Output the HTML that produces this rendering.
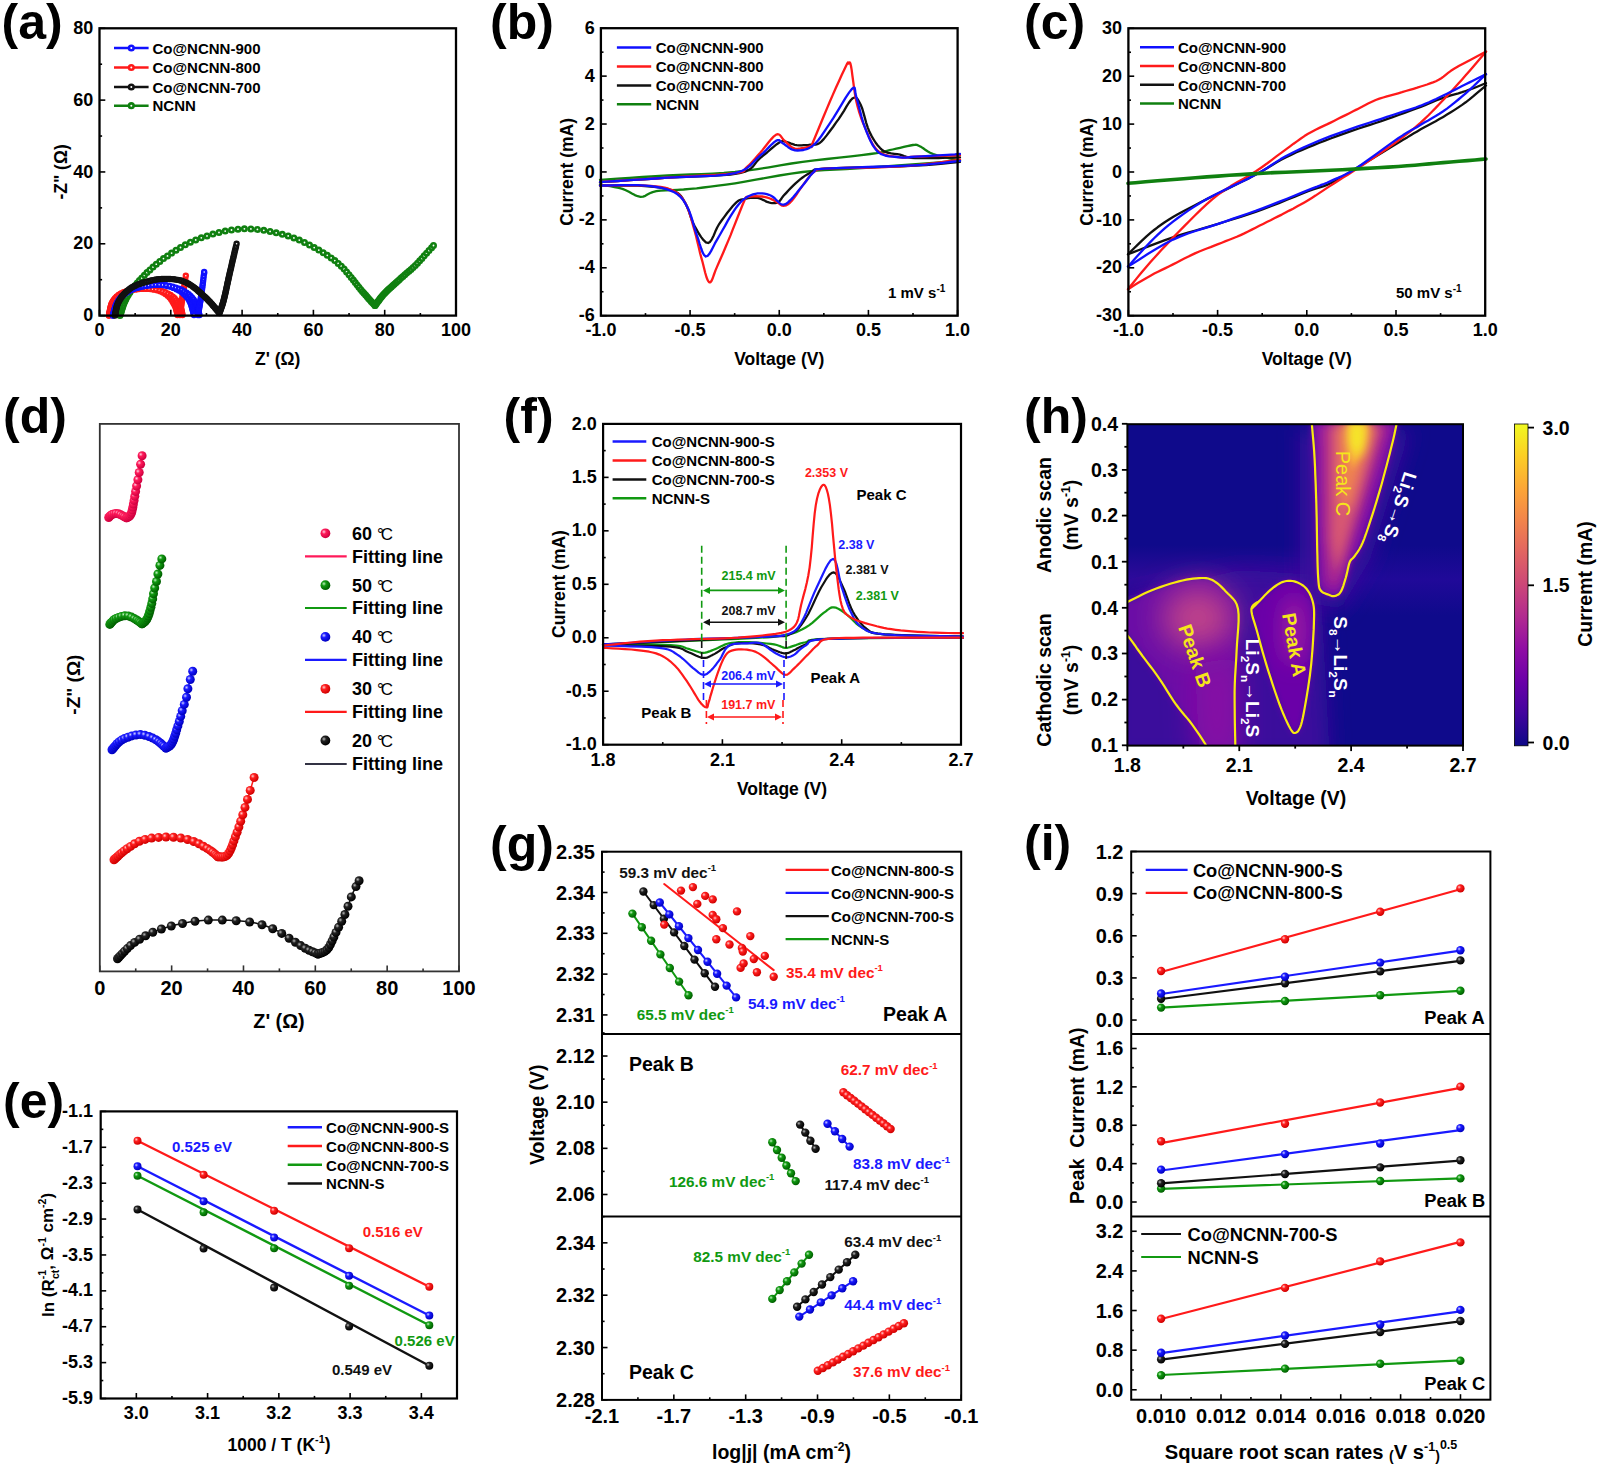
<!DOCTYPE html>
<html><head><meta charset="utf-8"><style>html,body{margin:0;padding:0;background:#fff;} svg{display:block;}</style></head>
<body><svg width="1599" height="1468" viewBox="0 0 1599 1468" font-family='"Liberation Sans", sans-serif'><text x="1.50" y="39.00" font-size="50" text-anchor="start" fill="#000" font-weight="bold">(a)</text>
<circle cx="120.0" cy="315.6" r="2.2" fill="#fff" stroke="#108010" stroke-width="2.6"/>
<circle cx="120.5" cy="314.1" r="2.2" fill="#fff" stroke="#108010" stroke-width="2.6"/>
<circle cx="121.0" cy="312.5" r="2.2" fill="#fff" stroke="#108010" stroke-width="2.6"/>
<circle cx="121.5" cy="310.8" r="2.2" fill="#fff" stroke="#108010" stroke-width="2.6"/>
<circle cx="122.0" cy="309.0" r="2.2" fill="#fff" stroke="#108010" stroke-width="2.6"/>
<circle cx="122.6" cy="307.2" r="2.2" fill="#fff" stroke="#108010" stroke-width="2.6"/>
<circle cx="123.3" cy="305.3" r="2.2" fill="#fff" stroke="#108010" stroke-width="2.6"/>
<circle cx="124.0" cy="303.3" r="2.2" fill="#fff" stroke="#108010" stroke-width="2.6"/>
<circle cx="124.9" cy="301.2" r="2.2" fill="#fff" stroke="#108010" stroke-width="2.6"/>
<circle cx="125.9" cy="299.2" r="2.2" fill="#fff" stroke="#108010" stroke-width="2.6"/>
<circle cx="127.1" cy="297.0" r="2.2" fill="#fff" stroke="#108010" stroke-width="2.6"/>
<circle cx="128.4" cy="294.8" r="2.2" fill="#fff" stroke="#108010" stroke-width="2.6"/>
<circle cx="129.9" cy="292.6" r="2.2" fill="#fff" stroke="#108010" stroke-width="2.6"/>
<circle cx="131.4" cy="290.2" r="2.2" fill="#fff" stroke="#108010" stroke-width="2.6"/>
<circle cx="133.2" cy="287.9" r="2.2" fill="#fff" stroke="#108010" stroke-width="2.6"/>
<circle cx="135.1" cy="285.5" r="2.2" fill="#fff" stroke="#108010" stroke-width="2.6"/>
<circle cx="137.2" cy="283.0" r="2.2" fill="#fff" stroke="#108010" stroke-width="2.6"/>
<circle cx="139.4" cy="280.5" r="2.2" fill="#fff" stroke="#108010" stroke-width="2.6"/>
<circle cx="141.8" cy="278.0" r="2.2" fill="#fff" stroke="#108010" stroke-width="2.6"/>
<circle cx="144.4" cy="275.3" r="2.2" fill="#fff" stroke="#108010" stroke-width="2.6"/>
<circle cx="147.0" cy="272.6" r="2.2" fill="#fff" stroke="#108010" stroke-width="2.6"/>
<circle cx="149.9" cy="269.9" r="2.2" fill="#fff" stroke="#108010" stroke-width="2.6"/>
<circle cx="153.0" cy="267.1" r="2.2" fill="#fff" stroke="#108010" stroke-width="2.6"/>
<circle cx="156.3" cy="264.2" r="2.2" fill="#fff" stroke="#108010" stroke-width="2.6"/>
<circle cx="159.8" cy="261.4" r="2.2" fill="#fff" stroke="#108010" stroke-width="2.6"/>
<circle cx="163.5" cy="258.6" r="2.2" fill="#fff" stroke="#108010" stroke-width="2.6"/>
<circle cx="167.5" cy="255.9" r="2.2" fill="#fff" stroke="#108010" stroke-width="2.6"/>
<circle cx="171.6" cy="253.1" r="2.2" fill="#fff" stroke="#108010" stroke-width="2.6"/>
<circle cx="176.0" cy="250.2" r="2.2" fill="#fff" stroke="#108010" stroke-width="2.6"/>
<circle cx="180.5" cy="247.5" r="2.2" fill="#fff" stroke="#108010" stroke-width="2.6"/>
<circle cx="185.3" cy="244.8" r="2.2" fill="#fff" stroke="#108010" stroke-width="2.6"/>
<circle cx="190.4" cy="242.2" r="2.2" fill="#fff" stroke="#108010" stroke-width="2.6"/>
<circle cx="195.7" cy="239.9" r="2.2" fill="#fff" stroke="#108010" stroke-width="2.6"/>
<circle cx="201.3" cy="237.8" r="2.2" fill="#fff" stroke="#108010" stroke-width="2.6"/>
<circle cx="207.0" cy="235.9" r="2.2" fill="#fff" stroke="#108010" stroke-width="2.6"/>
<circle cx="212.9" cy="234.1" r="2.2" fill="#fff" stroke="#108010" stroke-width="2.6"/>
<circle cx="219.0" cy="232.5" r="2.2" fill="#fff" stroke="#108010" stroke-width="2.6"/>
<circle cx="225.2" cy="231.1" r="2.2" fill="#fff" stroke="#108010" stroke-width="2.6"/>
<circle cx="231.5" cy="230.0" r="2.2" fill="#fff" stroke="#108010" stroke-width="2.6"/>
<circle cx="238.0" cy="229.2" r="2.2" fill="#fff" stroke="#108010" stroke-width="2.6"/>
<circle cx="244.4" cy="228.8" r="2.2" fill="#fff" stroke="#108010" stroke-width="2.6"/>
<circle cx="250.9" cy="228.9" r="2.2" fill="#fff" stroke="#108010" stroke-width="2.6"/>
<circle cx="257.4" cy="229.4" r="2.2" fill="#fff" stroke="#108010" stroke-width="2.6"/>
<circle cx="263.8" cy="230.3" r="2.2" fill="#fff" stroke="#108010" stroke-width="2.6"/>
<circle cx="270.1" cy="231.4" r="2.2" fill="#fff" stroke="#108010" stroke-width="2.6"/>
<circle cx="276.2" cy="232.8" r="2.2" fill="#fff" stroke="#108010" stroke-width="2.6"/>
<circle cx="282.3" cy="234.3" r="2.2" fill="#fff" stroke="#108010" stroke-width="2.6"/>
<circle cx="288.2" cy="235.9" r="2.2" fill="#fff" stroke="#108010" stroke-width="2.6"/>
<circle cx="293.9" cy="237.9" r="2.2" fill="#fff" stroke="#108010" stroke-width="2.6"/>
<circle cx="299.3" cy="240.1" r="2.2" fill="#fff" stroke="#108010" stroke-width="2.6"/>
<circle cx="304.5" cy="242.5" r="2.2" fill="#fff" stroke="#108010" stroke-width="2.6"/>
<circle cx="309.5" cy="245.0" r="2.2" fill="#fff" stroke="#108010" stroke-width="2.6"/>
<circle cx="314.2" cy="247.6" r="2.2" fill="#fff" stroke="#108010" stroke-width="2.6"/>
<circle cx="318.8" cy="250.1" r="2.2" fill="#fff" stroke="#108010" stroke-width="2.6"/>
<circle cx="323.2" cy="252.7" r="2.2" fill="#fff" stroke="#108010" stroke-width="2.6"/>
<circle cx="327.3" cy="255.3" r="2.2" fill="#fff" stroke="#108010" stroke-width="2.6"/>
<circle cx="331.2" cy="257.9" r="2.2" fill="#fff" stroke="#108010" stroke-width="2.6"/>
<circle cx="334.8" cy="260.6" r="2.2" fill="#fff" stroke="#108010" stroke-width="2.6"/>
<circle cx="338.2" cy="263.4" r="2.2" fill="#fff" stroke="#108010" stroke-width="2.6"/>
<circle cx="341.3" cy="266.2" r="2.2" fill="#fff" stroke="#108010" stroke-width="2.6"/>
<circle cx="344.1" cy="269.1" r="2.2" fill="#fff" stroke="#108010" stroke-width="2.6"/>
<circle cx="346.6" cy="271.9" r="2.2" fill="#fff" stroke="#108010" stroke-width="2.6"/>
<circle cx="349.0" cy="274.7" r="2.2" fill="#fff" stroke="#108010" stroke-width="2.6"/>
<circle cx="351.2" cy="277.4" r="2.2" fill="#fff" stroke="#108010" stroke-width="2.6"/>
<circle cx="353.3" cy="280.1" r="2.2" fill="#fff" stroke="#108010" stroke-width="2.6"/>
<circle cx="355.2" cy="282.6" r="2.2" fill="#fff" stroke="#108010" stroke-width="2.6"/>
<circle cx="357.1" cy="285.0" r="2.2" fill="#fff" stroke="#108010" stroke-width="2.6"/>
<circle cx="358.9" cy="287.2" r="2.2" fill="#fff" stroke="#108010" stroke-width="2.6"/>
<circle cx="360.7" cy="289.4" r="2.2" fill="#fff" stroke="#108010" stroke-width="2.6"/>
<circle cx="362.4" cy="291.4" r="2.2" fill="#fff" stroke="#108010" stroke-width="2.6"/>
<circle cx="364.0" cy="293.3" r="2.2" fill="#fff" stroke="#108010" stroke-width="2.6"/>
<circle cx="365.6" cy="295.1" r="2.2" fill="#fff" stroke="#108010" stroke-width="2.6"/>
<circle cx="367.1" cy="296.8" r="2.2" fill="#fff" stroke="#108010" stroke-width="2.6"/>
<circle cx="368.5" cy="298.4" r="2.2" fill="#fff" stroke="#108010" stroke-width="2.6"/>
<circle cx="369.9" cy="300.0" r="2.2" fill="#fff" stroke="#108010" stroke-width="2.6"/>
<circle cx="371.2" cy="301.4" r="2.2" fill="#fff" stroke="#108010" stroke-width="2.6"/>
<circle cx="372.5" cy="302.8" r="2.2" fill="#fff" stroke="#108010" stroke-width="2.6"/>
<circle cx="373.7" cy="304.1" r="2.2" fill="#fff" stroke="#108010" stroke-width="2.6"/>
<circle cx="375.0" cy="305.6" r="2.2" fill="#fff" stroke="#108010" stroke-width="2.6"/>
<circle cx="375.0" cy="305.6" r="2.2" fill="#fff" stroke="#108010" stroke-width="2.6"/>
<circle cx="375.7" cy="304.6" r="2.2" fill="#fff" stroke="#108010" stroke-width="2.6"/>
<circle cx="376.4" cy="303.6" r="2.2" fill="#fff" stroke="#108010" stroke-width="2.6"/>
<circle cx="377.2" cy="302.6" r="2.2" fill="#fff" stroke="#108010" stroke-width="2.6"/>
<circle cx="377.9" cy="301.5" r="2.2" fill="#fff" stroke="#108010" stroke-width="2.6"/>
<circle cx="378.8" cy="300.4" r="2.2" fill="#fff" stroke="#108010" stroke-width="2.6"/>
<circle cx="379.6" cy="299.3" r="2.2" fill="#fff" stroke="#108010" stroke-width="2.6"/>
<circle cx="380.5" cy="298.1" r="2.2" fill="#fff" stroke="#108010" stroke-width="2.6"/>
<circle cx="381.4" cy="296.9" r="2.2" fill="#fff" stroke="#108010" stroke-width="2.6"/>
<circle cx="382.4" cy="295.7" r="2.2" fill="#fff" stroke="#108010" stroke-width="2.6"/>
<circle cx="383.5" cy="294.5" r="2.2" fill="#fff" stroke="#108010" stroke-width="2.6"/>
<circle cx="384.7" cy="293.3" r="2.2" fill="#fff" stroke="#108010" stroke-width="2.6"/>
<circle cx="385.9" cy="292.1" r="2.2" fill="#fff" stroke="#108010" stroke-width="2.6"/>
<circle cx="387.1" cy="290.8" r="2.2" fill="#fff" stroke="#108010" stroke-width="2.6"/>
<circle cx="388.4" cy="289.6" r="2.2" fill="#fff" stroke="#108010" stroke-width="2.6"/>
<circle cx="389.8" cy="288.3" r="2.2" fill="#fff" stroke="#108010" stroke-width="2.6"/>
<circle cx="391.3" cy="286.9" r="2.2" fill="#fff" stroke="#108010" stroke-width="2.6"/>
<circle cx="392.8" cy="285.6" r="2.2" fill="#fff" stroke="#108010" stroke-width="2.6"/>
<circle cx="394.3" cy="284.2" r="2.2" fill="#fff" stroke="#108010" stroke-width="2.6"/>
<circle cx="395.9" cy="282.7" r="2.2" fill="#fff" stroke="#108010" stroke-width="2.6"/>
<circle cx="397.6" cy="281.2" r="2.2" fill="#fff" stroke="#108010" stroke-width="2.6"/>
<circle cx="399.3" cy="279.7" r="2.2" fill="#fff" stroke="#108010" stroke-width="2.6"/>
<circle cx="401.1" cy="278.0" r="2.2" fill="#fff" stroke="#108010" stroke-width="2.6"/>
<circle cx="402.9" cy="276.4" r="2.2" fill="#fff" stroke="#108010" stroke-width="2.6"/>
<circle cx="404.8" cy="274.7" r="2.2" fill="#fff" stroke="#108010" stroke-width="2.6"/>
<circle cx="406.8" cy="273.0" r="2.2" fill="#fff" stroke="#108010" stroke-width="2.6"/>
<circle cx="408.9" cy="271.2" r="2.2" fill="#fff" stroke="#108010" stroke-width="2.6"/>
<circle cx="411.0" cy="269.4" r="2.2" fill="#fff" stroke="#108010" stroke-width="2.6"/>
<circle cx="413.1" cy="267.4" r="2.2" fill="#fff" stroke="#108010" stroke-width="2.6"/>
<circle cx="415.3" cy="265.4" r="2.2" fill="#fff" stroke="#108010" stroke-width="2.6"/>
<circle cx="417.5" cy="263.2" r="2.2" fill="#fff" stroke="#108010" stroke-width="2.6"/>
<circle cx="419.7" cy="260.8" r="2.2" fill="#fff" stroke="#108010" stroke-width="2.6"/>
<circle cx="421.9" cy="258.4" r="2.2" fill="#fff" stroke="#108010" stroke-width="2.6"/>
<circle cx="424.2" cy="255.8" r="2.2" fill="#fff" stroke="#108010" stroke-width="2.6"/>
<circle cx="426.6" cy="253.2" r="2.2" fill="#fff" stroke="#108010" stroke-width="2.6"/>
<circle cx="429.0" cy="250.5" r="2.2" fill="#fff" stroke="#108010" stroke-width="2.6"/>
<circle cx="431.6" cy="247.7" r="2.2" fill="#fff" stroke="#108010" stroke-width="2.6"/>
<circle cx="433.5" cy="245.5" r="2.2" fill="#fff" stroke="#108010" stroke-width="2.6"/>
<circle cx="109.0" cy="315.6" r="2.0" fill="#fff" stroke="#ff1a1a" stroke-width="2.4"/>
<circle cx="109.2" cy="314.6" r="2.0" fill="#fff" stroke="#ff1a1a" stroke-width="2.4"/>
<circle cx="109.4" cy="313.6" r="2.0" fill="#fff" stroke="#ff1a1a" stroke-width="2.4"/>
<circle cx="109.6" cy="312.4" r="2.0" fill="#fff" stroke="#ff1a1a" stroke-width="2.4"/>
<circle cx="109.8" cy="311.2" r="2.0" fill="#fff" stroke="#ff1a1a" stroke-width="2.4"/>
<circle cx="110.1" cy="309.8" r="2.0" fill="#fff" stroke="#ff1a1a" stroke-width="2.4"/>
<circle cx="110.4" cy="308.4" r="2.0" fill="#fff" stroke="#ff1a1a" stroke-width="2.4"/>
<circle cx="110.7" cy="306.8" r="2.0" fill="#fff" stroke="#ff1a1a" stroke-width="2.4"/>
<circle cx="111.2" cy="305.2" r="2.0" fill="#fff" stroke="#ff1a1a" stroke-width="2.4"/>
<circle cx="111.8" cy="303.5" r="2.0" fill="#fff" stroke="#ff1a1a" stroke-width="2.4"/>
<circle cx="112.7" cy="301.7" r="2.0" fill="#fff" stroke="#ff1a1a" stroke-width="2.4"/>
<circle cx="113.8" cy="299.9" r="2.0" fill="#fff" stroke="#ff1a1a" stroke-width="2.4"/>
<circle cx="115.3" cy="298.1" r="2.0" fill="#fff" stroke="#ff1a1a" stroke-width="2.4"/>
<circle cx="117.0" cy="296.4" r="2.0" fill="#fff" stroke="#ff1a1a" stroke-width="2.4"/>
<circle cx="119.0" cy="294.8" r="2.0" fill="#fff" stroke="#ff1a1a" stroke-width="2.4"/>
<circle cx="121.3" cy="293.4" r="2.0" fill="#fff" stroke="#ff1a1a" stroke-width="2.4"/>
<circle cx="124.0" cy="292.2" r="2.0" fill="#fff" stroke="#ff1a1a" stroke-width="2.4"/>
<circle cx="126.9" cy="291.2" r="2.0" fill="#fff" stroke="#ff1a1a" stroke-width="2.4"/>
<circle cx="129.9" cy="290.4" r="2.0" fill="#fff" stroke="#ff1a1a" stroke-width="2.4"/>
<circle cx="133.1" cy="289.8" r="2.0" fill="#fff" stroke="#ff1a1a" stroke-width="2.4"/>
<circle cx="136.5" cy="289.3" r="2.0" fill="#fff" stroke="#ff1a1a" stroke-width="2.4"/>
<circle cx="139.9" cy="288.9" r="2.0" fill="#fff" stroke="#ff1a1a" stroke-width="2.4"/>
<circle cx="143.4" cy="288.8" r="2.0" fill="#fff" stroke="#ff1a1a" stroke-width="2.4"/>
<circle cx="146.9" cy="288.8" r="2.0" fill="#fff" stroke="#ff1a1a" stroke-width="2.4"/>
<circle cx="150.4" cy="289.1" r="2.0" fill="#fff" stroke="#ff1a1a" stroke-width="2.4"/>
<circle cx="153.8" cy="289.5" r="2.0" fill="#fff" stroke="#ff1a1a" stroke-width="2.4"/>
<circle cx="157.0" cy="290.3" r="2.0" fill="#fff" stroke="#ff1a1a" stroke-width="2.4"/>
<circle cx="160.1" cy="291.3" r="2.0" fill="#fff" stroke="#ff1a1a" stroke-width="2.4"/>
<circle cx="162.9" cy="292.6" r="2.0" fill="#fff" stroke="#ff1a1a" stroke-width="2.4"/>
<circle cx="165.4" cy="294.1" r="2.0" fill="#fff" stroke="#ff1a1a" stroke-width="2.4"/>
<circle cx="167.7" cy="295.8" r="2.0" fill="#fff" stroke="#ff1a1a" stroke-width="2.4"/>
<circle cx="169.6" cy="297.6" r="2.0" fill="#fff" stroke="#ff1a1a" stroke-width="2.4"/>
<circle cx="171.2" cy="299.5" r="2.0" fill="#fff" stroke="#ff1a1a" stroke-width="2.4"/>
<circle cx="172.5" cy="301.4" r="2.0" fill="#fff" stroke="#ff1a1a" stroke-width="2.4"/>
<circle cx="173.5" cy="303.2" r="2.0" fill="#fff" stroke="#ff1a1a" stroke-width="2.4"/>
<circle cx="174.5" cy="305.0" r="2.0" fill="#fff" stroke="#ff1a1a" stroke-width="2.4"/>
<circle cx="175.3" cy="306.6" r="2.0" fill="#fff" stroke="#ff1a1a" stroke-width="2.4"/>
<circle cx="175.9" cy="308.2" r="2.0" fill="#fff" stroke="#ff1a1a" stroke-width="2.4"/>
<circle cx="176.3" cy="309.7" r="2.0" fill="#fff" stroke="#ff1a1a" stroke-width="2.4"/>
<circle cx="176.7" cy="311.1" r="2.0" fill="#fff" stroke="#ff1a1a" stroke-width="2.4"/>
<circle cx="177.0" cy="312.4" r="2.0" fill="#fff" stroke="#ff1a1a" stroke-width="2.4"/>
<circle cx="177.2" cy="313.6" r="2.0" fill="#fff" stroke="#ff1a1a" stroke-width="2.4"/>
<circle cx="177.5" cy="315.0" r="2.0" fill="#fff" stroke="#ff1a1a" stroke-width="2.4"/>
<circle cx="109.0" cy="315.6" r="2.0" fill="#fff" stroke="#ff1a1a" stroke-width="2.4"/>
<circle cx="109.2" cy="314.6" r="2.0" fill="#fff" stroke="#ff1a1a" stroke-width="2.4"/>
<circle cx="109.4" cy="313.6" r="2.0" fill="#fff" stroke="#ff1a1a" stroke-width="2.4"/>
<circle cx="109.6" cy="312.4" r="2.0" fill="#fff" stroke="#ff1a1a" stroke-width="2.4"/>
<circle cx="109.8" cy="311.2" r="2.0" fill="#fff" stroke="#ff1a1a" stroke-width="2.4"/>
<circle cx="110.1" cy="309.9" r="2.0" fill="#fff" stroke="#ff1a1a" stroke-width="2.4"/>
<circle cx="110.4" cy="308.4" r="2.0" fill="#fff" stroke="#ff1a1a" stroke-width="2.4"/>
<circle cx="110.7" cy="306.9" r="2.0" fill="#fff" stroke="#ff1a1a" stroke-width="2.4"/>
<circle cx="111.2" cy="305.3" r="2.0" fill="#fff" stroke="#ff1a1a" stroke-width="2.4"/>
<circle cx="111.7" cy="303.6" r="2.0" fill="#fff" stroke="#ff1a1a" stroke-width="2.4"/>
<circle cx="112.6" cy="301.9" r="2.0" fill="#fff" stroke="#ff1a1a" stroke-width="2.4"/>
<circle cx="113.7" cy="300.1" r="2.0" fill="#fff" stroke="#ff1a1a" stroke-width="2.4"/>
<circle cx="115.0" cy="298.4" r="2.0" fill="#fff" stroke="#ff1a1a" stroke-width="2.4"/>
<circle cx="116.6" cy="296.7" r="2.0" fill="#fff" stroke="#ff1a1a" stroke-width="2.4"/>
<circle cx="118.6" cy="295.1" r="2.0" fill="#fff" stroke="#ff1a1a" stroke-width="2.4"/>
<circle cx="120.8" cy="293.6" r="2.0" fill="#fff" stroke="#ff1a1a" stroke-width="2.4"/>
<circle cx="123.3" cy="292.4" r="2.0" fill="#fff" stroke="#ff1a1a" stroke-width="2.4"/>
<circle cx="126.1" cy="291.4" r="2.0" fill="#fff" stroke="#ff1a1a" stroke-width="2.4"/>
<circle cx="129.0" cy="290.6" r="2.0" fill="#fff" stroke="#ff1a1a" stroke-width="2.4"/>
<circle cx="132.2" cy="289.9" r="2.0" fill="#fff" stroke="#ff1a1a" stroke-width="2.4"/>
<circle cx="135.4" cy="289.4" r="2.0" fill="#fff" stroke="#ff1a1a" stroke-width="2.4"/>
<circle cx="138.8" cy="289.0" r="2.0" fill="#fff" stroke="#ff1a1a" stroke-width="2.4"/>
<circle cx="142.3" cy="288.8" r="2.0" fill="#fff" stroke="#ff1a1a" stroke-width="2.4"/>
<circle cx="145.7" cy="288.8" r="2.0" fill="#fff" stroke="#ff1a1a" stroke-width="2.4"/>
<circle cx="149.2" cy="288.9" r="2.0" fill="#fff" stroke="#ff1a1a" stroke-width="2.4"/>
<circle cx="152.7" cy="289.2" r="2.0" fill="#fff" stroke="#ff1a1a" stroke-width="2.4"/>
<circle cx="156.1" cy="289.6" r="2.0" fill="#fff" stroke="#ff1a1a" stroke-width="2.4"/>
<circle cx="159.4" cy="290.3" r="2.0" fill="#fff" stroke="#ff1a1a" stroke-width="2.4"/>
<circle cx="162.5" cy="291.2" r="2.0" fill="#fff" stroke="#ff1a1a" stroke-width="2.4"/>
<circle cx="165.4" cy="292.3" r="2.0" fill="#fff" stroke="#ff1a1a" stroke-width="2.4"/>
<circle cx="168.1" cy="293.6" r="2.0" fill="#fff" stroke="#ff1a1a" stroke-width="2.4"/>
<circle cx="170.6" cy="295.0" r="2.0" fill="#fff" stroke="#ff1a1a" stroke-width="2.4"/>
<circle cx="172.8" cy="296.6" r="2.0" fill="#fff" stroke="#ff1a1a" stroke-width="2.4"/>
<circle cx="174.6" cy="298.3" r="2.0" fill="#fff" stroke="#ff1a1a" stroke-width="2.4"/>
<circle cx="176.2" cy="300.1" r="2.0" fill="#fff" stroke="#ff1a1a" stroke-width="2.4"/>
<circle cx="177.5" cy="301.9" r="2.0" fill="#fff" stroke="#ff1a1a" stroke-width="2.4"/>
<circle cx="178.6" cy="303.6" r="2.0" fill="#fff" stroke="#ff1a1a" stroke-width="2.4"/>
<circle cx="179.6" cy="305.3" r="2.0" fill="#fff" stroke="#ff1a1a" stroke-width="2.4"/>
<circle cx="180.4" cy="306.8" r="2.0" fill="#fff" stroke="#ff1a1a" stroke-width="2.4"/>
<circle cx="181.0" cy="308.4" r="2.0" fill="#fff" stroke="#ff1a1a" stroke-width="2.4"/>
<circle cx="181.4" cy="309.8" r="2.0" fill="#fff" stroke="#ff1a1a" stroke-width="2.4"/>
<circle cx="181.8" cy="311.2" r="2.0" fill="#fff" stroke="#ff1a1a" stroke-width="2.4"/>
<circle cx="182.0" cy="312.5" r="2.0" fill="#fff" stroke="#ff1a1a" stroke-width="2.4"/>
<circle cx="182.2" cy="313.7" r="2.0" fill="#fff" stroke="#ff1a1a" stroke-width="2.4"/>
<circle cx="182.5" cy="315.0" r="2.0" fill="#fff" stroke="#ff1a1a" stroke-width="2.4"/>
<circle cx="180.0" cy="315.0" r="2.0" fill="#fff" stroke="#ff1a1a" stroke-width="2.4"/>
<circle cx="180.1" cy="314.0" r="2.0" fill="#fff" stroke="#ff1a1a" stroke-width="2.4"/>
<circle cx="180.3" cy="313.0" r="2.0" fill="#fff" stroke="#ff1a1a" stroke-width="2.4"/>
<circle cx="180.4" cy="311.9" r="2.0" fill="#fff" stroke="#ff1a1a" stroke-width="2.4"/>
<circle cx="180.6" cy="310.7" r="2.0" fill="#fff" stroke="#ff1a1a" stroke-width="2.4"/>
<circle cx="180.7" cy="309.5" r="2.0" fill="#fff" stroke="#ff1a1a" stroke-width="2.4"/>
<circle cx="180.9" cy="308.2" r="2.0" fill="#fff" stroke="#ff1a1a" stroke-width="2.4"/>
<circle cx="181.1" cy="306.9" r="2.0" fill="#fff" stroke="#ff1a1a" stroke-width="2.4"/>
<circle cx="181.2" cy="305.5" r="2.0" fill="#fff" stroke="#ff1a1a" stroke-width="2.4"/>
<circle cx="181.4" cy="304.0" r="2.0" fill="#fff" stroke="#ff1a1a" stroke-width="2.4"/>
<circle cx="181.6" cy="302.5" r="2.0" fill="#fff" stroke="#ff1a1a" stroke-width="2.4"/>
<circle cx="181.9" cy="300.9" r="2.0" fill="#fff" stroke="#ff1a1a" stroke-width="2.4"/>
<circle cx="182.1" cy="299.2" r="2.0" fill="#fff" stroke="#ff1a1a" stroke-width="2.4"/>
<circle cx="182.4" cy="297.4" r="2.0" fill="#fff" stroke="#ff1a1a" stroke-width="2.4"/>
<circle cx="182.7" cy="295.5" r="2.0" fill="#fff" stroke="#ff1a1a" stroke-width="2.4"/>
<circle cx="183.1" cy="293.6" r="2.0" fill="#fff" stroke="#ff1a1a" stroke-width="2.4"/>
<circle cx="183.4" cy="291.5" r="2.0" fill="#fff" stroke="#ff1a1a" stroke-width="2.4"/>
<circle cx="183.8" cy="289.3" r="2.0" fill="#fff" stroke="#ff1a1a" stroke-width="2.4"/>
<circle cx="184.1" cy="287.1" r="2.0" fill="#fff" stroke="#ff1a1a" stroke-width="2.4"/>
<circle cx="184.5" cy="284.7" r="2.0" fill="#fff" stroke="#ff1a1a" stroke-width="2.4"/>
<circle cx="184.9" cy="282.1" r="2.0" fill="#fff" stroke="#ff1a1a" stroke-width="2.4"/>
<circle cx="185.3" cy="279.5" r="2.0" fill="#fff" stroke="#ff1a1a" stroke-width="2.4"/>
<circle cx="185.8" cy="275.8" r="2.0" fill="#fff" stroke="#ff1a1a" stroke-width="2.4"/>
<circle cx="113.0" cy="315.6" r="2.0" fill="#fff" stroke="#1010ff" stroke-width="2.4"/>
<circle cx="113.3" cy="314.6" r="2.0" fill="#fff" stroke="#1010ff" stroke-width="2.4"/>
<circle cx="113.5" cy="313.6" r="2.0" fill="#fff" stroke="#1010ff" stroke-width="2.4"/>
<circle cx="113.8" cy="312.5" r="2.0" fill="#fff" stroke="#1010ff" stroke-width="2.4"/>
<circle cx="114.1" cy="311.3" r="2.0" fill="#fff" stroke="#1010ff" stroke-width="2.4"/>
<circle cx="114.4" cy="310.0" r="2.0" fill="#fff" stroke="#1010ff" stroke-width="2.4"/>
<circle cx="114.8" cy="308.7" r="2.0" fill="#fff" stroke="#1010ff" stroke-width="2.4"/>
<circle cx="115.3" cy="307.3" r="2.0" fill="#fff" stroke="#1010ff" stroke-width="2.4"/>
<circle cx="115.8" cy="305.7" r="2.0" fill="#fff" stroke="#1010ff" stroke-width="2.4"/>
<circle cx="116.4" cy="304.2" r="2.0" fill="#fff" stroke="#1010ff" stroke-width="2.4"/>
<circle cx="117.2" cy="302.5" r="2.0" fill="#fff" stroke="#1010ff" stroke-width="2.4"/>
<circle cx="118.2" cy="300.9" r="2.0" fill="#fff" stroke="#1010ff" stroke-width="2.4"/>
<circle cx="119.4" cy="299.2" r="2.0" fill="#fff" stroke="#1010ff" stroke-width="2.4"/>
<circle cx="120.8" cy="297.5" r="2.0" fill="#fff" stroke="#1010ff" stroke-width="2.4"/>
<circle cx="122.4" cy="295.8" r="2.0" fill="#fff" stroke="#1010ff" stroke-width="2.4"/>
<circle cx="124.2" cy="294.1" r="2.0" fill="#fff" stroke="#1010ff" stroke-width="2.4"/>
<circle cx="126.3" cy="292.6" r="2.0" fill="#fff" stroke="#1010ff" stroke-width="2.4"/>
<circle cx="128.6" cy="291.2" r="2.0" fill="#fff" stroke="#1010ff" stroke-width="2.4"/>
<circle cx="131.2" cy="289.9" r="2.0" fill="#fff" stroke="#1010ff" stroke-width="2.4"/>
<circle cx="134.0" cy="288.8" r="2.0" fill="#fff" stroke="#1010ff" stroke-width="2.4"/>
<circle cx="137.0" cy="287.9" r="2.0" fill="#fff" stroke="#1010ff" stroke-width="2.4"/>
<circle cx="140.1" cy="287.1" r="2.0" fill="#fff" stroke="#1010ff" stroke-width="2.4"/>
<circle cx="143.3" cy="286.3" r="2.0" fill="#fff" stroke="#1010ff" stroke-width="2.4"/>
<circle cx="146.7" cy="285.7" r="2.0" fill="#fff" stroke="#1010ff" stroke-width="2.4"/>
<circle cx="150.1" cy="285.2" r="2.0" fill="#fff" stroke="#1010ff" stroke-width="2.4"/>
<circle cx="153.5" cy="284.8" r="2.0" fill="#fff" stroke="#1010ff" stroke-width="2.4"/>
<circle cx="157.0" cy="284.7" r="2.0" fill="#fff" stroke="#1010ff" stroke-width="2.4"/>
<circle cx="160.5" cy="284.9" r="2.0" fill="#fff" stroke="#1010ff" stroke-width="2.4"/>
<circle cx="164.0" cy="285.3" r="2.0" fill="#fff" stroke="#1010ff" stroke-width="2.4"/>
<circle cx="167.3" cy="286.0" r="2.0" fill="#fff" stroke="#1010ff" stroke-width="2.4"/>
<circle cx="170.5" cy="286.8" r="2.0" fill="#fff" stroke="#1010ff" stroke-width="2.4"/>
<circle cx="173.5" cy="287.9" r="2.0" fill="#fff" stroke="#1010ff" stroke-width="2.4"/>
<circle cx="176.4" cy="289.2" r="2.0" fill="#fff" stroke="#1010ff" stroke-width="2.4"/>
<circle cx="179.0" cy="290.6" r="2.0" fill="#fff" stroke="#1010ff" stroke-width="2.4"/>
<circle cx="181.4" cy="292.1" r="2.0" fill="#fff" stroke="#1010ff" stroke-width="2.4"/>
<circle cx="183.5" cy="293.8" r="2.0" fill="#fff" stroke="#1010ff" stroke-width="2.4"/>
<circle cx="185.4" cy="295.5" r="2.0" fill="#fff" stroke="#1010ff" stroke-width="2.4"/>
<circle cx="187.0" cy="297.3" r="2.0" fill="#fff" stroke="#1010ff" stroke-width="2.4"/>
<circle cx="188.4" cy="299.1" r="2.0" fill="#fff" stroke="#1010ff" stroke-width="2.4"/>
<circle cx="189.5" cy="301.0" r="2.0" fill="#fff" stroke="#1010ff" stroke-width="2.4"/>
<circle cx="190.4" cy="302.8" r="2.0" fill="#fff" stroke="#1010ff" stroke-width="2.4"/>
<circle cx="191.1" cy="304.5" r="2.0" fill="#fff" stroke="#1010ff" stroke-width="2.4"/>
<circle cx="191.6" cy="306.2" r="2.0" fill="#fff" stroke="#1010ff" stroke-width="2.4"/>
<circle cx="192.1" cy="307.7" r="2.0" fill="#fff" stroke="#1010ff" stroke-width="2.4"/>
<circle cx="192.5" cy="309.2" r="2.0" fill="#fff" stroke="#1010ff" stroke-width="2.4"/>
<circle cx="192.8" cy="310.6" r="2.0" fill="#fff" stroke="#1010ff" stroke-width="2.4"/>
<circle cx="193.2" cy="311.9" r="2.0" fill="#fff" stroke="#1010ff" stroke-width="2.4"/>
<circle cx="193.5" cy="313.1" r="2.0" fill="#fff" stroke="#1010ff" stroke-width="2.4"/>
<circle cx="194.0" cy="315.0" r="2.0" fill="#fff" stroke="#1010ff" stroke-width="2.4"/>
<circle cx="113.0" cy="315.6" r="2.0" fill="#fff" stroke="#1010ff" stroke-width="2.4"/>
<circle cx="113.3" cy="314.6" r="2.0" fill="#fff" stroke="#1010ff" stroke-width="2.4"/>
<circle cx="113.5" cy="313.6" r="2.0" fill="#fff" stroke="#1010ff" stroke-width="2.4"/>
<circle cx="113.8" cy="312.5" r="2.0" fill="#fff" stroke="#1010ff" stroke-width="2.4"/>
<circle cx="114.1" cy="311.3" r="2.0" fill="#fff" stroke="#1010ff" stroke-width="2.4"/>
<circle cx="114.4" cy="310.1" r="2.0" fill="#fff" stroke="#1010ff" stroke-width="2.4"/>
<circle cx="114.8" cy="308.7" r="2.0" fill="#fff" stroke="#1010ff" stroke-width="2.4"/>
<circle cx="115.2" cy="307.3" r="2.0" fill="#fff" stroke="#1010ff" stroke-width="2.4"/>
<circle cx="115.7" cy="305.8" r="2.0" fill="#fff" stroke="#1010ff" stroke-width="2.4"/>
<circle cx="116.3" cy="304.3" r="2.0" fill="#fff" stroke="#1010ff" stroke-width="2.4"/>
<circle cx="117.1" cy="302.7" r="2.0" fill="#fff" stroke="#1010ff" stroke-width="2.4"/>
<circle cx="118.1" cy="301.1" r="2.0" fill="#fff" stroke="#1010ff" stroke-width="2.4"/>
<circle cx="119.3" cy="299.4" r="2.0" fill="#fff" stroke="#1010ff" stroke-width="2.4"/>
<circle cx="120.6" cy="297.8" r="2.0" fill="#fff" stroke="#1010ff" stroke-width="2.4"/>
<circle cx="122.1" cy="296.1" r="2.0" fill="#fff" stroke="#1010ff" stroke-width="2.4"/>
<circle cx="123.9" cy="294.5" r="2.0" fill="#fff" stroke="#1010ff" stroke-width="2.4"/>
<circle cx="125.8" cy="292.9" r="2.0" fill="#fff" stroke="#1010ff" stroke-width="2.4"/>
<circle cx="128.1" cy="291.5" r="2.0" fill="#fff" stroke="#1010ff" stroke-width="2.4"/>
<circle cx="130.5" cy="290.2" r="2.0" fill="#fff" stroke="#1010ff" stroke-width="2.4"/>
<circle cx="133.2" cy="289.1" r="2.0" fill="#fff" stroke="#1010ff" stroke-width="2.4"/>
<circle cx="136.1" cy="288.1" r="2.0" fill="#fff" stroke="#1010ff" stroke-width="2.4"/>
<circle cx="139.1" cy="287.3" r="2.0" fill="#fff" stroke="#1010ff" stroke-width="2.4"/>
<circle cx="142.2" cy="286.5" r="2.0" fill="#fff" stroke="#1010ff" stroke-width="2.4"/>
<circle cx="145.5" cy="285.9" r="2.0" fill="#fff" stroke="#1010ff" stroke-width="2.4"/>
<circle cx="148.9" cy="285.4" r="2.0" fill="#fff" stroke="#1010ff" stroke-width="2.4"/>
<circle cx="152.3" cy="285.0" r="2.0" fill="#fff" stroke="#1010ff" stroke-width="2.4"/>
<circle cx="155.8" cy="284.8" r="2.0" fill="#fff" stroke="#1010ff" stroke-width="2.4"/>
<circle cx="159.3" cy="284.7" r="2.0" fill="#fff" stroke="#1010ff" stroke-width="2.4"/>
<circle cx="162.8" cy="284.9" r="2.0" fill="#fff" stroke="#1010ff" stroke-width="2.4"/>
<circle cx="166.2" cy="285.3" r="2.0" fill="#fff" stroke="#1010ff" stroke-width="2.4"/>
<circle cx="169.6" cy="285.9" r="2.0" fill="#fff" stroke="#1010ff" stroke-width="2.4"/>
<circle cx="172.8" cy="286.6" r="2.0" fill="#fff" stroke="#1010ff" stroke-width="2.4"/>
<circle cx="175.9" cy="287.6" r="2.0" fill="#fff" stroke="#1010ff" stroke-width="2.4"/>
<circle cx="178.9" cy="288.6" r="2.0" fill="#fff" stroke="#1010ff" stroke-width="2.4"/>
<circle cx="181.6" cy="289.8" r="2.0" fill="#fff" stroke="#1010ff" stroke-width="2.4"/>
<circle cx="184.2" cy="291.2" r="2.0" fill="#fff" stroke="#1010ff" stroke-width="2.4"/>
<circle cx="186.5" cy="292.7" r="2.0" fill="#fff" stroke="#1010ff" stroke-width="2.4"/>
<circle cx="188.7" cy="294.3" r="2.0" fill="#fff" stroke="#1010ff" stroke-width="2.4"/>
<circle cx="190.5" cy="295.9" r="2.0" fill="#fff" stroke="#1010ff" stroke-width="2.4"/>
<circle cx="192.1" cy="297.6" r="2.0" fill="#fff" stroke="#1010ff" stroke-width="2.4"/>
<circle cx="193.5" cy="299.4" r="2.0" fill="#fff" stroke="#1010ff" stroke-width="2.4"/>
<circle cx="194.7" cy="301.1" r="2.0" fill="#fff" stroke="#1010ff" stroke-width="2.4"/>
<circle cx="195.6" cy="302.9" r="2.0" fill="#fff" stroke="#1010ff" stroke-width="2.4"/>
<circle cx="196.3" cy="304.6" r="2.0" fill="#fff" stroke="#1010ff" stroke-width="2.4"/>
<circle cx="196.9" cy="306.2" r="2.0" fill="#fff" stroke="#1010ff" stroke-width="2.4"/>
<circle cx="197.4" cy="307.7" r="2.0" fill="#fff" stroke="#1010ff" stroke-width="2.4"/>
<circle cx="197.8" cy="309.2" r="2.0" fill="#fff" stroke="#1010ff" stroke-width="2.4"/>
<circle cx="198.2" cy="310.5" r="2.0" fill="#fff" stroke="#1010ff" stroke-width="2.4"/>
<circle cx="198.5" cy="311.8" r="2.0" fill="#fff" stroke="#1010ff" stroke-width="2.4"/>
<circle cx="198.9" cy="313.0" r="2.0" fill="#fff" stroke="#1010ff" stroke-width="2.4"/>
<circle cx="199.5" cy="315.0" r="2.0" fill="#fff" stroke="#1010ff" stroke-width="2.4"/>
<circle cx="198.0" cy="315.0" r="2.0" fill="#fff" stroke="#1010ff" stroke-width="2.4"/>
<circle cx="198.2" cy="314.0" r="2.0" fill="#fff" stroke="#1010ff" stroke-width="2.4"/>
<circle cx="198.3" cy="313.0" r="2.0" fill="#fff" stroke="#1010ff" stroke-width="2.4"/>
<circle cx="198.5" cy="311.9" r="2.0" fill="#fff" stroke="#1010ff" stroke-width="2.4"/>
<circle cx="198.7" cy="310.8" r="2.0" fill="#fff" stroke="#1010ff" stroke-width="2.4"/>
<circle cx="198.9" cy="309.6" r="2.0" fill="#fff" stroke="#1010ff" stroke-width="2.4"/>
<circle cx="199.1" cy="308.4" r="2.0" fill="#fff" stroke="#1010ff" stroke-width="2.4"/>
<circle cx="199.3" cy="307.1" r="2.0" fill="#fff" stroke="#1010ff" stroke-width="2.4"/>
<circle cx="199.6" cy="305.7" r="2.0" fill="#fff" stroke="#1010ff" stroke-width="2.4"/>
<circle cx="199.8" cy="304.3" r="2.0" fill="#fff" stroke="#1010ff" stroke-width="2.4"/>
<circle cx="200.0" cy="302.8" r="2.0" fill="#fff" stroke="#1010ff" stroke-width="2.4"/>
<circle cx="200.3" cy="301.3" r="2.0" fill="#fff" stroke="#1010ff" stroke-width="2.4"/>
<circle cx="200.6" cy="299.7" r="2.0" fill="#fff" stroke="#1010ff" stroke-width="2.4"/>
<circle cx="200.8" cy="298.0" r="2.0" fill="#fff" stroke="#1010ff" stroke-width="2.4"/>
<circle cx="201.1" cy="296.2" r="2.0" fill="#fff" stroke="#1010ff" stroke-width="2.4"/>
<circle cx="201.4" cy="294.3" r="2.0" fill="#fff" stroke="#1010ff" stroke-width="2.4"/>
<circle cx="201.6" cy="292.4" r="2.0" fill="#fff" stroke="#1010ff" stroke-width="2.4"/>
<circle cx="201.9" cy="290.3" r="2.0" fill="#fff" stroke="#1010ff" stroke-width="2.4"/>
<circle cx="202.2" cy="288.2" r="2.0" fill="#fff" stroke="#1010ff" stroke-width="2.4"/>
<circle cx="202.5" cy="286.0" r="2.0" fill="#fff" stroke="#1010ff" stroke-width="2.4"/>
<circle cx="202.8" cy="283.7" r="2.0" fill="#fff" stroke="#1010ff" stroke-width="2.4"/>
<circle cx="203.1" cy="281.2" r="2.0" fill="#fff" stroke="#1010ff" stroke-width="2.4"/>
<circle cx="203.4" cy="278.7" r="2.0" fill="#fff" stroke="#1010ff" stroke-width="2.4"/>
<circle cx="203.7" cy="276.0" r="2.0" fill="#fff" stroke="#1010ff" stroke-width="2.4"/>
<circle cx="204.1" cy="273.2" r="2.0" fill="#fff" stroke="#1010ff" stroke-width="2.4"/>
<circle cx="204.2" cy="272.0" r="2.0" fill="#fff" stroke="#1010ff" stroke-width="2.4"/>
<circle cx="115.0" cy="315.6" r="2.0" fill="#fff" stroke="#111" stroke-width="2.4"/>
<circle cx="115.2" cy="314.7" r="2.0" fill="#fff" stroke="#111" stroke-width="2.4"/>
<circle cx="115.3" cy="313.8" r="2.0" fill="#fff" stroke="#111" stroke-width="2.4"/>
<circle cx="115.5" cy="312.9" r="2.0" fill="#fff" stroke="#111" stroke-width="2.4"/>
<circle cx="115.7" cy="311.9" r="2.0" fill="#fff" stroke="#111" stroke-width="2.4"/>
<circle cx="115.8" cy="310.9" r="2.0" fill="#fff" stroke="#111" stroke-width="2.4"/>
<circle cx="116.0" cy="309.9" r="2.0" fill="#fff" stroke="#111" stroke-width="2.4"/>
<circle cx="116.2" cy="308.9" r="2.0" fill="#fff" stroke="#111" stroke-width="2.4"/>
<circle cx="116.5" cy="307.9" r="2.0" fill="#fff" stroke="#111" stroke-width="2.4"/>
<circle cx="116.7" cy="306.8" r="2.0" fill="#fff" stroke="#111" stroke-width="2.4"/>
<circle cx="117.0" cy="305.7" r="2.0" fill="#fff" stroke="#111" stroke-width="2.4"/>
<circle cx="117.4" cy="304.6" r="2.0" fill="#fff" stroke="#111" stroke-width="2.4"/>
<circle cx="117.8" cy="303.5" r="2.0" fill="#fff" stroke="#111" stroke-width="2.4"/>
<circle cx="118.3" cy="302.4" r="2.0" fill="#fff" stroke="#111" stroke-width="2.4"/>
<circle cx="118.9" cy="301.3" r="2.0" fill="#fff" stroke="#111" stroke-width="2.4"/>
<circle cx="119.5" cy="300.2" r="2.0" fill="#fff" stroke="#111" stroke-width="2.4"/>
<circle cx="120.2" cy="299.1" r="2.0" fill="#fff" stroke="#111" stroke-width="2.4"/>
<circle cx="120.9" cy="297.9" r="2.0" fill="#fff" stroke="#111" stroke-width="2.4"/>
<circle cx="121.7" cy="296.8" r="2.0" fill="#fff" stroke="#111" stroke-width="2.4"/>
<circle cx="122.5" cy="295.7" r="2.0" fill="#fff" stroke="#111" stroke-width="2.4"/>
<circle cx="123.5" cy="294.6" r="2.0" fill="#fff" stroke="#111" stroke-width="2.4"/>
<circle cx="124.4" cy="293.6" r="2.0" fill="#fff" stroke="#111" stroke-width="2.4"/>
<circle cx="125.5" cy="292.5" r="2.0" fill="#fff" stroke="#111" stroke-width="2.4"/>
<circle cx="126.6" cy="291.4" r="2.0" fill="#fff" stroke="#111" stroke-width="2.4"/>
<circle cx="127.8" cy="290.4" r="2.0" fill="#fff" stroke="#111" stroke-width="2.4"/>
<circle cx="129.0" cy="289.4" r="2.0" fill="#fff" stroke="#111" stroke-width="2.4"/>
<circle cx="130.3" cy="288.4" r="2.0" fill="#fff" stroke="#111" stroke-width="2.4"/>
<circle cx="131.7" cy="287.5" r="2.0" fill="#fff" stroke="#111" stroke-width="2.4"/>
<circle cx="133.1" cy="286.7" r="2.0" fill="#fff" stroke="#111" stroke-width="2.4"/>
<circle cx="134.6" cy="285.9" r="2.0" fill="#fff" stroke="#111" stroke-width="2.4"/>
<circle cx="136.2" cy="285.2" r="2.0" fill="#fff" stroke="#111" stroke-width="2.4"/>
<circle cx="137.9" cy="284.5" r="2.0" fill="#fff" stroke="#111" stroke-width="2.4"/>
<circle cx="139.6" cy="283.9" r="2.0" fill="#fff" stroke="#111" stroke-width="2.4"/>
<circle cx="141.3" cy="283.3" r="2.0" fill="#fff" stroke="#111" stroke-width="2.4"/>
<circle cx="143.0" cy="282.8" r="2.0" fill="#fff" stroke="#111" stroke-width="2.4"/>
<circle cx="144.8" cy="282.2" r="2.0" fill="#fff" stroke="#111" stroke-width="2.4"/>
<circle cx="146.6" cy="281.7" r="2.0" fill="#fff" stroke="#111" stroke-width="2.4"/>
<circle cx="148.5" cy="281.2" r="2.0" fill="#fff" stroke="#111" stroke-width="2.4"/>
<circle cx="150.3" cy="280.7" r="2.0" fill="#fff" stroke="#111" stroke-width="2.4"/>
<circle cx="152.2" cy="280.3" r="2.0" fill="#fff" stroke="#111" stroke-width="2.4"/>
<circle cx="154.2" cy="279.9" r="2.0" fill="#fff" stroke="#111" stroke-width="2.4"/>
<circle cx="156.1" cy="279.5" r="2.0" fill="#fff" stroke="#111" stroke-width="2.4"/>
<circle cx="158.1" cy="279.3" r="2.0" fill="#fff" stroke="#111" stroke-width="2.4"/>
<circle cx="160.0" cy="279.1" r="2.0" fill="#fff" stroke="#111" stroke-width="2.4"/>
<circle cx="162.0" cy="279.0" r="2.0" fill="#fff" stroke="#111" stroke-width="2.4"/>
<circle cx="164.0" cy="278.9" r="2.0" fill="#fff" stroke="#111" stroke-width="2.4"/>
<circle cx="166.0" cy="278.9" r="2.0" fill="#fff" stroke="#111" stroke-width="2.4"/>
<circle cx="168.0" cy="278.9" r="2.0" fill="#fff" stroke="#111" stroke-width="2.4"/>
<circle cx="170.0" cy="279.0" r="2.0" fill="#fff" stroke="#111" stroke-width="2.4"/>
<circle cx="172.0" cy="279.1" r="2.0" fill="#fff" stroke="#111" stroke-width="2.4"/>
<circle cx="174.0" cy="279.3" r="2.0" fill="#fff" stroke="#111" stroke-width="2.4"/>
<circle cx="175.9" cy="279.6" r="2.0" fill="#fff" stroke="#111" stroke-width="2.4"/>
<circle cx="177.9" cy="279.9" r="2.0" fill="#fff" stroke="#111" stroke-width="2.4"/>
<circle cx="179.8" cy="280.3" r="2.0" fill="#fff" stroke="#111" stroke-width="2.4"/>
<circle cx="181.6" cy="280.8" r="2.0" fill="#fff" stroke="#111" stroke-width="2.4"/>
<circle cx="183.4" cy="281.4" r="2.0" fill="#fff" stroke="#111" stroke-width="2.4"/>
<circle cx="185.2" cy="282.1" r="2.0" fill="#fff" stroke="#111" stroke-width="2.4"/>
<circle cx="186.9" cy="282.9" r="2.0" fill="#fff" stroke="#111" stroke-width="2.4"/>
<circle cx="188.5" cy="283.7" r="2.0" fill="#fff" stroke="#111" stroke-width="2.4"/>
<circle cx="190.0" cy="284.7" r="2.0" fill="#fff" stroke="#111" stroke-width="2.4"/>
<circle cx="191.5" cy="285.6" r="2.0" fill="#fff" stroke="#111" stroke-width="2.4"/>
<circle cx="193.0" cy="286.7" r="2.0" fill="#fff" stroke="#111" stroke-width="2.4"/>
<circle cx="194.4" cy="287.7" r="2.0" fill="#fff" stroke="#111" stroke-width="2.4"/>
<circle cx="195.7" cy="288.8" r="2.0" fill="#fff" stroke="#111" stroke-width="2.4"/>
<circle cx="197.0" cy="289.8" r="2.0" fill="#fff" stroke="#111" stroke-width="2.4"/>
<circle cx="198.2" cy="290.9" r="2.0" fill="#fff" stroke="#111" stroke-width="2.4"/>
<circle cx="199.4" cy="292.0" r="2.0" fill="#fff" stroke="#111" stroke-width="2.4"/>
<circle cx="200.6" cy="293.0" r="2.0" fill="#fff" stroke="#111" stroke-width="2.4"/>
<circle cx="201.7" cy="294.0" r="2.0" fill="#fff" stroke="#111" stroke-width="2.4"/>
<circle cx="202.9" cy="295.1" r="2.0" fill="#fff" stroke="#111" stroke-width="2.4"/>
<circle cx="204.0" cy="296.1" r="2.0" fill="#fff" stroke="#111" stroke-width="2.4"/>
<circle cx="205.0" cy="297.0" r="2.0" fill="#fff" stroke="#111" stroke-width="2.4"/>
<circle cx="206.1" cy="298.0" r="2.0" fill="#fff" stroke="#111" stroke-width="2.4"/>
<circle cx="207.1" cy="299.0" r="2.0" fill="#fff" stroke="#111" stroke-width="2.4"/>
<circle cx="208.0" cy="299.9" r="2.0" fill="#fff" stroke="#111" stroke-width="2.4"/>
<circle cx="208.9" cy="300.9" r="2.0" fill="#fff" stroke="#111" stroke-width="2.4"/>
<circle cx="209.8" cy="301.8" r="2.0" fill="#fff" stroke="#111" stroke-width="2.4"/>
<circle cx="210.6" cy="302.7" r="2.0" fill="#fff" stroke="#111" stroke-width="2.4"/>
<circle cx="211.5" cy="303.6" r="2.0" fill="#fff" stroke="#111" stroke-width="2.4"/>
<circle cx="212.2" cy="304.5" r="2.0" fill="#fff" stroke="#111" stroke-width="2.4"/>
<circle cx="213.0" cy="305.4" r="2.0" fill="#fff" stroke="#111" stroke-width="2.4"/>
<circle cx="213.7" cy="306.3" r="2.0" fill="#fff" stroke="#111" stroke-width="2.4"/>
<circle cx="214.5" cy="307.1" r="2.0" fill="#fff" stroke="#111" stroke-width="2.4"/>
<circle cx="215.2" cy="307.9" r="2.0" fill="#fff" stroke="#111" stroke-width="2.4"/>
<circle cx="215.8" cy="308.8" r="2.0" fill="#fff" stroke="#111" stroke-width="2.4"/>
<circle cx="216.5" cy="309.5" r="2.0" fill="#fff" stroke="#111" stroke-width="2.4"/>
<circle cx="217.1" cy="310.3" r="2.0" fill="#fff" stroke="#111" stroke-width="2.4"/>
<circle cx="217.8" cy="311.1" r="2.0" fill="#fff" stroke="#111" stroke-width="2.4"/>
<circle cx="218.4" cy="311.8" r="2.0" fill="#fff" stroke="#111" stroke-width="2.4"/>
<circle cx="219.0" cy="312.5" r="2.0" fill="#fff" stroke="#111" stroke-width="2.4"/>
<circle cx="219.5" cy="313.0" r="2.0" fill="#fff" stroke="#111" stroke-width="2.4"/>
<circle cx="219.8" cy="312.1" r="2.0" fill="#fff" stroke="#111" stroke-width="2.4"/>
<circle cx="220.2" cy="311.1" r="2.0" fill="#fff" stroke="#111" stroke-width="2.4"/>
<circle cx="220.5" cy="310.1" r="2.0" fill="#fff" stroke="#111" stroke-width="2.4"/>
<circle cx="220.9" cy="309.1" r="2.0" fill="#fff" stroke="#111" stroke-width="2.4"/>
<circle cx="221.2" cy="308.1" r="2.0" fill="#fff" stroke="#111" stroke-width="2.4"/>
<circle cx="221.6" cy="307.1" r="2.0" fill="#fff" stroke="#111" stroke-width="2.4"/>
<circle cx="221.9" cy="306.0" r="2.0" fill="#fff" stroke="#111" stroke-width="2.4"/>
<circle cx="222.3" cy="305.0" r="2.0" fill="#fff" stroke="#111" stroke-width="2.4"/>
<circle cx="222.6" cy="303.9" r="2.0" fill="#fff" stroke="#111" stroke-width="2.4"/>
<circle cx="223.0" cy="302.8" r="2.0" fill="#fff" stroke="#111" stroke-width="2.4"/>
<circle cx="223.3" cy="301.6" r="2.0" fill="#fff" stroke="#111" stroke-width="2.4"/>
<circle cx="223.6" cy="300.5" r="2.0" fill="#fff" stroke="#111" stroke-width="2.4"/>
<circle cx="223.9" cy="299.3" r="2.0" fill="#fff" stroke="#111" stroke-width="2.4"/>
<circle cx="224.2" cy="298.1" r="2.0" fill="#fff" stroke="#111" stroke-width="2.4"/>
<circle cx="224.5" cy="296.9" r="2.0" fill="#fff" stroke="#111" stroke-width="2.4"/>
<circle cx="224.8" cy="295.6" r="2.0" fill="#fff" stroke="#111" stroke-width="2.4"/>
<circle cx="225.1" cy="294.4" r="2.0" fill="#fff" stroke="#111" stroke-width="2.4"/>
<circle cx="225.4" cy="293.1" r="2.0" fill="#fff" stroke="#111" stroke-width="2.4"/>
<circle cx="225.7" cy="291.7" r="2.0" fill="#fff" stroke="#111" stroke-width="2.4"/>
<circle cx="226.0" cy="290.4" r="2.0" fill="#fff" stroke="#111" stroke-width="2.4"/>
<circle cx="226.3" cy="289.0" r="2.0" fill="#fff" stroke="#111" stroke-width="2.4"/>
<circle cx="226.6" cy="287.6" r="2.0" fill="#fff" stroke="#111" stroke-width="2.4"/>
<circle cx="226.9" cy="286.2" r="2.0" fill="#fff" stroke="#111" stroke-width="2.4"/>
<circle cx="227.2" cy="284.8" r="2.0" fill="#fff" stroke="#111" stroke-width="2.4"/>
<circle cx="227.5" cy="283.3" r="2.0" fill="#fff" stroke="#111" stroke-width="2.4"/>
<circle cx="227.8" cy="281.9" r="2.0" fill="#fff" stroke="#111" stroke-width="2.4"/>
<circle cx="228.2" cy="280.3" r="2.0" fill="#fff" stroke="#111" stroke-width="2.4"/>
<circle cx="228.5" cy="278.8" r="2.0" fill="#fff" stroke="#111" stroke-width="2.4"/>
<circle cx="228.8" cy="277.3" r="2.0" fill="#fff" stroke="#111" stroke-width="2.4"/>
<circle cx="229.2" cy="275.7" r="2.0" fill="#fff" stroke="#111" stroke-width="2.4"/>
<circle cx="229.5" cy="274.1" r="2.0" fill="#fff" stroke="#111" stroke-width="2.4"/>
<circle cx="229.9" cy="272.4" r="2.0" fill="#fff" stroke="#111" stroke-width="2.4"/>
<circle cx="230.3" cy="270.8" r="2.0" fill="#fff" stroke="#111" stroke-width="2.4"/>
<circle cx="230.7" cy="269.1" r="2.0" fill="#fff" stroke="#111" stroke-width="2.4"/>
<circle cx="231.1" cy="267.4" r="2.0" fill="#fff" stroke="#111" stroke-width="2.4"/>
<circle cx="231.5" cy="265.6" r="2.0" fill="#fff" stroke="#111" stroke-width="2.4"/>
<circle cx="231.9" cy="263.8" r="2.0" fill="#fff" stroke="#111" stroke-width="2.4"/>
<circle cx="232.3" cy="262.0" r="2.0" fill="#fff" stroke="#111" stroke-width="2.4"/>
<circle cx="232.7" cy="260.2" r="2.0" fill="#fff" stroke="#111" stroke-width="2.4"/>
<circle cx="233.2" cy="258.3" r="2.0" fill="#fff" stroke="#111" stroke-width="2.4"/>
<circle cx="233.6" cy="256.4" r="2.0" fill="#fff" stroke="#111" stroke-width="2.4"/>
<circle cx="234.1" cy="254.5" r="2.0" fill="#fff" stroke="#111" stroke-width="2.4"/>
<circle cx="234.5" cy="252.5" r="2.0" fill="#fff" stroke="#111" stroke-width="2.4"/>
<circle cx="235.0" cy="250.5" r="2.0" fill="#fff" stroke="#111" stroke-width="2.4"/>
<circle cx="235.5" cy="248.5" r="2.0" fill="#fff" stroke="#111" stroke-width="2.4"/>
<circle cx="236.0" cy="246.5" r="2.0" fill="#fff" stroke="#111" stroke-width="2.4"/>
<circle cx="236.6" cy="243.8" r="2.0" fill="#fff" stroke="#111" stroke-width="2.4"/>
<rect x="99.50" y="28.30" width="356.50" height="287.30" stroke="#000" stroke-width="2.3" fill="none"/>
<line x1="99.50" y1="315.60" x2="99.50" y2="309.80" stroke="#000" stroke-width="1.6"/>
<line x1="170.80" y1="315.60" x2="170.80" y2="309.80" stroke="#000" stroke-width="1.6"/>
<line x1="242.10" y1="315.60" x2="242.10" y2="309.80" stroke="#000" stroke-width="1.6"/>
<line x1="313.40" y1="315.60" x2="313.40" y2="309.80" stroke="#000" stroke-width="1.6"/>
<line x1="384.70" y1="315.60" x2="384.70" y2="309.80" stroke="#000" stroke-width="1.6"/>
<line x1="456.00" y1="315.60" x2="456.00" y2="309.80" stroke="#000" stroke-width="1.6"/>
<line x1="135.15" y1="315.60" x2="135.15" y2="313.00" stroke="#000" stroke-width="1.6"/>
<line x1="206.45" y1="315.60" x2="206.45" y2="313.00" stroke="#000" stroke-width="1.6"/>
<line x1="277.75" y1="315.60" x2="277.75" y2="313.00" stroke="#000" stroke-width="1.6"/>
<line x1="349.05" y1="315.60" x2="349.05" y2="313.00" stroke="#000" stroke-width="1.6"/>
<line x1="420.35" y1="315.60" x2="420.35" y2="313.00" stroke="#000" stroke-width="1.6"/>
<line x1="99.50" y1="315.60" x2="105.30" y2="315.60" stroke="#000" stroke-width="1.6"/>
<line x1="99.50" y1="243.78" x2="105.30" y2="243.78" stroke="#000" stroke-width="1.6"/>
<line x1="99.50" y1="171.95" x2="105.30" y2="171.95" stroke="#000" stroke-width="1.6"/>
<line x1="99.50" y1="100.12" x2="105.30" y2="100.12" stroke="#000" stroke-width="1.6"/>
<line x1="99.50" y1="28.30" x2="105.30" y2="28.30" stroke="#000" stroke-width="1.6"/>
<line x1="99.50" y1="279.69" x2="102.10" y2="279.69" stroke="#000" stroke-width="1.6"/>
<line x1="99.50" y1="207.86" x2="102.10" y2="207.86" stroke="#000" stroke-width="1.6"/>
<line x1="99.50" y1="136.04" x2="102.10" y2="136.04" stroke="#000" stroke-width="1.6"/>
<line x1="99.50" y1="64.21" x2="102.10" y2="64.21" stroke="#000" stroke-width="1.6"/>
<text x="99.50" y="336.30" font-size="18" text-anchor="middle" fill="#000" font-weight="bold">0</text>
<text x="170.80" y="336.30" font-size="18" text-anchor="middle" fill="#000" font-weight="bold">20</text>
<text x="242.10" y="336.30" font-size="18" text-anchor="middle" fill="#000" font-weight="bold">40</text>
<text x="313.40" y="336.30" font-size="18" text-anchor="middle" fill="#000" font-weight="bold">60</text>
<text x="384.70" y="336.30" font-size="18" text-anchor="middle" fill="#000" font-weight="bold">80</text>
<text x="456.00" y="336.30" font-size="18" text-anchor="middle" fill="#000" font-weight="bold">100</text>
<text x="93.20" y="321.20" font-size="18" text-anchor="end" fill="#000" font-weight="bold">0</text>
<text x="93.20" y="249.38" font-size="18" text-anchor="end" fill="#000" font-weight="bold">20</text>
<text x="93.20" y="177.55" font-size="18" text-anchor="end" fill="#000" font-weight="bold">40</text>
<text x="93.20" y="105.72" font-size="18" text-anchor="end" fill="#000" font-weight="bold">60</text>
<text x="93.20" y="33.90" font-size="18" text-anchor="end" fill="#000" font-weight="bold">80</text>
<text x="277.70" y="365.00" font-size="17.5" text-anchor="middle" fill="#000" font-weight="bold">Z' (Ω)</text>
<text x="66.90" y="171.90" font-size="17.5" text-anchor="middle" fill="#000" font-weight="bold" transform="rotate(-90 66.90 171.90)">-Z" (Ω)</text>
<line x1="114.00" y1="48.00" x2="148.60" y2="48.00" stroke="#1010ff" stroke-width="2.5"/>
<circle cx="131.3" cy="48.0" r="2.3" fill="#fff" stroke="#1010ff" stroke-width="2.6"/>
<text x="152.50" y="53.70" font-size="15" text-anchor="start" fill="#000" font-weight="bold">Co@NCNN-900</text>
<line x1="114.00" y1="67.50" x2="148.60" y2="67.50" stroke="#ff1a1a" stroke-width="2.5"/>
<circle cx="131.3" cy="67.5" r="2.3" fill="#fff" stroke="#ff1a1a" stroke-width="2.6"/>
<text x="152.50" y="73.20" font-size="15" text-anchor="start" fill="#000" font-weight="bold">Co@NCNN-800</text>
<line x1="114.00" y1="87.00" x2="148.60" y2="87.00" stroke="#111" stroke-width="2.5"/>
<circle cx="131.3" cy="87.0" r="2.3" fill="#fff" stroke="#111" stroke-width="2.6"/>
<text x="152.50" y="92.70" font-size="15" text-anchor="start" fill="#000" font-weight="bold">Co@NCNN-700</text>
<line x1="114.00" y1="105.70" x2="148.60" y2="105.70" stroke="#108010" stroke-width="2.5"/>
<circle cx="131.3" cy="105.7" r="2.3" fill="#fff" stroke="#108010" stroke-width="2.6"/>
<text x="152.50" y="111.40" font-size="15" text-anchor="start" fill="#000" font-weight="bold">NCNN</text>
<text x="490.00" y="39.00" font-size="50" text-anchor="start" fill="#000" font-weight="bold">(b)</text>
<polyline points="600.0,179.9 607.3,179.4 617.5,178.7 629.5,177.9 642.5,177.0 655.5,176.2 667.5,175.4 678.8,174.9 690.1,174.5 701.3,174.1 712.6,173.6 723.8,173.0 735.1,172.0 746.3,170.7 757.6,169.1 768.9,167.3 780.1,165.4 791.4,163.5 802.6,161.9 814.4,160.4 826.8,159.0 839.2,157.6 851.0,156.3 861.5,155.1 870.2,154.0 876.6,153.1 881.1,152.3 884.4,151.6 887.0,150.9 889.6,150.2 892.7,149.5 896.3,148.7 900.1,147.8 903.8,146.9 907.3,146.1 910.4,145.5 912.9,145.0 914.8,144.8 915.9,144.7 916.7,144.8 917.4,145.1 918.3,145.5 919.7,146.2 921.4,147.1 923.2,148.3 925.2,149.7 927.5,151.2 930.1,152.7 933.2,154.0 937.2,155.3 942.1,156.6 947.4,157.9 952.6,159.1 956.9,160.1 960.0,160.8" fill="none" stroke="#108010" stroke-width="2.3" stroke-linejoin="round" stroke-linecap="round"/>
<polyline points="960.0,160.8 950.0,161.5 935.9,162.6 919.3,163.9 901.8,165.2 884.9,166.5 870.2,167.5 857.6,168.3 846.0,169.0 835.0,169.5 824.3,170.1 813.6,170.9 802.6,172.0 791.1,173.6 779.3,175.5 767.4,177.6 755.9,179.7 745.0,181.7 735.1,183.3 726.1,184.6 718.0,185.7 710.5,186.7 703.4,187.5 696.6,188.3 690.1,188.9 683.6,189.5 677.3,189.8 671.3,190.1 665.8,190.3 660.7,190.6 656.3,191.2 652.6,192.1 649.8,193.3 647.4,194.6 645.3,195.8 643.1,196.6 640.5,196.8 637.7,196.2 634.9,195.1 631.9,193.5 628.9,191.8 625.8,190.2 622.5,188.9 618.8,187.9 614.5,187.0 610.1,186.2 606.0,185.5 602.5,184.9 600.0,184.4" fill="none" stroke="#108010" stroke-width="2.3" stroke-linejoin="round" stroke-linecap="round"/>
<polyline points="600.0,182.2 607.3,181.7 617.3,181.0 629.3,180.2 642.2,179.3 655.2,178.5 667.5,177.7 679.9,177.0 693.1,176.6 706.5,176.1 719.2,175.4 730.5,174.5 739.6,173.2 746.0,171.3 750.3,169.0 753.1,166.4 755.2,163.6 757.3,160.9 760.0,158.2 763.4,155.4 767.0,152.5 770.5,149.4 773.8,146.6 776.8,144.2 779.3,142.5 781.1,141.5 782.4,141.1 783.3,141.1 784.2,141.3 785.1,141.7 786.3,142.0 787.8,142.3 789.4,142.9 791.1,143.6 792.9,144.2 794.8,144.8 796.8,145.1 799.0,145.3 801.3,145.3 803.8,145.2 806.3,145.1 808.6,144.9 810.8,144.6 812.7,144.5 814.3,144.5 815.8,144.5 817.4,144.2 819.2,143.3 821.3,141.6 823.9,138.9 826.7,135.4 829.8,131.3 833.0,127.0 836.0,122.7 838.8,118.8 841.4,114.9 844.0,110.8 846.4,106.7 848.7,103.0 850.9,100.0 852.8,98.2 854.5,97.5 855.9,97.6 857.1,98.5 858.2,100.1 859.4,102.2 860.7,104.8 862.1,108.2 863.4,112.6 864.8,117.6 866.2,122.8 867.8,127.6 869.5,131.9 871.4,135.6 873.4,139.2 875.5,142.5 877.8,145.5 880.1,148.1 882.6,150.3 885.3,151.9 888.2,152.8 891.2,153.4 894.2,153.8 897.2,154.2 900.0,154.7 902.3,155.4 904.1,156.1 905.9,156.7 908.0,157.3 911.0,157.8 915.2,158.1 921.5,158.2 929.6,158.1 938.5,158.0 947.3,157.7 954.8,157.5 960.0,157.4" fill="none" stroke="#111" stroke-width="2.3" stroke-linejoin="round" stroke-linecap="round"/>
<polyline points="960.0,161.9 955.6,162.3 950.1,162.9 943.2,163.6 935.1,164.4 925.8,165.1 915.2,165.7 901.9,166.3 885.7,166.8 868.2,167.2 851.2,167.7 836.2,168.2 825.1,168.7 818.5,169.1 815.0,169.6 813.6,170.0 813.3,170.5 813.0,171.2 811.6,172.0 809.4,173.2 807.1,174.5 804.9,175.9 802.6,177.5 800.4,179.2 798.1,181.1 795.8,183.1 793.4,185.4 790.9,187.9 788.6,190.3 786.5,192.6 784.6,194.6 783.1,196.3 781.9,197.9 781.0,199.3 780.0,200.6 779.0,201.6 777.9,202.4 776.5,202.9 775.1,203.2 773.6,203.2 772.1,203.1 770.5,202.8 768.9,202.4 767.1,201.9 765.4,201.1 763.5,200.1 761.6,199.2 759.6,198.4 757.6,197.9 755.4,197.8 753.1,197.8 750.7,197.9 748.3,198.2 746.1,198.6 744.1,199.1 742.4,199.4 741.0,199.7 739.7,200.1 738.4,200.8 736.9,201.9 735.1,203.6 732.8,206.0 730.2,209.2 727.3,212.8 724.5,216.6 721.8,220.3 719.3,223.8 717.2,227.5 715.3,231.6 713.6,235.7 711.8,239.3 710.0,241.9 708.1,243.0 705.9,242.3 703.6,240.2 701.2,237.1 698.8,233.5 696.6,229.6 694.6,226.1 692.8,222.5 691.3,218.6 689.9,214.5 688.6,210.5 687.1,206.8 685.6,203.6 684.0,200.8 682.6,198.4 681.2,196.3 679.5,194.4 677.2,192.7 674.3,191.2 670.6,189.8 666.5,188.7 661.8,187.8 656.6,187.1 651.0,186.5 645.0,186.0 637.9,185.6 629.5,185.5 620.7,185.5 612.3,185.5 605.1,185.5 600.0,185.6" fill="none" stroke="#111" stroke-width="2.3" stroke-linejoin="round" stroke-linecap="round"/>
<polyline points="600.0,182.2 607.3,181.7 617.5,181.0 629.5,180.2 642.5,179.3 655.5,178.5 667.5,177.7 679.5,176.9 692.1,176.2 704.8,175.5 716.7,174.8 727.1,174.0 735.1,173.2 740.2,172.4 742.9,171.7 744.1,171.0 744.5,170.1 745.0,169.0 746.3,167.5 748.4,165.7 750.6,163.5 752.9,161.1 755.2,158.5 757.5,155.8 760.0,153.0 762.6,149.9 765.5,146.2 768.4,142.5 771.3,139.1 773.9,136.3 776.2,134.6 778.0,134.2 779.5,134.8 780.7,136.0 781.9,137.6 783.1,139.3 784.5,140.7 786.1,142.0 787.6,143.6 789.3,145.2 791.0,146.7 792.9,147.9 795.0,148.6 797.5,148.8 800.4,148.5 803.5,148.0 806.4,147.3 808.9,146.6 810.8,146.0 811.7,146.0 811.8,146.6 811.5,147.1 811.3,147.1 811.5,146.0 812.5,143.3 814.5,138.5 817.2,132.0 820.4,124.3 823.7,116.3 827.0,108.4 830.0,101.3 832.9,94.6 835.9,87.8 838.9,81.2 841.7,75.1 844.1,69.9 846.0,66.0 847.2,63.6 847.8,62.6 848.0,62.4 848.1,62.8 848.1,63.3 848.4,63.6 848.8,63.3 849.2,62.8 849.5,62.4 849.9,62.6 850.4,63.6 851.0,66.0 851.7,70.1 852.4,75.7 853.3,82.2 854.2,89.0 855.2,95.6 856.3,101.3 857.5,106.2 858.8,110.8 860.2,115.2 861.6,119.4 863.3,123.5 865.0,127.6 866.8,131.9 868.7,136.3 870.8,140.7 873.0,144.7 875.5,148.3 878.2,151.2 881.4,153.3 885.1,154.8 889.0,155.8 892.9,156.4 896.6,156.9 900.0,157.3 902.6,157.6 904.5,157.6 906.2,157.5 908.2,157.2 911.0,157.0 915.2,156.7 921.5,156.5 929.6,156.2 938.5,155.9 947.3,155.6 954.8,155.3 960.0,155.2" fill="none" stroke="#ff1a1a" stroke-width="2.3" stroke-linejoin="round" stroke-linecap="round"/>
<polyline points="960.0,159.7 955.1,160.3 948.4,161.2 940.4,162.3 931.8,163.5 923.2,164.5 915.2,165.3 907.7,165.9 900.2,166.3 892.7,166.7 885.2,167.0 877.7,167.3 870.2,167.5 862.3,167.8 853.9,167.9 845.5,168.0 837.6,168.2 830.7,168.4 825.1,168.7 821.3,169.0 818.9,169.3 817.4,169.6 816.4,170.1 815.4,170.9 813.9,172.0 812.0,173.7 810.1,175.7 808.3,178.0 806.4,180.5 804.5,183.1 802.6,185.6 800.7,188.2 798.7,191.1 796.8,194.0 794.9,196.8 793.0,199.3 791.4,201.3 789.9,202.8 788.5,204.0 787.2,204.8 786.0,205.4 784.8,205.7 783.5,205.8 782.2,205.6 781.0,205.0 779.8,204.1 778.5,203.1 777.1,202.2 775.6,201.3 774.0,200.5 772.3,199.6 770.5,198.8 768.6,198.0 766.5,197.3 764.4,196.8 761.9,196.5 759.0,196.3 756.0,196.2 753.2,196.3 750.6,196.5 748.6,196.8 747.3,197.0 746.6,196.9 746.2,197.0 745.8,197.5 745.2,198.8 744.1,201.3 742.4,205.3 740.3,210.5 737.9,216.5 735.4,222.9 732.9,229.2 730.6,235.1 728.3,240.6 725.9,246.3 723.5,252.0 721.2,257.3 719.0,262.3 717.1,266.6 715.4,270.6 714.0,274.5 712.8,278.0 711.6,280.7 710.4,282.3 709.2,282.4 707.9,280.6 706.5,277.2 705.2,272.7 703.9,267.5 702.6,262.3 701.3,257.6 700.1,253.2 699.1,248.8 698.0,244.2 696.9,239.7 695.8,235.1 694.6,230.6 693.2,225.9 691.9,221.1 690.5,216.2 689.0,211.6 687.3,207.3 685.6,203.6 683.7,200.4 681.9,197.7 679.9,195.4 677.7,193.4 675.1,191.6 672.0,190.1 668.5,188.7 664.7,187.7 660.5,187.0 655.9,186.4 650.7,185.9 645.0,185.6 638.0,185.3 629.7,185.2 620.8,185.3 612.3,185.4 605.1,185.5 600.0,185.6" fill="none" stroke="#ff1a1a" stroke-width="2.3" stroke-linejoin="round" stroke-linecap="round"/>
<polyline points="600.0,182.2 607.3,181.7 617.5,181.0 629.5,180.2 642.5,179.3 655.5,178.5 667.5,177.7 679.3,177.1 691.6,176.7 704.0,176.2 715.7,175.6 726.3,174.7 735.1,173.2 741.8,171.0 746.9,168.2 750.8,165.0 753.9,161.7 756.8,158.5 760.0,155.6 763.3,152.8 766.4,149.8 769.2,146.9 771.8,144.3 774.2,142.1 776.2,140.7 777.8,140.1 778.9,140.1 779.8,140.6 780.5,141.5 781.5,142.4 782.8,143.3 784.4,144.3 786.3,145.7 788.2,147.2 790.3,148.6 792.6,149.7 795.0,150.3 797.6,150.5 800.4,150.4 803.4,150.0 806.5,149.2 809.5,147.9 812.5,146.0 815.4,143.4 818.2,140.2 821.0,136.5 823.8,132.3 826.8,127.9 830.0,123.2 833.6,117.7 837.6,111.1 841.8,104.2 845.7,97.7 849.2,92.4 851.9,89.0 853.6,87.6 854.5,87.7 854.9,88.9 855.2,91.0 855.5,93.8 856.3,96.9 857.4,100.8 858.7,105.7 860.1,111.2 861.6,117.0 863.2,122.6 865.0,127.6 866.8,132.3 868.7,136.9 870.8,141.4 873.0,145.6 875.5,149.2 878.2,152.1 881.4,154.2 885.1,155.5 889.0,156.3 892.9,156.7 896.6,157.0 900.0,157.3 902.6,157.6 904.5,157.6 906.2,157.5 908.2,157.3 911.0,157.0 915.2,156.7 921.5,156.4 929.6,155.9 938.5,155.3 947.3,154.8 954.8,154.4 960.0,154.0" fill="none" stroke="#1010ff" stroke-width="2.3" stroke-linejoin="round" stroke-linecap="round"/>
<polyline points="960.0,160.8 955.6,161.3 950.1,162.0 943.2,162.8 935.1,163.7 925.8,164.6 915.2,165.3 901.9,165.9 885.6,166.5 868.1,167.0 851.0,167.6 836.1,168.1 825.1,168.7 818.7,169.1 815.5,169.4 814.6,169.7 814.7,170.2 814.8,170.9 813.9,172.0 812.0,173.7 810.1,175.8 808.3,178.2 806.4,180.7 804.5,183.2 802.6,185.6 800.7,187.9 798.8,190.3 796.9,192.8 795.0,195.1 793.1,197.3 791.4,199.1 789.8,200.6 788.3,202.1 786.9,203.3 785.4,204.2 784.0,204.7 782.4,204.7 780.6,204.0 778.9,202.5 777.0,200.7 775.1,198.7 773.1,197.0 771.1,195.7 769.0,194.8 766.8,194.1 764.5,193.6 762.2,193.3 759.9,193.3 757.6,193.4 755.3,193.8 753.0,194.4 750.7,195.3 748.4,196.3 746.2,197.6 744.1,199.1 742.1,200.7 740.3,202.5 738.6,204.5 736.8,206.8 734.9,209.4 732.8,212.6 730.4,216.4 727.7,220.9 725.0,225.9 722.2,230.8 719.5,235.5 717.1,239.6 714.9,243.4 712.9,247.4 711.0,251.1 709.2,254.1 707.5,256.0 705.8,256.5 704.2,255.2 702.6,252.4 701.2,248.5 699.7,244.0 698.3,239.4 696.8,235.1 695.4,230.8 694.0,226.1 692.6,221.2 691.1,216.4 689.6,212.0 687.8,208.1 686.0,204.7 684.2,201.6 682.3,198.9 680.1,196.5 677.5,194.3 674.3,192.3 670.5,190.6 666.3,189.1 661.6,187.9 656.5,187.0 651.0,186.2 645.0,185.6 637.9,185.2 629.5,185.1 620.7,185.1 612.3,185.3 605.1,185.5 600.0,185.6" fill="none" stroke="#1010ff" stroke-width="2.3" stroke-linejoin="round" stroke-linecap="round"/>
<rect x="600.90" y="28.20" width="356.70" height="287.50" stroke="#000" stroke-width="2.3" fill="none"/>
<line x1="600.90" y1="315.70" x2="600.90" y2="309.90" stroke="#000" stroke-width="1.6"/>
<line x1="690.08" y1="315.70" x2="690.08" y2="309.90" stroke="#000" stroke-width="1.6"/>
<line x1="779.25" y1="315.70" x2="779.25" y2="309.90" stroke="#000" stroke-width="1.6"/>
<line x1="868.42" y1="315.70" x2="868.42" y2="309.90" stroke="#000" stroke-width="1.6"/>
<line x1="957.60" y1="315.70" x2="957.60" y2="309.90" stroke="#000" stroke-width="1.6"/>
<line x1="645.49" y1="315.70" x2="645.49" y2="313.10" stroke="#000" stroke-width="1.6"/>
<line x1="734.66" y1="315.70" x2="734.66" y2="313.10" stroke="#000" stroke-width="1.6"/>
<line x1="823.84" y1="315.70" x2="823.84" y2="313.10" stroke="#000" stroke-width="1.6"/>
<line x1="913.01" y1="315.70" x2="913.01" y2="313.10" stroke="#000" stroke-width="1.6"/>
<line x1="600.90" y1="315.70" x2="606.70" y2="315.70" stroke="#000" stroke-width="1.6"/>
<line x1="600.90" y1="267.78" x2="606.70" y2="267.78" stroke="#000" stroke-width="1.6"/>
<line x1="600.90" y1="219.87" x2="606.70" y2="219.87" stroke="#000" stroke-width="1.6"/>
<line x1="600.90" y1="171.95" x2="606.70" y2="171.95" stroke="#000" stroke-width="1.6"/>
<line x1="600.90" y1="124.03" x2="606.70" y2="124.03" stroke="#000" stroke-width="1.6"/>
<line x1="600.90" y1="76.12" x2="606.70" y2="76.12" stroke="#000" stroke-width="1.6"/>
<line x1="600.90" y1="28.20" x2="606.70" y2="28.20" stroke="#000" stroke-width="1.6"/>
<line x1="600.90" y1="291.74" x2="603.50" y2="291.74" stroke="#000" stroke-width="1.6"/>
<line x1="600.90" y1="243.82" x2="603.50" y2="243.82" stroke="#000" stroke-width="1.6"/>
<line x1="600.90" y1="195.91" x2="603.50" y2="195.91" stroke="#000" stroke-width="1.6"/>
<line x1="600.90" y1="147.99" x2="603.50" y2="147.99" stroke="#000" stroke-width="1.6"/>
<line x1="600.90" y1="100.07" x2="603.50" y2="100.07" stroke="#000" stroke-width="1.6"/>
<line x1="600.90" y1="52.16" x2="603.50" y2="52.16" stroke="#000" stroke-width="1.6"/>
<text x="600.90" y="336.30" font-size="18" text-anchor="middle" fill="#000" font-weight="bold">-1.0</text>
<text x="690.08" y="336.30" font-size="18" text-anchor="middle" fill="#000" font-weight="bold">-0.5</text>
<text x="779.25" y="336.30" font-size="18" text-anchor="middle" fill="#000" font-weight="bold">0.0</text>
<text x="868.42" y="336.30" font-size="18" text-anchor="middle" fill="#000" font-weight="bold">0.5</text>
<text x="957.60" y="336.30" font-size="18" text-anchor="middle" fill="#000" font-weight="bold">1.0</text>
<text x="594.80" y="321.30" font-size="18" text-anchor="end" fill="#000" font-weight="bold">-6</text>
<text x="594.80" y="273.38" font-size="18" text-anchor="end" fill="#000" font-weight="bold">-4</text>
<text x="594.80" y="225.47" font-size="18" text-anchor="end" fill="#000" font-weight="bold">-2</text>
<text x="594.80" y="177.55" font-size="18" text-anchor="end" fill="#000" font-weight="bold">0</text>
<text x="594.80" y="129.63" font-size="18" text-anchor="end" fill="#000" font-weight="bold">2</text>
<text x="594.80" y="81.72" font-size="18" text-anchor="end" fill="#000" font-weight="bold">4</text>
<text x="594.80" y="33.80" font-size="18" text-anchor="end" fill="#000" font-weight="bold">6</text>
<text x="779.20" y="365.00" font-size="17.5" text-anchor="middle" fill="#000" font-weight="bold">Voltage (V)</text>
<text x="573.00" y="171.90" font-size="17.5" text-anchor="middle" fill="#000" font-weight="bold" transform="rotate(-90 573.00 171.90)">Current (mA)</text>
<line x1="616.90" y1="47.40" x2="651.20" y2="47.40" stroke="#1010ff" stroke-width="2.5"/>
<text x="655.70" y="53.10" font-size="15" text-anchor="start" fill="#000" font-weight="bold">Co@NCNN-900</text>
<line x1="616.90" y1="66.60" x2="651.20" y2="66.60" stroke="#ff1a1a" stroke-width="2.5"/>
<text x="655.70" y="72.30" font-size="15" text-anchor="start" fill="#000" font-weight="bold">Co@NCNN-800</text>
<line x1="616.90" y1="85.40" x2="651.20" y2="85.40" stroke="#111" stroke-width="2.5"/>
<text x="655.70" y="91.10" font-size="15" text-anchor="start" fill="#000" font-weight="bold">Co@NCNN-700</text>
<line x1="616.90" y1="104.30" x2="651.20" y2="104.30" stroke="#108010" stroke-width="2.5"/>
<text x="655.70" y="110.00" font-size="15" text-anchor="start" fill="#000" font-weight="bold">NCNN</text>
<text x="888.00" y="298.00" font-size="15" text-anchor="start" fill="#000" font-weight="bold">1 mV s<tspan font-size="10" dy="-6">-1</tspan></text>
<text x="1024.00" y="39.00" font-size="50" text-anchor="start" fill="#000" font-weight="bold">(c)</text>
<polyline points="1128.0,254.3 1130.4,251.9 1133.8,248.5 1137.8,244.6 1142.2,240.4 1146.5,236.4 1150.5,232.9 1154.1,230.0 1157.6,227.3 1161.1,224.8 1164.7,222.3 1168.6,219.8 1173.0,217.1 1177.8,214.3 1182.9,211.5 1188.2,208.7 1194.0,205.7 1200.1,202.5 1206.8,199.1 1214.4,195.3 1222.9,191.1 1231.8,186.7 1240.7,182.3 1249.1,178.1 1256.3,174.3 1262.3,171.0 1267.4,168.0 1271.9,165.3 1276.3,162.6 1280.7,160.0 1285.6,157.5 1291.0,154.9 1296.5,152.3 1302.2,149.9 1307.9,147.4 1313.7,145.1 1319.4,142.8 1325.0,140.6 1330.6,138.5 1336.3,136.4 1341.9,134.4 1347.5,132.4 1353.1,130.4 1358.8,128.5 1364.4,126.6 1370.0,124.8 1375.7,123.0 1381.3,121.1 1386.9,119.2 1392.7,117.1 1398.6,115.0 1404.5,112.8 1410.3,110.7 1415.7,108.7 1420.7,106.8 1425.1,105.1 1429.0,103.5 1432.6,101.9 1436.1,100.5 1439.6,99.1 1443.2,97.8 1447.0,96.6 1450.8,95.4 1454.6,94.3 1458.4,93.3 1462.1,92.2 1465.7,91.0 1469.5,89.7 1473.4,88.2 1477.2,86.7 1480.8,85.2 1483.8,84.0 1486.0,83.2" fill="none" stroke="#111" stroke-width="2.3" stroke-linejoin="round" stroke-linecap="round"/>
<polyline points="1486.0,85.4 1483.8,87.3 1480.8,89.9 1477.2,92.9 1473.4,96.2 1469.5,99.4 1465.7,102.3 1462.1,104.9 1458.4,107.4 1454.6,109.9 1450.8,112.3 1447.0,114.6 1443.2,116.9 1439.4,119.1 1435.7,121.2 1431.9,123.2 1428.2,125.2 1424.4,127.2 1420.7,129.3 1417.2,131.4 1413.9,133.3 1410.7,135.2 1407.2,137.4 1403.1,139.8 1398.2,142.8 1392.0,146.5 1384.7,151.0 1376.9,155.7 1369.1,160.5 1361.7,164.9 1355.4,168.7 1350.2,171.9 1345.7,174.7 1341.7,177.2 1338.0,179.4 1334.4,181.4 1330.6,183.3 1327.0,184.9 1323.8,186.1 1320.6,187.1 1317.2,188.1 1313.1,189.4 1308.1,191.2 1301.9,193.7 1294.8,196.6 1287.0,199.8 1278.9,203.1 1270.8,206.3 1263.1,209.2 1255.6,211.9 1248.1,214.4 1240.6,216.8 1233.1,219.2 1225.6,221.5 1218.1,223.9 1210.6,226.1 1203.0,228.3 1195.5,230.5 1188.0,232.7 1180.5,234.9 1173.0,237.4 1165.0,240.2 1156.4,243.4 1147.7,246.7 1139.7,249.8 1132.9,252.4 1128.0,254.3" fill="none" stroke="#111" stroke-width="2.3" stroke-linejoin="round" stroke-linecap="round"/>
<polyline points="1128.0,289.2 1130.3,286.3 1133.4,282.5 1137.1,277.9 1141.3,272.8 1145.8,267.5 1150.5,262.1 1155.5,256.6 1160.9,250.6 1166.7,244.4 1172.6,238.1 1178.5,232.0 1184.3,226.1 1189.9,220.5 1195.4,215.0 1200.9,209.6 1206.5,204.4 1212.2,199.3 1218.1,194.6 1224.3,190.2 1230.8,186.1 1237.5,182.1 1244.1,178.4 1250.4,174.7 1256.3,171.0 1261.8,167.2 1267.0,163.5 1271.9,159.8 1276.7,156.2 1281.2,152.8 1285.6,149.6 1289.7,146.6 1293.6,143.7 1297.3,141.1 1300.9,138.5 1304.4,136.1 1308.1,133.8 1311.9,131.7 1315.6,129.7 1319.4,127.9 1323.1,126.1 1326.9,124.4 1330.6,122.6 1334.4,120.7 1338.1,118.8 1341.9,116.9 1345.6,115.1 1349.4,113.2 1353.1,111.3 1356.9,109.4 1360.6,107.4 1364.4,105.4 1368.1,103.5 1371.9,101.7 1375.7,100.0 1379.4,98.7 1383.2,97.5 1386.9,96.4 1390.7,95.4 1394.4,94.4 1398.2,93.3 1402.0,92.2 1405.8,91.0 1409.7,89.9 1413.5,88.8 1417.2,87.7 1420.7,86.5 1424.0,85.5 1427.1,84.5 1430.1,83.4 1433.0,82.4 1435.9,81.2 1438.7,79.8 1441.3,78.2 1443.5,76.6 1445.7,74.8 1448.1,72.9 1450.9,70.8 1454.5,68.5 1459.2,65.8 1465.0,62.7 1471.2,59.4 1477.2,56.2 1482.4,53.5 1486.0,51.6" fill="none" stroke="#ff1a1a" stroke-width="2.3" stroke-linejoin="round" stroke-linecap="round"/>
<polyline points="1486.0,51.6 1483.8,54.2 1480.8,57.7 1477.2,61.9 1473.4,66.4 1469.5,71.0 1465.7,75.3 1462.1,79.4 1458.4,83.5 1454.6,87.7 1450.8,91.9 1447.0,96.0 1443.2,100.0 1439.4,104.0 1435.7,107.9 1431.9,111.7 1428.2,115.5 1424.4,119.1 1420.7,122.6 1416.9,125.8 1413.2,129.0 1409.4,132.0 1405.7,134.9 1401.9,137.8 1398.2,140.6 1394.4,143.4 1390.6,146.1 1386.8,148.7 1383.0,151.3 1379.3,153.9 1375.7,156.3 1372.2,158.7 1368.9,160.9 1365.7,163.1 1362.4,165.3 1359.0,167.5 1355.4,169.8 1351.5,172.3 1347.4,175.0 1343.1,177.6 1338.9,180.3 1334.7,183.0 1330.6,185.6 1326.7,188.1 1323.0,190.6 1319.2,193.1 1315.5,195.6 1311.8,197.9 1308.1,200.2 1304.4,202.4 1300.6,204.6 1296.9,206.6 1293.1,208.7 1289.3,210.6 1285.6,212.6 1281.8,214.6 1278.1,216.4 1274.3,218.3 1270.6,220.2 1266.8,222.0 1263.1,223.9 1259.3,225.8 1255.6,227.7 1251.8,229.6 1248.1,231.5 1244.3,233.4 1240.6,235.1 1236.8,236.8 1233.1,238.3 1229.3,239.8 1225.6,241.2 1221.8,242.7 1218.1,244.1 1214.3,245.6 1210.6,247.1 1206.8,248.5 1203.0,250.0 1199.3,251.5 1195.5,253.1 1191.8,254.9 1188.0,256.7 1184.3,258.6 1180.5,260.6 1176.8,262.5 1173.0,264.4 1169.3,266.2 1165.5,268.1 1161.8,269.9 1158.0,271.7 1154.3,273.6 1150.5,275.7 1146.5,277.9 1142.2,280.5 1137.8,283.1 1133.8,285.6 1130.4,287.7 1128.0,289.2" fill="none" stroke="#ff1a1a" stroke-width="2.3" stroke-linejoin="round" stroke-linecap="round"/>
<polyline points="1128.0,266.6 1130.4,263.9 1133.8,260.1 1137.8,255.5 1142.2,250.7 1146.5,246.0 1150.5,241.9 1154.1,238.3 1157.6,234.9 1161.1,231.6 1164.7,228.4 1168.6,225.1 1173.0,221.6 1177.8,218.0 1182.9,214.4 1188.2,210.6 1194.0,206.9 1200.1,203.0 1206.8,199.1 1214.4,195.0 1222.9,190.8 1231.8,186.4 1240.7,182.2 1249.1,178.1 1256.3,174.3 1262.3,170.9 1267.4,167.8 1271.9,164.8 1276.3,161.9 1280.7,159.1 1285.6,156.3 1291.0,153.5 1296.5,150.8 1302.2,148.1 1307.9,145.5 1313.7,143.0 1319.4,140.6 1325.0,138.3 1330.6,136.2 1336.3,134.1 1341.9,132.1 1347.5,130.1 1353.1,128.2 1358.8,126.2 1364.4,124.4 1370.0,122.5 1375.7,120.6 1381.3,118.8 1386.9,116.9 1392.7,115.0 1398.6,113.1 1404.5,111.2 1410.3,109.3 1415.7,107.5 1420.7,105.7 1425.1,103.9 1429.0,102.3 1432.6,100.6 1436.1,99.0 1439.6,97.3 1443.2,95.5 1447.0,93.7 1450.8,91.8 1454.6,89.9 1458.4,88.0 1462.1,86.1 1465.7,84.3 1469.5,82.4 1473.4,80.4 1477.2,78.5 1480.8,76.7 1483.8,75.2 1486.0,74.2" fill="none" stroke="#1010ff" stroke-width="2.3" stroke-linejoin="round" stroke-linecap="round"/>
<polyline points="1486.0,74.2 1483.8,76.2 1480.8,79.2 1477.2,82.6 1473.4,86.3 1469.5,89.9 1465.7,93.3 1462.1,96.4 1458.4,99.5 1454.6,102.6 1450.8,105.7 1447.0,108.6 1443.2,111.3 1439.4,113.8 1435.7,116.1 1431.9,118.3 1428.2,120.5 1424.4,122.6 1420.7,124.8 1417.2,126.9 1413.9,128.7 1410.7,130.5 1407.2,132.6 1403.1,135.1 1398.2,138.3 1392.0,142.6 1384.7,147.9 1376.9,153.6 1369.1,159.3 1361.7,164.5 1355.4,168.7 1350.2,171.9 1345.7,174.3 1341.7,176.2 1338.0,177.9 1334.4,179.4 1330.6,181.1 1327.0,182.7 1323.8,184.0 1320.6,185.2 1317.2,186.6 1313.1,188.1 1308.1,190.1 1301.9,192.6 1294.8,195.5 1287.0,198.7 1278.9,201.9 1270.8,205.1 1263.1,208.1 1255.6,210.9 1248.1,213.5 1240.6,216.1 1233.1,218.7 1225.6,221.3 1218.1,223.9 1210.6,226.4 1203.0,228.7 1195.5,231.0 1188.0,233.5 1180.5,236.4 1173.0,239.6 1165.0,243.8 1156.4,248.8 1147.7,254.1 1139.7,259.2 1132.9,263.6 1128.0,266.6" fill="none" stroke="#1010ff" stroke-width="2.3" stroke-linejoin="round" stroke-linecap="round"/>
<polyline points="1128.0,183.3 1135.3,182.7 1145.5,181.8 1157.5,180.8 1170.5,179.7 1183.5,178.7 1195.5,177.7 1206.8,176.9 1218.1,176.1 1229.3,175.3 1240.6,174.6 1251.8,173.9 1263.1,173.2 1274.3,172.6 1285.6,172.2 1296.9,171.7 1308.1,171.3 1319.4,170.8 1330.6,170.3 1342.1,169.7 1354.0,169.1 1365.8,168.4 1377.3,167.8 1388.2,167.1 1398.2,166.5 1407.0,165.8 1414.9,165.2 1422.2,164.5 1429.2,163.9 1436.1,163.3 1443.2,162.6 1450.9,162.0 1459.2,161.3 1467.4,160.6 1475.0,160.0 1481.3,159.4 1486.0,159.0" fill="none" stroke="#108010" stroke-width="3.6" stroke-linejoin="round" stroke-linecap="round"/>
<rect x="1128.40" y="28.30" width="356.80" height="287.40" stroke="#000" stroke-width="2.3" fill="none"/>
<line x1="1128.40" y1="315.70" x2="1128.40" y2="309.90" stroke="#000" stroke-width="1.6"/>
<line x1="1217.60" y1="315.70" x2="1217.60" y2="309.90" stroke="#000" stroke-width="1.6"/>
<line x1="1306.80" y1="315.70" x2="1306.80" y2="309.90" stroke="#000" stroke-width="1.6"/>
<line x1="1396.00" y1="315.70" x2="1396.00" y2="309.90" stroke="#000" stroke-width="1.6"/>
<line x1="1485.20" y1="315.70" x2="1485.20" y2="309.90" stroke="#000" stroke-width="1.6"/>
<line x1="1173.00" y1="315.70" x2="1173.00" y2="313.10" stroke="#000" stroke-width="1.6"/>
<line x1="1262.20" y1="315.70" x2="1262.20" y2="313.10" stroke="#000" stroke-width="1.6"/>
<line x1="1351.40" y1="315.70" x2="1351.40" y2="313.10" stroke="#000" stroke-width="1.6"/>
<line x1="1440.60" y1="315.70" x2="1440.60" y2="313.10" stroke="#000" stroke-width="1.6"/>
<line x1="1128.40" y1="315.70" x2="1134.20" y2="315.70" stroke="#000" stroke-width="1.6"/>
<line x1="1128.40" y1="267.80" x2="1134.20" y2="267.80" stroke="#000" stroke-width="1.6"/>
<line x1="1128.40" y1="219.90" x2="1134.20" y2="219.90" stroke="#000" stroke-width="1.6"/>
<line x1="1128.40" y1="172.00" x2="1134.20" y2="172.00" stroke="#000" stroke-width="1.6"/>
<line x1="1128.40" y1="124.10" x2="1134.20" y2="124.10" stroke="#000" stroke-width="1.6"/>
<line x1="1128.40" y1="76.20" x2="1134.20" y2="76.20" stroke="#000" stroke-width="1.6"/>
<line x1="1128.40" y1="28.30" x2="1134.20" y2="28.30" stroke="#000" stroke-width="1.6"/>
<line x1="1128.40" y1="291.75" x2="1131.00" y2="291.75" stroke="#000" stroke-width="1.6"/>
<line x1="1128.40" y1="243.85" x2="1131.00" y2="243.85" stroke="#000" stroke-width="1.6"/>
<line x1="1128.40" y1="195.95" x2="1131.00" y2="195.95" stroke="#000" stroke-width="1.6"/>
<line x1="1128.40" y1="148.05" x2="1131.00" y2="148.05" stroke="#000" stroke-width="1.6"/>
<line x1="1128.40" y1="100.15" x2="1131.00" y2="100.15" stroke="#000" stroke-width="1.6"/>
<line x1="1128.40" y1="52.25" x2="1131.00" y2="52.25" stroke="#000" stroke-width="1.6"/>
<text x="1128.40" y="336.30" font-size="18" text-anchor="middle" fill="#000" font-weight="bold">-1.0</text>
<text x="1217.60" y="336.30" font-size="18" text-anchor="middle" fill="#000" font-weight="bold">-0.5</text>
<text x="1306.80" y="336.30" font-size="18" text-anchor="middle" fill="#000" font-weight="bold">0.0</text>
<text x="1396.00" y="336.30" font-size="18" text-anchor="middle" fill="#000" font-weight="bold">0.5</text>
<text x="1485.20" y="336.30" font-size="18" text-anchor="middle" fill="#000" font-weight="bold">1.0</text>
<text x="1122.00" y="321.30" font-size="18" text-anchor="end" fill="#000" font-weight="bold">-30</text>
<text x="1122.00" y="273.40" font-size="18" text-anchor="end" fill="#000" font-weight="bold">-20</text>
<text x="1122.00" y="225.50" font-size="18" text-anchor="end" fill="#000" font-weight="bold">-10</text>
<text x="1122.00" y="177.60" font-size="18" text-anchor="end" fill="#000" font-weight="bold">0</text>
<text x="1122.00" y="129.70" font-size="18" text-anchor="end" fill="#000" font-weight="bold">10</text>
<text x="1122.00" y="81.80" font-size="18" text-anchor="end" fill="#000" font-weight="bold">20</text>
<text x="1122.00" y="33.90" font-size="18" text-anchor="end" fill="#000" font-weight="bold">30</text>
<text x="1306.80" y="365.00" font-size="17.5" text-anchor="middle" fill="#000" font-weight="bold">Voltage (V)</text>
<text x="1093.00" y="171.90" font-size="17.5" text-anchor="middle" fill="#000" font-weight="bold" transform="rotate(-90 1093.00 171.90)">Current (mA)</text>
<line x1="1140.00" y1="47.20" x2="1174.00" y2="47.20" stroke="#1010ff" stroke-width="2.5"/>
<text x="1178.00" y="52.90" font-size="15" text-anchor="start" fill="#000" font-weight="bold">Co@NCNN-900</text>
<line x1="1140.00" y1="66.00" x2="1174.00" y2="66.00" stroke="#ff1a1a" stroke-width="2.5"/>
<text x="1178.00" y="71.70" font-size="15" text-anchor="start" fill="#000" font-weight="bold">Co@NCNN-800</text>
<line x1="1140.00" y1="84.80" x2="1174.00" y2="84.80" stroke="#111" stroke-width="2.5"/>
<text x="1178.00" y="90.50" font-size="15" text-anchor="start" fill="#000" font-weight="bold">Co@NCNN-700</text>
<line x1="1140.00" y1="103.60" x2="1174.00" y2="103.60" stroke="#108010" stroke-width="2.5"/>
<text x="1178.00" y="109.30" font-size="15" text-anchor="start" fill="#000" font-weight="bold">NCNN</text>
<text x="1396.00" y="298.00" font-size="15" text-anchor="start" fill="#000" font-weight="bold">50 mV s<tspan font-size="10" dy="-6">-1</tspan></text>
<defs>
<radialGradient id="ballK" cx="35%" cy="35%" r="65%"><stop offset="0" stop-color="#bbb"/><stop offset="0.35" stop-color="#222"/><stop offset="1" stop-color="#000"/></radialGradient>
<radialGradient id="ballR" cx="35%" cy="35%" r="65%"><stop offset="0" stop-color="#ffd0d0"/><stop offset="0.35" stop-color="#ff2020"/><stop offset="1" stop-color="#d00000"/></radialGradient>
<radialGradient id="ballP" cx="35%" cy="35%" r="65%"><stop offset="0" stop-color="#ffd0e0"/><stop offset="0.35" stop-color="#ff1a5a"/><stop offset="1" stop-color="#d00040"/></radialGradient>
<radialGradient id="ballB" cx="35%" cy="35%" r="65%"><stop offset="0" stop-color="#d0d0ff"/><stop offset="0.35" stop-color="#1a1aff"/><stop offset="1" stop-color="#0000c0"/></radialGradient>
<radialGradient id="ballG" cx="35%" cy="35%" r="65%"><stop offset="0" stop-color="#c0f0c0"/><stop offset="0.35" stop-color="#119911"/><stop offset="1" stop-color="#006000"/></radialGradient>
</defs>
<text x="3.00" y="433.00" font-size="50" text-anchor="start" fill="#000" font-weight="bold">(d)</text>
<polyline points="108.7,517.5 108.9,517.3 109.1,517.1 109.4,516.8 109.7,516.4 110.0,516.1 110.4,515.7 110.7,515.3 111.1,515.0 111.6,514.7 112.0,514.5 112.5,514.3 113.0,514.1 113.5,514.0 114.1,513.8 114.7,513.7 115.3,513.6 115.9,513.5 116.4,513.5 117.0,513.5 117.5,513.5 118.0,513.6 118.5,513.7 118.9,513.9 119.4,514.1 119.8,514.3 120.2,514.5 120.7,514.8 121.1,515.0 121.6,515.3 122.0,515.5 122.5,515.7 123.0,516.0 123.5,516.2 124.0,516.5 124.5,516.8 125.0,517.0 125.5,517.3 125.9,517.5 126.2,517.7 126.5,517.8 126.5,517.8 126.8,517.6 127.1,517.5 127.6,517.3 128.0,517.1 128.6,516.8 129.1,516.5 129.6,516.1 130.1,515.6 130.6,515.0 131.0,514.2 131.4,513.3 131.7,512.2 132.0,510.9 132.3,509.6 132.6,508.2 132.9,506.7 133.2,505.2 133.5,503.8 133.7,502.4 134.0,501.0 134.3,499.7 134.5,498.3 134.7,497.0 134.9,495.6 135.2,494.3 135.4,493.0 135.6,491.7 135.8,490.4 136.0,489.2 136.2,488.0 136.4,486.9 136.6,485.8 136.8,484.8 137.1,483.8 137.3,482.8 137.5,481.9 137.7,480.9 137.9,480.0 138.1,479.0 138.3,478.0 138.5,477.0 138.7,476.0 138.8,475.0 139.0,474.1 139.2,473.1 139.3,472.1 139.5,471.1 139.6,470.1 139.8,469.0 140.0,467.9 140.2,466.7 140.4,465.4 140.7,464.0 140.9,462.6 141.2,461.2 141.4,459.8 141.6,458.5 141.8,457.4 142.0,456.4 142.1,455.7" fill="none" stroke="#ff1a5a" stroke-width="1.5" stroke-linejoin="round" stroke-linecap="round"/>
<circle cx="108.7" cy="517.5" r="4.5" fill="url(#ballP)" stroke="none" stroke-width="1"/>
<circle cx="109.5" cy="516.6" r="4.5" fill="url(#ballP)" stroke="none" stroke-width="1"/>
<circle cx="110.5" cy="515.6" r="4.5" fill="url(#ballP)" stroke="none" stroke-width="1"/>
<circle cx="111.9" cy="514.6" r="4.5" fill="url(#ballP)" stroke="none" stroke-width="1"/>
<circle cx="113.8" cy="513.9" r="4.5" fill="url(#ballP)" stroke="none" stroke-width="1"/>
<circle cx="116.0" cy="513.5" r="4.5" fill="url(#ballP)" stroke="none" stroke-width="1"/>
<circle cx="118.5" cy="513.7" r="4.5" fill="url(#ballP)" stroke="none" stroke-width="1"/>
<circle cx="120.7" cy="514.8" r="4.5" fill="url(#ballP)" stroke="none" stroke-width="1"/>
<circle cx="122.8" cy="515.9" r="4.5" fill="url(#ballP)" stroke="none" stroke-width="1"/>
<circle cx="124.5" cy="516.8" r="4.5" fill="url(#ballP)" stroke="none" stroke-width="1"/>
<circle cx="126.5" cy="517.8" r="4.5" fill="url(#ballP)" stroke="none" stroke-width="1"/>
<circle cx="126.5" cy="517.8" r="4.5" fill="url(#ballP)" stroke="none" stroke-width="1"/>
<circle cx="127.6" cy="517.3" r="4.5" fill="url(#ballP)" stroke="none" stroke-width="1"/>
<circle cx="128.8" cy="516.7" r="4.5" fill="url(#ballP)" stroke="none" stroke-width="1"/>
<circle cx="130.0" cy="515.7" r="4.5" fill="url(#ballP)" stroke="none" stroke-width="1"/>
<circle cx="131.0" cy="514.1" r="4.5" fill="url(#ballP)" stroke="none" stroke-width="1"/>
<circle cx="131.7" cy="512.2" r="4.5" fill="url(#ballP)" stroke="none" stroke-width="1"/>
<circle cx="132.3" cy="509.8" r="4.5" fill="url(#ballP)" stroke="none" stroke-width="1"/>
<circle cx="132.9" cy="507.1" r="4.5" fill="url(#ballP)" stroke="none" stroke-width="1"/>
<circle cx="133.4" cy="504.0" r="4.5" fill="url(#ballP)" stroke="none" stroke-width="1"/>
<circle cx="134.1" cy="500.4" r="4.5" fill="url(#ballP)" stroke="none" stroke-width="1"/>
<circle cx="134.8" cy="496.3" r="4.5" fill="url(#ballP)" stroke="none" stroke-width="1"/>
<circle cx="135.6" cy="491.5" r="4.5" fill="url(#ballP)" stroke="none" stroke-width="1"/>
<circle cx="136.6" cy="486.0" r="4.5" fill="url(#ballP)" stroke="none" stroke-width="1"/>
<circle cx="137.9" cy="479.8" r="4.5" fill="url(#ballP)" stroke="none" stroke-width="1"/>
<circle cx="139.2" cy="472.5" r="4.5" fill="url(#ballP)" stroke="none" stroke-width="1"/>
<circle cx="140.6" cy="464.2" r="4.5" fill="url(#ballP)" stroke="none" stroke-width="1"/>
<circle cx="142.1" cy="455.7" r="4.5" fill="url(#ballP)" stroke="none" stroke-width="1"/>
<polyline points="109.8,624.4 110.1,624.1 110.5,623.6 110.9,623.1 111.3,622.5 111.9,621.9 112.4,621.2 113.1,620.6 113.8,619.9 114.5,619.4 115.3,618.9 116.2,618.5 117.2,618.0 118.2,617.5 119.4,617.1 120.5,616.7 121.7,616.3 122.9,616.0 124.1,615.8 125.2,615.7 126.2,615.6 127.2,615.7 128.1,615.8 129.0,616.1 129.9,616.4 130.8,616.7 131.6,617.1 132.5,617.6 133.3,618.0 134.1,618.5 134.9,618.9 135.7,619.3 136.5,619.9 137.4,620.4 138.2,621.0 139.0,621.6 139.7,622.1 140.4,622.6 141.1,623.1 141.6,623.5 142.0,623.8 142.0,623.8 142.3,623.6 142.7,623.3 143.2,623.0 143.7,622.6 144.2,622.2 144.8,621.8 145.4,621.2 146.0,620.6 146.5,619.8 147.0,619.0 147.5,618.0 147.9,616.9 148.4,615.7 148.8,614.4 149.3,613.0 149.7,611.6 150.1,610.2 150.5,608.7 150.9,607.2 151.3,605.8 151.6,604.3 152.0,602.8 152.3,601.2 152.5,599.6 152.8,598.0 153.1,596.4 153.3,594.8 153.6,593.3 153.8,591.9 154.1,590.6 154.4,589.4 154.6,588.3 154.9,587.2 155.2,586.3 155.5,585.3 155.7,584.4 156.0,583.5 156.2,582.6 156.5,581.7 156.7,580.7 156.9,579.7 157.1,578.8 157.3,577.8 157.4,576.9 157.6,575.9 157.7,575.0 157.9,574.0 158.1,573.0 158.3,572.0 158.5,570.9 158.8,569.7 159.1,568.4 159.5,567.1 159.9,565.7 160.3,564.3 160.6,562.9 161.0,561.7 161.3,560.6 161.6,559.6 161.8,558.9" fill="none" stroke="#119911" stroke-width="1.5" stroke-linejoin="round" stroke-linecap="round"/>
<circle cx="109.8" cy="624.4" r="4.5" fill="url(#ballG)" stroke="none" stroke-width="1"/>
<circle cx="110.6" cy="623.5" r="4.5" fill="url(#ballG)" stroke="none" stroke-width="1"/>
<circle cx="111.5" cy="622.4" r="4.5" fill="url(#ballG)" stroke="none" stroke-width="1"/>
<circle cx="112.6" cy="621.1" r="4.5" fill="url(#ballG)" stroke="none" stroke-width="1"/>
<circle cx="114.1" cy="619.7" r="4.5" fill="url(#ballG)" stroke="none" stroke-width="1"/>
<circle cx="116.1" cy="618.5" r="4.5" fill="url(#ballG)" stroke="none" stroke-width="1"/>
<circle cx="118.6" cy="617.4" r="4.5" fill="url(#ballG)" stroke="none" stroke-width="1"/>
<circle cx="121.5" cy="616.4" r="4.5" fill="url(#ballG)" stroke="none" stroke-width="1"/>
<circle cx="124.8" cy="615.7" r="4.5" fill="url(#ballG)" stroke="none" stroke-width="1"/>
<circle cx="128.3" cy="615.9" r="4.5" fill="url(#ballG)" stroke="none" stroke-width="1"/>
<circle cx="131.5" cy="617.1" r="4.5" fill="url(#ballG)" stroke="none" stroke-width="1"/>
<circle cx="134.3" cy="618.6" r="4.5" fill="url(#ballG)" stroke="none" stroke-width="1"/>
<circle cx="136.8" cy="620.0" r="4.5" fill="url(#ballG)" stroke="none" stroke-width="1"/>
<circle cx="138.7" cy="621.4" r="4.5" fill="url(#ballG)" stroke="none" stroke-width="1"/>
<circle cx="140.3" cy="622.5" r="4.5" fill="url(#ballG)" stroke="none" stroke-width="1"/>
<circle cx="142.0" cy="623.8" r="4.5" fill="url(#ballG)" stroke="none" stroke-width="1"/>
<circle cx="142.0" cy="623.8" r="4.5" fill="url(#ballG)" stroke="none" stroke-width="1"/>
<circle cx="143.0" cy="623.1" r="4.5" fill="url(#ballG)" stroke="none" stroke-width="1"/>
<circle cx="144.1" cy="622.3" r="4.5" fill="url(#ballG)" stroke="none" stroke-width="1"/>
<circle cx="145.3" cy="621.3" r="4.5" fill="url(#ballG)" stroke="none" stroke-width="1"/>
<circle cx="146.4" cy="619.9" r="4.5" fill="url(#ballG)" stroke="none" stroke-width="1"/>
<circle cx="147.4" cy="618.1" r="4.5" fill="url(#ballG)" stroke="none" stroke-width="1"/>
<circle cx="148.3" cy="616.0" r="4.5" fill="url(#ballG)" stroke="none" stroke-width="1"/>
<circle cx="149.2" cy="613.5" r="4.5" fill="url(#ballG)" stroke="none" stroke-width="1"/>
<circle cx="150.0" cy="610.6" r="4.5" fill="url(#ballG)" stroke="none" stroke-width="1"/>
<circle cx="150.9" cy="607.2" r="4.5" fill="url(#ballG)" stroke="none" stroke-width="1"/>
<circle cx="151.8" cy="603.4" r="4.5" fill="url(#ballG)" stroke="none" stroke-width="1"/>
<circle cx="152.7" cy="598.9" r="4.5" fill="url(#ballG)" stroke="none" stroke-width="1"/>
<circle cx="153.5" cy="593.8" r="4.5" fill="url(#ballG)" stroke="none" stroke-width="1"/>
<circle cx="154.7" cy="588.0" r="4.5" fill="url(#ballG)" stroke="none" stroke-width="1"/>
<circle cx="156.5" cy="581.5" r="4.5" fill="url(#ballG)" stroke="none" stroke-width="1"/>
<circle cx="157.9" cy="574.0" r="4.5" fill="url(#ballG)" stroke="none" stroke-width="1"/>
<circle cx="159.9" cy="565.4" r="4.5" fill="url(#ballG)" stroke="none" stroke-width="1"/>
<circle cx="161.8" cy="558.9" r="4.5" fill="url(#ballG)" stroke="none" stroke-width="1"/>
<polyline points="112.0,749.8 112.5,749.2 113.2,748.4 114.0,747.4 114.8,746.4 115.8,745.2 116.9,744.1 118.0,742.9 119.2,741.8 120.5,740.8 121.8,740.0 123.2,739.2 124.8,738.5 126.6,737.7 128.4,737.1 130.2,736.4 132.1,735.8 134.0,735.4 135.8,735.0 137.6,734.7 139.3,734.6 140.9,734.6 142.5,734.8 144.1,735.1 145.7,735.4 147.3,735.9 148.8,736.4 150.3,737.0 151.7,737.7 153.1,738.3 154.5,739.0 155.9,739.8 157.2,740.6 158.6,741.6 159.9,742.7 161.2,743.8 162.4,744.8 163.5,745.8 164.5,746.7 165.3,747.4 166.0,748.0 166.0,748.0 166.4,747.8 166.8,747.6 167.3,747.4 167.9,747.1 168.6,746.8 169.3,746.4 170.0,745.9 170.7,745.2 171.3,744.3 172.0,743.2 172.6,741.8 173.3,740.2 174.0,738.3 174.7,736.3 175.4,734.1 176.1,731.9 176.8,729.7 177.4,727.6 178.0,725.5 178.6,723.7 179.1,722.0 179.6,720.3 180.1,718.6 180.5,717.0 181.0,715.4 181.4,713.9 181.8,712.5 182.1,711.0 182.5,709.7 182.9,708.4 183.3,707.2 183.6,706.1 184.0,705.1 184.3,704.2 184.7,703.3 185.0,702.4 185.3,701.5 185.6,700.6 185.9,699.6 186.2,698.6 186.5,697.5 186.7,696.4 186.9,695.3 187.1,694.1 187.2,692.9 187.4,691.7 187.6,690.5 187.8,689.2 188.1,687.9 188.4,686.6 188.8,685.1 189.2,683.5 189.7,681.8 190.2,680.0 190.7,678.2 191.2,676.5 191.7,674.9 192.1,673.4 192.4,672.2 192.7,671.3" fill="none" stroke="#1a1aff" stroke-width="1.5" stroke-linejoin="round" stroke-linecap="round"/>
<circle cx="112.0" cy="749.8" r="4.5" fill="url(#ballB)" stroke="none" stroke-width="1"/>
<circle cx="112.8" cy="748.9" r="4.5" fill="url(#ballB)" stroke="none" stroke-width="1"/>
<circle cx="113.7" cy="747.8" r="4.5" fill="url(#ballB)" stroke="none" stroke-width="1"/>
<circle cx="114.7" cy="746.6" r="4.5" fill="url(#ballB)" stroke="none" stroke-width="1"/>
<circle cx="115.9" cy="745.1" r="4.5" fill="url(#ballB)" stroke="none" stroke-width="1"/>
<circle cx="117.4" cy="743.5" r="4.5" fill="url(#ballB)" stroke="none" stroke-width="1"/>
<circle cx="119.3" cy="741.8" r="4.5" fill="url(#ballB)" stroke="none" stroke-width="1"/>
<circle cx="121.6" cy="740.1" r="4.5" fill="url(#ballB)" stroke="none" stroke-width="1"/>
<circle cx="124.5" cy="738.6" r="4.5" fill="url(#ballB)" stroke="none" stroke-width="1"/>
<circle cx="127.9" cy="737.2" r="4.5" fill="url(#ballB)" stroke="none" stroke-width="1"/>
<circle cx="131.8" cy="735.9" r="4.5" fill="url(#ballB)" stroke="none" stroke-width="1"/>
<circle cx="136.0" cy="735.0" r="4.5" fill="url(#ballB)" stroke="none" stroke-width="1"/>
<circle cx="140.4" cy="734.6" r="4.5" fill="url(#ballB)" stroke="none" stroke-width="1"/>
<circle cx="144.8" cy="735.2" r="4.5" fill="url(#ballB)" stroke="none" stroke-width="1"/>
<circle cx="149.0" cy="736.5" r="4.5" fill="url(#ballB)" stroke="none" stroke-width="1"/>
<circle cx="152.7" cy="738.1" r="4.5" fill="url(#ballB)" stroke="none" stroke-width="1"/>
<circle cx="155.9" cy="739.8" r="4.5" fill="url(#ballB)" stroke="none" stroke-width="1"/>
<circle cx="158.5" cy="741.6" r="4.5" fill="url(#ballB)" stroke="none" stroke-width="1"/>
<circle cx="160.7" cy="743.3" r="4.5" fill="url(#ballB)" stroke="none" stroke-width="1"/>
<circle cx="162.4" cy="744.9" r="4.5" fill="url(#ballB)" stroke="none" stroke-width="1"/>
<circle cx="163.9" cy="746.2" r="4.5" fill="url(#ballB)" stroke="none" stroke-width="1"/>
<circle cx="166.0" cy="748.0" r="4.5" fill="url(#ballB)" stroke="none" stroke-width="1"/>
<circle cx="166.0" cy="748.0" r="4.5" fill="url(#ballB)" stroke="none" stroke-width="1"/>
<circle cx="167.1" cy="747.5" r="4.5" fill="url(#ballB)" stroke="none" stroke-width="1"/>
<circle cx="168.3" cy="746.9" r="4.5" fill="url(#ballB)" stroke="none" stroke-width="1"/>
<circle cx="169.6" cy="746.1" r="4.5" fill="url(#ballB)" stroke="none" stroke-width="1"/>
<circle cx="170.9" cy="744.9" r="4.5" fill="url(#ballB)" stroke="none" stroke-width="1"/>
<circle cx="171.9" cy="743.3" r="4.5" fill="url(#ballB)" stroke="none" stroke-width="1"/>
<circle cx="172.9" cy="741.3" r="4.5" fill="url(#ballB)" stroke="none" stroke-width="1"/>
<circle cx="173.8" cy="739.0" r="4.5" fill="url(#ballB)" stroke="none" stroke-width="1"/>
<circle cx="174.7" cy="736.3" r="4.5" fill="url(#ballB)" stroke="none" stroke-width="1"/>
<circle cx="175.7" cy="733.2" r="4.5" fill="url(#ballB)" stroke="none" stroke-width="1"/>
<circle cx="176.7" cy="729.8" r="4.5" fill="url(#ballB)" stroke="none" stroke-width="1"/>
<circle cx="177.9" cy="725.9" r="4.5" fill="url(#ballB)" stroke="none" stroke-width="1"/>
<circle cx="179.3" cy="721.5" r="4.5" fill="url(#ballB)" stroke="none" stroke-width="1"/>
<circle cx="180.7" cy="716.4" r="4.5" fill="url(#ballB)" stroke="none" stroke-width="1"/>
<circle cx="182.2" cy="710.7" r="4.5" fill="url(#ballB)" stroke="none" stroke-width="1"/>
<circle cx="184.3" cy="704.4" r="4.5" fill="url(#ballB)" stroke="none" stroke-width="1"/>
<circle cx="186.5" cy="697.2" r="4.5" fill="url(#ballB)" stroke="none" stroke-width="1"/>
<circle cx="187.9" cy="688.8" r="4.5" fill="url(#ballB)" stroke="none" stroke-width="1"/>
<circle cx="190.3" cy="679.5" r="4.5" fill="url(#ballB)" stroke="none" stroke-width="1"/>
<circle cx="192.7" cy="671.3" r="4.5" fill="url(#ballB)" stroke="none" stroke-width="1"/>
<polyline points="114.0,859.8 114.7,859.2 115.6,858.4 116.6,857.4 117.8,856.3 119.1,855.1 120.4,853.9 121.8,852.7 123.3,851.5 124.8,850.4 126.3,849.3 127.8,848.3 129.3,847.2 130.9,846.1 132.5,845.1 134.2,844.0 135.9,843.0 137.7,842.0 139.7,841.2 141.7,840.4 143.8,839.7 146.1,839.1 148.6,838.6 151.2,838.2 153.9,837.8 156.7,837.5 159.5,837.3 162.2,837.1 165.0,837.0 167.6,837.0 170.0,837.0 172.3,837.1 174.6,837.2 176.8,837.4 178.9,837.7 181.0,838.0 183.1,838.4 185.1,838.9 187.1,839.4 189.1,839.9 191.0,840.5 192.9,841.2 194.9,841.9 196.8,842.8 198.7,843.7 200.5,844.6 202.3,845.6 204.0,846.6 205.7,847.5 207.2,848.4 208.6,849.3 209.9,850.1 211.2,851.0 212.3,851.9 213.4,852.8 214.4,853.6 215.3,854.4 216.1,855.1 216.9,855.8 217.5,856.4 218.0,856.8 218.0,856.8 218.6,856.8 219.3,856.8 220.3,856.9 221.3,857.0 222.3,857.0 223.5,856.9 224.6,856.7 225.7,856.3 226.8,855.6 227.8,854.6 228.7,853.2 229.7,851.5 230.6,849.5 231.6,847.3 232.5,844.9 233.4,842.5 234.3,840.0 235.1,837.7 235.9,835.5 236.6,833.5 237.3,831.7 237.8,830.1 238.4,828.6 238.9,827.2 239.3,825.8 239.8,824.3 240.2,822.9 240.7,821.3 241.2,819.6 241.8,817.8 242.4,815.8 243.1,813.6 243.8,811.3 244.6,808.9 245.3,806.5 246.0,804.1 246.8,801.7 247.5,799.3 248.2,797.1 248.8,795.0 249.4,793.0 250.1,790.9 250.7,788.8 251.3,786.8 251.9,784.8 252.4,783.0 253.0,781.3 253.4,779.8 253.8,778.5 254.1,777.5" fill="none" stroke="#ff1a1a" stroke-width="1.5" stroke-linejoin="round" stroke-linecap="round"/>
<circle cx="114.0" cy="859.8" r="4.5" fill="url(#ballR)" stroke="none" stroke-width="1"/>
<circle cx="115.1" cy="858.8" r="4.5" fill="url(#ballR)" stroke="none" stroke-width="1"/>
<circle cx="116.4" cy="857.6" r="4.5" fill="url(#ballR)" stroke="none" stroke-width="1"/>
<circle cx="117.9" cy="856.2" r="4.5" fill="url(#ballR)" stroke="none" stroke-width="1"/>
<circle cx="119.6" cy="854.6" r="4.5" fill="url(#ballR)" stroke="none" stroke-width="1"/>
<circle cx="121.7" cy="852.9" r="4.5" fill="url(#ballR)" stroke="none" stroke-width="1"/>
<circle cx="124.1" cy="850.9" r="4.5" fill="url(#ballR)" stroke="none" stroke-width="1"/>
<circle cx="127.1" cy="848.7" r="4.5" fill="url(#ballR)" stroke="none" stroke-width="1"/>
<circle cx="130.6" cy="846.4" r="4.5" fill="url(#ballR)" stroke="none" stroke-width="1"/>
<circle cx="134.6" cy="843.8" r="4.5" fill="url(#ballR)" stroke="none" stroke-width="1"/>
<circle cx="139.4" cy="841.3" r="4.5" fill="url(#ballR)" stroke="none" stroke-width="1"/>
<circle cx="145.1" cy="839.4" r="4.5" fill="url(#ballR)" stroke="none" stroke-width="1"/>
<circle cx="151.6" cy="838.1" r="4.5" fill="url(#ballR)" stroke="none" stroke-width="1"/>
<circle cx="158.6" cy="837.4" r="4.5" fill="url(#ballR)" stroke="none" stroke-width="1"/>
<circle cx="166.0" cy="837.0" r="4.5" fill="url(#ballR)" stroke="none" stroke-width="1"/>
<circle cx="173.5" cy="837.2" r="4.5" fill="url(#ballR)" stroke="none" stroke-width="1"/>
<circle cx="180.8" cy="838.0" r="4.5" fill="url(#ballR)" stroke="none" stroke-width="1"/>
<circle cx="187.6" cy="839.5" r="4.5" fill="url(#ballR)" stroke="none" stroke-width="1"/>
<circle cx="193.7" cy="841.5" r="4.5" fill="url(#ballR)" stroke="none" stroke-width="1"/>
<circle cx="198.9" cy="843.8" r="4.5" fill="url(#ballR)" stroke="none" stroke-width="1"/>
<circle cx="203.4" cy="846.2" r="4.5" fill="url(#ballR)" stroke="none" stroke-width="1"/>
<circle cx="207.1" cy="848.4" r="4.5" fill="url(#ballR)" stroke="none" stroke-width="1"/>
<circle cx="210.2" cy="850.4" r="4.5" fill="url(#ballR)" stroke="none" stroke-width="1"/>
<circle cx="212.7" cy="852.2" r="4.5" fill="url(#ballR)" stroke="none" stroke-width="1"/>
<circle cx="214.8" cy="853.9" r="4.5" fill="url(#ballR)" stroke="none" stroke-width="1"/>
<circle cx="216.4" cy="855.4" r="4.5" fill="url(#ballR)" stroke="none" stroke-width="1"/>
<circle cx="218.0" cy="856.8" r="4.5" fill="url(#ballR)" stroke="none" stroke-width="1"/>
<circle cx="218.0" cy="856.8" r="4.5" fill="url(#ballR)" stroke="none" stroke-width="1"/>
<circle cx="219.5" cy="856.8" r="4.5" fill="url(#ballR)" stroke="none" stroke-width="1"/>
<circle cx="221.2" cy="857.0" r="4.5" fill="url(#ballR)" stroke="none" stroke-width="1"/>
<circle cx="223.0" cy="857.0" r="4.5" fill="url(#ballR)" stroke="none" stroke-width="1"/>
<circle cx="225.0" cy="856.6" r="4.5" fill="url(#ballR)" stroke="none" stroke-width="1"/>
<circle cx="227.0" cy="855.4" r="4.5" fill="url(#ballR)" stroke="none" stroke-width="1"/>
<circle cx="228.6" cy="853.4" r="4.5" fill="url(#ballR)" stroke="none" stroke-width="1"/>
<circle cx="230.0" cy="850.9" r="4.5" fill="url(#ballR)" stroke="none" stroke-width="1"/>
<circle cx="231.3" cy="848.0" r="4.5" fill="url(#ballR)" stroke="none" stroke-width="1"/>
<circle cx="232.6" cy="844.7" r="4.5" fill="url(#ballR)" stroke="none" stroke-width="1"/>
<circle cx="233.9" cy="840.9" r="4.5" fill="url(#ballR)" stroke="none" stroke-width="1"/>
<circle cx="235.4" cy="836.8" r="4.5" fill="url(#ballR)" stroke="none" stroke-width="1"/>
<circle cx="237.1" cy="832.2" r="4.5" fill="url(#ballR)" stroke="none" stroke-width="1"/>
<circle cx="238.9" cy="827.0" r="4.5" fill="url(#ballR)" stroke="none" stroke-width="1"/>
<circle cx="240.7" cy="821.2" r="4.5" fill="url(#ballR)" stroke="none" stroke-width="1"/>
<circle cx="242.8" cy="814.7" r="4.5" fill="url(#ballR)" stroke="none" stroke-width="1"/>
<circle cx="245.0" cy="807.4" r="4.5" fill="url(#ballR)" stroke="none" stroke-width="1"/>
<circle cx="247.5" cy="799.4" r="4.5" fill="url(#ballR)" stroke="none" stroke-width="1"/>
<circle cx="250.2" cy="790.4" r="4.5" fill="url(#ballR)" stroke="none" stroke-width="1"/>
<circle cx="254.1" cy="777.5" r="4.5" fill="url(#ballR)" stroke="none" stroke-width="1"/>
<polyline points="117.5,958.7 118.5,957.7 119.7,956.4 121.2,954.8 122.8,953.1 124.6,951.2 126.5,949.3 128.6,947.3 130.7,945.5 132.8,943.7 135.0,942.1 137.2,940.6 139.6,939.2 142.0,937.7 144.5,936.4 147.1,935.0 149.7,933.7 152.5,932.4 155.3,931.2 158.3,930.1 161.3,929.0 164.5,928.0 167.8,927.0 171.3,926.0 174.9,925.1 178.6,924.3 182.3,923.5 185.9,922.8 189.5,922.1 193.0,921.6 196.3,921.1 199.5,920.7 202.6,920.4 205.7,920.2 208.7,920.1 211.6,920.0 214.6,920.0 217.5,920.0 220.3,920.0 223.2,920.1 226.1,920.2 229.0,920.3 231.9,920.4 234.9,920.6 237.8,920.8 240.6,921.0 243.5,921.3 246.3,921.6 249.0,921.9 251.6,922.3 254.1,922.8 256.5,923.3 258.8,923.9 261.0,924.5 263.2,925.1 265.3,925.8 267.3,926.5 269.3,927.3 271.2,928.1 273.2,928.9 275.1,929.8 277.0,930.7 278.9,931.7 280.7,932.8 282.5,933.9 284.3,935.0 286.0,936.1 287.7,937.2 289.4,938.3 291.0,939.4 292.6,940.4 294.2,941.4 295.7,942.3 297.1,943.3 298.6,944.2 300.0,945.1 301.4,946.0 302.7,946.8 304.0,947.6 305.3,948.4 306.6,949.1 307.9,949.8 309.2,950.4 310.6,951.0 311.9,951.6 313.2,952.1 314.4,952.6 315.5,953.0 316.5,953.4 317.3,953.7 318.0,954.0 318.0,954.0 318.6,953.8 319.3,953.5 320.2,953.3 321.2,953.0 322.2,952.6 323.4,952.2 324.5,951.7 325.6,951.0 326.6,950.1 327.6,949.1 328.5,947.9 329.4,946.4 330.3,944.8 331.2,943.0 332.1,941.1 332.9,939.2 333.8,937.2 334.7,935.3 335.5,933.4 336.4,931.6 337.3,929.9 338.2,928.1 339.1,926.4 340.0,924.7 340.9,923.0 341.7,921.2 342.6,919.5 343.5,917.7 344.3,915.9 345.1,914.1 345.9,912.2 346.6,910.3 347.3,908.3 348.0,906.3 348.7,904.2 349.4,902.2 350.1,900.3 350.7,898.3 351.4,896.5 352.1,894.8 352.8,893.1 353.6,891.4 354.4,889.8 355.2,888.1 356.0,886.6 356.8,885.1 357.5,883.8 358.1,882.6 358.7,881.6 359.1,880.8" fill="none" stroke="#111" stroke-width="1.5" stroke-linejoin="round" stroke-linecap="round"/>
<circle cx="117.5" cy="958.7" r="4.5" fill="url(#ballK)" stroke="none" stroke-width="1"/>
<circle cx="118.9" cy="957.3" r="4.5" fill="url(#ballK)" stroke="none" stroke-width="1"/>
<circle cx="120.5" cy="955.6" r="4.5" fill="url(#ballK)" stroke="none" stroke-width="1"/>
<circle cx="122.4" cy="953.6" r="4.5" fill="url(#ballK)" stroke="none" stroke-width="1"/>
<circle cx="124.6" cy="951.2" r="4.5" fill="url(#ballK)" stroke="none" stroke-width="1"/>
<circle cx="127.3" cy="948.6" r="4.5" fill="url(#ballK)" stroke="none" stroke-width="1"/>
<circle cx="130.5" cy="945.6" r="4.5" fill="url(#ballK)" stroke="none" stroke-width="1"/>
<circle cx="134.6" cy="942.4" r="4.5" fill="url(#ballK)" stroke="none" stroke-width="1"/>
<circle cx="139.6" cy="939.2" r="4.5" fill="url(#ballK)" stroke="none" stroke-width="1"/>
<circle cx="145.6" cy="935.8" r="4.5" fill="url(#ballK)" stroke="none" stroke-width="1"/>
<circle cx="152.8" cy="932.3" r="4.5" fill="url(#ballK)" stroke="none" stroke-width="1"/>
<circle cx="161.4" cy="929.0" r="4.5" fill="url(#ballK)" stroke="none" stroke-width="1"/>
<circle cx="171.3" cy="926.0" r="4.5" fill="url(#ballK)" stroke="none" stroke-width="1"/>
<circle cx="182.5" cy="923.5" r="4.5" fill="url(#ballK)" stroke="none" stroke-width="1"/>
<circle cx="195.0" cy="921.3" r="4.5" fill="url(#ballK)" stroke="none" stroke-width="1"/>
<circle cx="208.3" cy="920.1" r="4.5" fill="url(#ballK)" stroke="none" stroke-width="1"/>
<circle cx="222.3" cy="920.1" r="4.5" fill="url(#ballK)" stroke="none" stroke-width="1"/>
<circle cx="236.2" cy="920.7" r="4.5" fill="url(#ballK)" stroke="none" stroke-width="1"/>
<circle cx="249.6" cy="922.0" r="4.5" fill="url(#ballK)" stroke="none" stroke-width="1"/>
<circle cx="262.0" cy="924.8" r="4.5" fill="url(#ballK)" stroke="none" stroke-width="1"/>
<circle cx="272.7" cy="928.7" r="4.5" fill="url(#ballK)" stroke="none" stroke-width="1"/>
<circle cx="281.7" cy="933.4" r="4.5" fill="url(#ballK)" stroke="none" stroke-width="1"/>
<circle cx="289.1" cy="938.2" r="4.5" fill="url(#ballK)" stroke="none" stroke-width="1"/>
<circle cx="295.4" cy="942.2" r="4.5" fill="url(#ballK)" stroke="none" stroke-width="1"/>
<circle cx="300.7" cy="945.6" r="4.5" fill="url(#ballK)" stroke="none" stroke-width="1"/>
<circle cx="305.2" cy="948.3" r="4.5" fill="url(#ballK)" stroke="none" stroke-width="1"/>
<circle cx="309.1" cy="950.3" r="4.5" fill="url(#ballK)" stroke="none" stroke-width="1"/>
<circle cx="312.5" cy="951.8" r="4.5" fill="url(#ballK)" stroke="none" stroke-width="1"/>
<circle cx="315.3" cy="952.9" r="4.5" fill="url(#ballK)" stroke="none" stroke-width="1"/>
<circle cx="318.0" cy="954.0" r="4.5" fill="url(#ballK)" stroke="none" stroke-width="1"/>
<circle cx="318.0" cy="954.0" r="4.5" fill="url(#ballK)" stroke="none" stroke-width="1"/>
<circle cx="319.4" cy="953.5" r="4.5" fill="url(#ballK)" stroke="none" stroke-width="1"/>
<circle cx="321.1" cy="953.0" r="4.5" fill="url(#ballK)" stroke="none" stroke-width="1"/>
<circle cx="322.9" cy="952.4" r="4.5" fill="url(#ballK)" stroke="none" stroke-width="1"/>
<circle cx="324.9" cy="951.4" r="4.5" fill="url(#ballK)" stroke="none" stroke-width="1"/>
<circle cx="326.9" cy="949.8" r="4.5" fill="url(#ballK)" stroke="none" stroke-width="1"/>
<circle cx="328.8" cy="947.5" r="4.5" fill="url(#ballK)" stroke="none" stroke-width="1"/>
<circle cx="330.4" cy="944.5" r="4.5" fill="url(#ballK)" stroke="none" stroke-width="1"/>
<circle cx="332.1" cy="941.0" r="4.5" fill="url(#ballK)" stroke="none" stroke-width="1"/>
<circle cx="333.9" cy="937.0" r="4.5" fill="url(#ballK)" stroke="none" stroke-width="1"/>
<circle cx="336.0" cy="932.4" r="4.5" fill="url(#ballK)" stroke="none" stroke-width="1"/>
<circle cx="338.6" cy="927.2" r="4.5" fill="url(#ballK)" stroke="none" stroke-width="1"/>
<circle cx="341.7" cy="921.3" r="4.5" fill="url(#ballK)" stroke="none" stroke-width="1"/>
<circle cx="344.9" cy="914.5" r="4.5" fill="url(#ballK)" stroke="none" stroke-width="1"/>
<circle cx="348.0" cy="906.3" r="4.5" fill="url(#ballK)" stroke="none" stroke-width="1"/>
<circle cx="351.3" cy="896.9" r="4.5" fill="url(#ballK)" stroke="none" stroke-width="1"/>
<circle cx="356.0" cy="886.6" r="4.5" fill="url(#ballK)" stroke="none" stroke-width="1"/>
<circle cx="359.1" cy="880.8" r="4.5" fill="url(#ballK)" stroke="none" stroke-width="1"/>
<rect x="99.80" y="423.90" width="359.20" height="547.50" stroke="#333" stroke-width="1.8" fill="none"/>
<line x1="99.80" y1="971.40" x2="99.80" y2="965.40" stroke="#333" stroke-width="1.6"/>
<line x1="171.64" y1="971.40" x2="171.64" y2="965.40" stroke="#333" stroke-width="1.6"/>
<line x1="243.48" y1="971.40" x2="243.48" y2="965.40" stroke="#333" stroke-width="1.6"/>
<line x1="315.32" y1="971.40" x2="315.32" y2="965.40" stroke="#333" stroke-width="1.6"/>
<line x1="387.16" y1="971.40" x2="387.16" y2="965.40" stroke="#333" stroke-width="1.6"/>
<line x1="459.00" y1="971.40" x2="459.00" y2="965.40" stroke="#333" stroke-width="1.6"/>
<line x1="135.72" y1="971.40" x2="135.72" y2="968.40" stroke="#333" stroke-width="1.6"/>
<line x1="207.56" y1="971.40" x2="207.56" y2="968.40" stroke="#333" stroke-width="1.6"/>
<line x1="279.40" y1="971.40" x2="279.40" y2="968.40" stroke="#333" stroke-width="1.6"/>
<line x1="351.24" y1="971.40" x2="351.24" y2="968.40" stroke="#333" stroke-width="1.6"/>
<line x1="423.08" y1="971.40" x2="423.08" y2="968.40" stroke="#333" stroke-width="1.6"/>
<text x="99.80" y="994.50" font-size="20" text-anchor="middle" fill="#000" font-weight="bold">0</text>
<text x="171.64" y="994.50" font-size="20" text-anchor="middle" fill="#000" font-weight="bold">20</text>
<text x="243.48" y="994.50" font-size="20" text-anchor="middle" fill="#000" font-weight="bold">40</text>
<text x="315.32" y="994.50" font-size="20" text-anchor="middle" fill="#000" font-weight="bold">60</text>
<text x="387.16" y="994.50" font-size="20" text-anchor="middle" fill="#000" font-weight="bold">80</text>
<text x="459.00" y="994.50" font-size="20" text-anchor="middle" fill="#000" font-weight="bold">100</text>
<text x="279.00" y="1028.00" font-size="19.8" text-anchor="middle" fill="#000" font-weight="bold">Z' (Ω)</text>
<text x="80.00" y="684.60" font-size="19" text-anchor="middle" fill="#000" font-weight="bold" transform="rotate(-90 80.00 684.60)">-Z" (Ω)</text>
<circle cx="325.4" cy="533.3" r="4.9" fill="url(#ballP)" stroke="none" stroke-width="1"/>
<line x1="305.00" y1="556.30" x2="346.70" y2="556.30" stroke="#ff1a5a" stroke-width="2.2"/>
<text x="352.00" y="539.60" font-size="18" text-anchor="start" fill="#000" font-weight="bold">60</text>
<text x="377.00" y="539.60" font-size="17" text-anchor="start" fill="#000" font-weight="normal" letter-spacing="-3">°C</text>
<text x="352.00" y="562.60" font-size="18" text-anchor="start" fill="#000" font-weight="bold">Fitting line</text>
<circle cx="325.4" cy="585.2" r="4.9" fill="url(#ballG)" stroke="none" stroke-width="1"/>
<line x1="305.00" y1="608.00" x2="346.70" y2="608.00" stroke="#119911" stroke-width="2.2"/>
<text x="352.00" y="591.50" font-size="18" text-anchor="start" fill="#000" font-weight="bold">50</text>
<text x="377.00" y="591.50" font-size="17" text-anchor="start" fill="#000" font-weight="normal" letter-spacing="-3">°C</text>
<text x="352.00" y="614.30" font-size="18" text-anchor="start" fill="#000" font-weight="bold">Fitting line</text>
<circle cx="325.4" cy="636.9" r="4.9" fill="url(#ballB)" stroke="none" stroke-width="1"/>
<line x1="305.00" y1="659.90" x2="346.70" y2="659.90" stroke="#1a1aff" stroke-width="2.2"/>
<text x="352.00" y="643.20" font-size="18" text-anchor="start" fill="#000" font-weight="bold">40</text>
<text x="377.00" y="643.20" font-size="17" text-anchor="start" fill="#000" font-weight="normal" letter-spacing="-3">°C</text>
<text x="352.00" y="666.20" font-size="18" text-anchor="start" fill="#000" font-weight="bold">Fitting line</text>
<circle cx="325.4" cy="688.8" r="4.9" fill="url(#ballR)" stroke="none" stroke-width="1"/>
<line x1="305.00" y1="711.80" x2="346.70" y2="711.80" stroke="#ff1a1a" stroke-width="2.2"/>
<text x="352.00" y="695.10" font-size="18" text-anchor="start" fill="#000" font-weight="bold">30</text>
<text x="377.00" y="695.10" font-size="17" text-anchor="start" fill="#000" font-weight="normal" letter-spacing="-3">°C</text>
<text x="352.00" y="718.10" font-size="18" text-anchor="start" fill="#000" font-weight="bold">Fitting line</text>
<circle cx="325.4" cy="740.5" r="4.9" fill="url(#ballK)" stroke="none" stroke-width="1"/>
<line x1="305.00" y1="764.00" x2="346.70" y2="764.00" stroke="#334" stroke-width="2.2"/>
<text x="352.00" y="746.80" font-size="18" text-anchor="start" fill="#000" font-weight="bold">20</text>
<text x="377.00" y="746.80" font-size="17" text-anchor="start" fill="#000" font-weight="normal" letter-spacing="-3">°C</text>
<text x="352.00" y="770.30" font-size="18" text-anchor="start" fill="#000" font-weight="bold">Fitting line</text>
<text x="3.00" y="1118.00" font-size="50" text-anchor="start" fill="#000" font-weight="bold">(e)</text>
<polyline points="137.5,1166.3 429.3,1315.5" fill="none" stroke="#1a1aff" stroke-width="2.4" stroke-linejoin="round" stroke-linecap="round"/>
<circle cx="137.5" cy="1166.3" r="4.0" fill="url(#ballB)" stroke="none" stroke-width="1"/>
<circle cx="203.6" cy="1201.3" r="4.0" fill="url(#ballB)" stroke="none" stroke-width="1"/>
<circle cx="274.1" cy="1237.6" r="4.0" fill="url(#ballB)" stroke="none" stroke-width="1"/>
<circle cx="349.1" cy="1275.8" r="4.0" fill="url(#ballB)" stroke="none" stroke-width="1"/>
<circle cx="429.3" cy="1315.5" r="4.0" fill="url(#ballB)" stroke="none" stroke-width="1"/>
<polyline points="137.5,1175.7 429.3,1325.2" fill="none" stroke="#119911" stroke-width="2.4" stroke-linejoin="round" stroke-linecap="round"/>
<circle cx="137.5" cy="1175.7" r="4.0" fill="url(#ballG)" stroke="none" stroke-width="1"/>
<circle cx="203.6" cy="1212.3" r="4.0" fill="url(#ballG)" stroke="none" stroke-width="1"/>
<circle cx="274.1" cy="1248.2" r="4.0" fill="url(#ballG)" stroke="none" stroke-width="1"/>
<circle cx="349.1" cy="1285.8" r="4.0" fill="url(#ballG)" stroke="none" stroke-width="1"/>
<circle cx="429.3" cy="1325.2" r="4.0" fill="url(#ballG)" stroke="none" stroke-width="1"/>
<polyline points="137.5,1140.7 429.3,1286.7" fill="none" stroke="#ff1a1a" stroke-width="2.4" stroke-linejoin="round" stroke-linecap="round"/>
<circle cx="137.5" cy="1140.7" r="4.0" fill="url(#ballR)" stroke="none" stroke-width="1"/>
<circle cx="203.6" cy="1174.8" r="4.0" fill="url(#ballR)" stroke="none" stroke-width="1"/>
<circle cx="274.1" cy="1210.7" r="4.0" fill="url(#ballR)" stroke="none" stroke-width="1"/>
<circle cx="349.1" cy="1248.2" r="4.0" fill="url(#ballR)" stroke="none" stroke-width="1"/>
<circle cx="429.3" cy="1286.7" r="4.0" fill="url(#ballR)" stroke="none" stroke-width="1"/>
<polyline points="137.5,1209.5 429.3,1365.8" fill="none" stroke="#111" stroke-width="2.4" stroke-linejoin="round" stroke-linecap="round"/>
<circle cx="137.5" cy="1209.5" r="4.0" fill="url(#ballK)" stroke="none" stroke-width="1"/>
<circle cx="203.6" cy="1248.6" r="4.0" fill="url(#ballK)" stroke="none" stroke-width="1"/>
<circle cx="274.1" cy="1287.6" r="4.0" fill="url(#ballK)" stroke="none" stroke-width="1"/>
<circle cx="349.1" cy="1326.4" r="4.0" fill="url(#ballK)" stroke="none" stroke-width="1"/>
<circle cx="429.3" cy="1365.8" r="4.0" fill="url(#ballK)" stroke="none" stroke-width="1"/>
<rect x="100.70" y="1111.40" width="356.30" height="287.10" stroke="#000" stroke-width="2.2" fill="none"/>
<line x1="136.33" y1="1398.50" x2="136.33" y2="1393.00" stroke="#000" stroke-width="1.6"/>
<line x1="207.59" y1="1398.50" x2="207.59" y2="1393.00" stroke="#000" stroke-width="1.6"/>
<line x1="278.85" y1="1398.50" x2="278.85" y2="1393.00" stroke="#000" stroke-width="1.6"/>
<line x1="350.11" y1="1398.50" x2="350.11" y2="1393.00" stroke="#000" stroke-width="1.6"/>
<line x1="421.37" y1="1398.50" x2="421.37" y2="1393.00" stroke="#000" stroke-width="1.6"/>
<line x1="171.96" y1="1398.50" x2="171.96" y2="1395.90" stroke="#000" stroke-width="1.6"/>
<line x1="243.22" y1="1398.50" x2="243.22" y2="1395.90" stroke="#000" stroke-width="1.6"/>
<line x1="314.48" y1="1398.50" x2="314.48" y2="1395.90" stroke="#000" stroke-width="1.6"/>
<line x1="385.74" y1="1398.50" x2="385.74" y2="1395.90" stroke="#000" stroke-width="1.6"/>
<line x1="457.00" y1="1398.50" x2="457.00" y2="1395.90" stroke="#000" stroke-width="1.6"/>
<line x1="100.70" y1="1398.50" x2="106.20" y2="1398.50" stroke="#000" stroke-width="1.6"/>
<line x1="100.70" y1="1362.61" x2="106.20" y2="1362.61" stroke="#000" stroke-width="1.6"/>
<line x1="100.70" y1="1326.72" x2="106.20" y2="1326.72" stroke="#000" stroke-width="1.6"/>
<line x1="100.70" y1="1290.84" x2="106.20" y2="1290.84" stroke="#000" stroke-width="1.6"/>
<line x1="100.70" y1="1254.95" x2="106.20" y2="1254.95" stroke="#000" stroke-width="1.6"/>
<line x1="100.70" y1="1219.06" x2="106.20" y2="1219.06" stroke="#000" stroke-width="1.6"/>
<line x1="100.70" y1="1183.18" x2="106.20" y2="1183.18" stroke="#000" stroke-width="1.6"/>
<line x1="100.70" y1="1147.29" x2="106.20" y2="1147.29" stroke="#000" stroke-width="1.6"/>
<line x1="100.70" y1="1111.40" x2="106.20" y2="1111.40" stroke="#000" stroke-width="1.6"/>
<line x1="100.70" y1="1380.56" x2="103.30" y2="1380.56" stroke="#000" stroke-width="1.6"/>
<line x1="100.70" y1="1344.67" x2="103.30" y2="1344.67" stroke="#000" stroke-width="1.6"/>
<line x1="100.70" y1="1308.78" x2="103.30" y2="1308.78" stroke="#000" stroke-width="1.6"/>
<line x1="100.70" y1="1272.89" x2="103.30" y2="1272.89" stroke="#000" stroke-width="1.6"/>
<line x1="100.70" y1="1237.01" x2="103.30" y2="1237.01" stroke="#000" stroke-width="1.6"/>
<line x1="100.70" y1="1201.12" x2="103.30" y2="1201.12" stroke="#000" stroke-width="1.6"/>
<line x1="100.70" y1="1165.23" x2="103.30" y2="1165.23" stroke="#000" stroke-width="1.6"/>
<line x1="100.70" y1="1129.34" x2="103.30" y2="1129.34" stroke="#000" stroke-width="1.6"/>
<text x="136.33" y="1418.60" font-size="18" text-anchor="middle" fill="#000" font-weight="bold">3.0</text>
<text x="207.59" y="1418.60" font-size="18" text-anchor="middle" fill="#000" font-weight="bold">3.1</text>
<text x="278.85" y="1418.60" font-size="18" text-anchor="middle" fill="#000" font-weight="bold">3.2</text>
<text x="350.11" y="1418.60" font-size="18" text-anchor="middle" fill="#000" font-weight="bold">3.3</text>
<text x="421.37" y="1418.60" font-size="18" text-anchor="middle" fill="#000" font-weight="bold">3.4</text>
<text x="93.00" y="1404.10" font-size="18" text-anchor="end" fill="#000" font-weight="bold">-5.9</text>
<text x="93.00" y="1368.21" font-size="18" text-anchor="end" fill="#000" font-weight="bold">-5.3</text>
<text x="93.00" y="1332.32" font-size="18" text-anchor="end" fill="#000" font-weight="bold">-4.7</text>
<text x="93.00" y="1296.44" font-size="18" text-anchor="end" fill="#000" font-weight="bold">-4.1</text>
<text x="93.00" y="1260.55" font-size="18" text-anchor="end" fill="#000" font-weight="bold">-3.5</text>
<text x="93.00" y="1224.66" font-size="18" text-anchor="end" fill="#000" font-weight="bold">-2.9</text>
<text x="93.00" y="1188.78" font-size="18" text-anchor="end" fill="#000" font-weight="bold">-2.3</text>
<text x="93.00" y="1152.89" font-size="18" text-anchor="end" fill="#000" font-weight="bold">-1.7</text>
<text x="93.00" y="1117.00" font-size="18" text-anchor="end" fill="#000" font-weight="bold">-1.1</text>
<text x="279.00" y="1450.50" font-size="17.5" text-anchor="middle" fill="#000" font-weight="bold">1000 / T (K<tspan font-size="10.8" dy="-7.3">-1</tspan><tspan dy="7">)</tspan></text>
<text x="53.50" y="1255.00" font-size="17" text-anchor="middle" fill="#000" font-weight="bold" transform="rotate(-90 53.50 1255.00)">ln (R<tspan font-size="10.5" dy="-7.1">-1</tspan><tspan dx="-9" dy="13" font-size="10.5">ct</tspan><tspan dy="-6.5">, Ω</tspan><tspan font-size="10.5" dy="-7.1">-1</tspan><tspan dy="7"> cm</tspan><tspan font-size="10.5" dy="-7.1">-2</tspan><tspan dy="7">)</tspan></text>
<line x1="287.70" y1="1127.20" x2="322.00" y2="1127.20" stroke="#1a1aff" stroke-width="2.5"/>
<text x="326.10" y="1132.90" font-size="15" text-anchor="start" fill="#000" font-weight="bold">Co@NCNN-900-S</text>
<line x1="287.70" y1="1146.00" x2="322.00" y2="1146.00" stroke="#ff1a1a" stroke-width="2.5"/>
<text x="326.10" y="1151.70" font-size="15" text-anchor="start" fill="#000" font-weight="bold">Co@NCNN-800-S</text>
<line x1="287.70" y1="1164.80" x2="322.00" y2="1164.80" stroke="#119911" stroke-width="2.5"/>
<text x="326.10" y="1170.50" font-size="15" text-anchor="start" fill="#000" font-weight="bold">Co@NCNN-700-S</text>
<line x1="287.70" y1="1183.50" x2="322.00" y2="1183.50" stroke="#111" stroke-width="2.5"/>
<text x="326.10" y="1189.20" font-size="15" text-anchor="start" fill="#000" font-weight="bold">NCNN-S</text>
<text x="172.00" y="1151.50" font-size="15" text-anchor="start" fill="#1a1aff" font-weight="bold">0.525 eV</text>
<text x="362.70" y="1237.00" font-size="15" text-anchor="start" fill="#ff1a1a" font-weight="bold">0.516 eV</text>
<text x="394.60" y="1346.00" font-size="15" text-anchor="start" fill="#119911" font-weight="bold">0.526 eV</text>
<text x="332.00" y="1374.50" font-size="15" text-anchor="start" fill="#111" font-weight="bold">0.549 eV</text>
<text x="503.60" y="433.00" font-size="50" text-anchor="start" fill="#000" font-weight="bold">(f)</text>
<polyline points="603.0,644.4 618.7,643.8 641.4,642.9 667.7,641.8 694.7,640.7 719.2,639.7 738.1,638.8 751.1,638.2 760.6,637.7 767.6,637.3 773.1,636.8 778.0,636.2 783.1,635.4 788.2,634.4 792.5,633.4 796.1,632.2 799.3,630.8 802.4,629.3 805.6,627.5 809.0,625.4 812.3,622.8 815.4,620.1 818.4,617.4 821.1,614.9 823.6,612.9 825.8,611.3 827.5,609.9 829.1,608.8 830.5,607.9 832.0,607.4 833.8,607.3 835.7,607.6 837.6,608.4 839.6,609.5 841.7,610.8 843.9,612.4 846.2,614.0 848.5,616.0 850.9,618.3 853.4,620.8 856.0,623.3 858.9,625.6 861.9,627.5 864.6,629.1 866.8,630.5 869.2,631.6 872.5,632.6 877.3,633.5 884.4,634.3 895.2,635.0 909.4,635.5 925.1,635.8 940.6,636.1 953.8,636.4 963.0,636.5" fill="none" stroke="#119911" stroke-width="2.2" stroke-linejoin="round" stroke-linecap="round"/>
<polyline points="963.0,637.7 947.0,637.8 923.9,637.9 897.0,638.0 869.8,638.2 845.7,638.5 828.1,638.8 817.8,639.2 811.9,639.8 809.2,640.3 808.1,641.0 807.4,641.6 805.6,642.2 803.1,642.8 801.0,643.3 799.2,643.9 797.5,644.5 796.0,645.1 794.4,645.6 792.8,646.1 791.3,646.6 789.9,647.1 788.4,647.5 787.0,647.8 785.4,647.8 783.8,647.6 782.3,647.1 780.7,646.4 778.9,645.7 776.8,645.0 774.1,644.4 770.7,643.9 766.7,643.5 762.3,643.0 757.8,642.6 753.4,642.3 749.3,642.2 745.6,642.1 742.0,642.1 738.5,642.2 735.2,642.5 732.0,642.8 729.1,643.3 726.4,644.0 724.0,644.9 721.8,645.9 719.7,647.0 717.7,648.0 715.6,648.9 713.5,649.8 711.4,650.6 709.4,651.4 707.4,652.1 705.4,652.6 703.2,652.8 700.9,652.6 698.6,652.0 696.2,651.3 693.8,650.5 691.2,649.7 688.6,648.9 686.3,648.3 684.6,647.5 682.9,646.8 680.3,646.1 676.4,645.6 670.5,645.1 661.4,644.8 649.2,644.6 635.6,644.5 622.3,644.5 610.9,644.5 603.0,644.4" fill="none" stroke="#119911" stroke-width="2.2" stroke-linejoin="round" stroke-linecap="round"/>
<polyline points="603.0,644.4 621.6,643.6 648.6,642.3 680.0,640.9 711.7,639.4 739.9,638.0 760.6,637.0 773.1,636.4 780.4,636.2 784.1,636.2 785.9,636.0 787.3,635.4 789.9,634.3 793.3,632.6 796.1,630.6 798.6,628.2 800.9,625.4 803.2,622.2 805.6,618.5 808.3,614.0 811.0,608.6 813.7,602.7 816.4,596.9 819.0,591.5 821.4,587.0 823.7,583.2 825.8,579.7 827.9,576.7 829.9,574.3 831.9,572.8 833.8,572.4 835.6,573.3 837.4,575.5 839.0,578.5 840.7,582.1 842.3,585.8 843.9,589.3 845.4,592.8 846.8,596.6 848.2,600.5 849.6,604.5 851.2,608.3 852.9,611.8 854.8,615.1 856.9,618.2 859.1,621.3 861.4,624.1 863.8,626.6 866.4,628.7 868.5,630.3 869.8,631.5 871.4,632.4 873.8,633.1 877.9,633.7 884.4,634.3 894.9,634.9 909.0,635.4 924.8,635.8 940.4,636.1 953.7,636.3 963.0,636.5" fill="none" stroke="#111" stroke-width="2.2" stroke-linejoin="round" stroke-linecap="round"/>
<polyline points="963.0,637.7 947.0,637.7 923.9,637.8 897.0,637.9 869.8,638.0 845.7,638.3 828.1,638.8 817.8,639.5 811.9,640.3 809.2,641.3 808.1,642.4 807.4,643.4 805.6,644.4 803.1,645.4 801.0,646.4 799.2,647.4 797.5,648.3 796.0,649.2 794.4,650.1 792.8,650.8 791.3,651.6 789.9,652.3 788.4,652.9 787.0,653.3 785.4,653.4 783.6,653.3 781.9,652.9 780.0,652.3 778.1,651.6 776.1,650.8 774.1,650.1 772.1,649.2 770.1,648.2 768.1,647.1 765.9,646.1 763.4,645.1 760.6,644.4 757.3,643.9 753.4,643.5 749.3,643.2 745.3,643.1 741.4,643.1 738.1,643.3 735.3,643.7 732.8,644.3 730.6,645.1 728.6,645.9 726.6,646.9 724.6,647.8 722.6,648.8 720.6,650.0 718.7,651.3 716.9,652.5 715.1,653.6 713.3,654.6 711.6,655.4 710.0,656.3 708.5,657.0 706.9,657.6 705.1,657.9 703.2,657.9 701.0,657.5 698.8,656.7 696.4,655.7 693.8,654.5 691.2,653.3 688.6,652.3 686.3,651.3 684.6,650.3 682.9,649.2 680.3,648.3 676.4,647.4 670.5,646.7 661.4,646.2 649.2,645.8 635.6,645.5 622.3,645.4 610.9,645.2 603.0,645.1" fill="none" stroke="#111" stroke-width="2.2" stroke-linejoin="round" stroke-linecap="round"/>
<polyline points="603.0,644.4 613.1,643.8 627.2,643.0 643.8,642.0 661.4,640.9 678.3,640.0 693.1,639.2 706.1,638.7 718.7,638.3 730.8,638.0 741.9,637.7 751.9,637.4 760.6,637.0 767.6,636.7 773.1,636.4 777.5,636.2 781.1,635.8 784.4,635.2 787.6,634.3 790.6,633.2 793.0,632.1 795.1,630.7 797.0,628.9 798.9,626.4 801.1,623.0 803.6,618.4 806.2,612.6 808.8,606.1 811.5,599.4 814.2,592.9 816.9,587.0 819.6,581.2 822.5,575.0 825.4,568.9 828.2,563.8 830.8,560.2 833.1,558.9 835.0,560.3 836.5,564.2 837.8,569.6 839.0,575.8 840.3,581.9 841.6,587.0 843.1,591.4 844.5,595.9 846.0,600.2 847.5,604.3 849.0,608.2 850.7,611.8 852.3,615.0 853.8,618.0 855.4,620.8 857.2,623.3 859.4,625.5 861.9,627.5 864.4,629.2 866.5,630.6 869.0,631.8 872.3,632.7 877.3,633.5 884.4,634.3 895.2,635.0 909.4,635.5 925.1,635.8 940.6,636.1 953.8,636.4 963.0,636.5" fill="none" stroke="#1a1aff" stroke-width="2.2" stroke-linejoin="round" stroke-linecap="round"/>
<polyline points="963.0,637.7 947.0,637.7 923.9,637.8 897.0,637.8 869.8,638.0 845.7,638.3 828.1,638.8 817.8,639.6 811.9,640.5 809.2,641.7 808.1,642.9 807.4,644.2 805.6,645.6 803.1,647.0 801.0,648.6 799.2,650.3 797.5,651.9 796.0,653.4 794.4,654.6 792.8,655.5 791.3,656.2 789.9,656.8 788.4,657.2 787.0,657.3 785.4,657.3 783.6,656.9 781.9,656.3 780.0,655.5 778.1,654.5 776.1,653.5 774.1,652.3 772.0,650.9 769.8,649.3 767.5,647.5 765.2,645.8 762.9,644.3 760.6,643.3 758.4,642.8 756.3,642.6 754.1,642.6 751.9,642.8 749.6,643.1 747.1,643.3 744.2,643.4 741.1,643.5 737.8,643.6 734.6,643.9 731.6,644.5 729.1,645.6 727.1,647.2 725.4,649.3 724.0,651.7 722.7,654.3 721.5,656.8 720.1,659.1 718.6,661.1 717.0,663.2 715.5,665.3 714.0,667.1 712.5,668.9 711.1,670.3 709.7,671.6 708.4,672.7 707.2,673.7 705.9,674.4 704.6,674.8 703.2,674.8 701.7,674.4 700.2,673.7 698.6,672.6 696.9,671.2 695.1,669.7 693.1,668.1 690.8,666.1 688.3,663.8 685.7,661.3 682.9,658.8 680.1,656.5 677.3,654.6 674.9,653.0 672.9,651.6 670.8,650.5 668.2,649.5 664.5,648.6 659.3,647.8 651.5,647.1 641.3,646.6 630.0,646.3 619.0,646.0 609.6,645.7 603.0,645.6" fill="none" stroke="#1a1aff" stroke-width="2.2" stroke-linejoin="round" stroke-linecap="round"/>
<polyline points="603.0,645.6 607.9,645.0 614.7,644.3 622.7,643.4 631.4,642.5 640.0,641.7 648.0,641.1 655.5,640.6 663.0,640.2 670.5,640.0 678.0,639.7 685.6,639.5 693.1,639.2 700.7,639.0 708.5,638.8 716.3,638.6 723.9,638.3 731.2,638.0 738.1,637.7 744.6,637.2 750.8,636.7 756.8,636.1 762.3,635.5 767.4,634.9 771.9,634.3 775.6,633.8 778.7,633.3 781.3,632.9 783.5,632.4 785.6,631.7 787.6,630.9 789.6,630.0 791.3,629.0 792.8,627.9 794.2,626.6 795.5,625.0 796.6,623.0 797.6,620.8 798.3,618.5 798.9,615.9 799.5,612.8 800.2,609.3 801.1,605.0 802.3,600.2 803.7,594.9 805.3,589.1 806.8,582.7 808.3,575.5 809.6,567.6 810.7,558.1 811.8,547.1 812.7,535.3 813.7,523.7 814.7,513.4 815.8,505.1 817.0,498.8 818.3,493.7 819.7,489.8 821.1,487.0 822.4,485.3 823.6,484.8 824.7,485.3 825.8,487.0 826.8,489.8 827.9,493.7 828.9,498.8 829.9,505.1 830.9,513.4 832.0,523.7 833.0,535.3 834.1,547.1 835.1,558.1 836.1,567.6 837.0,575.6 837.9,582.9 838.7,589.4 839.6,595.3 840.5,600.5 841.6,605.0 842.8,608.6 843.9,611.2 845.1,613.1 846.5,614.5 848.3,615.9 850.7,617.4 853.6,619.0 857.2,620.5 861.1,621.8 865.2,623.1 869.3,624.2 873.2,625.3 876.8,626.3 880.3,627.1 883.7,627.9 887.3,628.6 891.3,629.2 895.7,629.8 900.7,630.4 906.1,630.9 911.9,631.4 917.8,631.8 923.7,632.2 929.5,632.5 935.4,632.7 941.9,632.9 948.3,633.0 954.3,633.1 959.4,633.1 963.0,633.2" fill="none" stroke="#ff1a1a" stroke-width="2.2" stroke-linejoin="round" stroke-linecap="round"/>
<polyline points="963.0,637.7 952.7,637.7 938.0,637.6 920.9,637.6 903.1,637.6 886.6,637.6 873.2,637.7 862.7,637.7 853.6,637.8 845.7,637.8 839.0,638.0 833.2,638.3 828.1,638.8 824.3,639.5 821.9,640.5 820.4,641.5 819.4,642.8 818.4,644.1 816.9,645.6 815.0,647.2 813.1,649.0 811.3,650.9 809.4,652.9 807.5,654.9 805.6,656.8 803.7,658.7 801.8,660.7 799.9,662.7 798.0,664.6 796.1,666.5 794.4,668.1 792.8,669.6 791.3,671.2 789.9,672.7 788.4,673.9 787.0,674.7 785.4,674.8 783.6,674.3 781.9,673.1 780.0,671.4 778.1,669.6 776.1,667.6 774.1,665.8 772.0,664.0 769.7,662.0 767.4,659.9 765.0,657.9 762.7,656.1 760.6,654.6 758.6,653.4 756.8,652.4 755.1,651.6 753.3,651.0 751.5,650.5 749.3,650.1 746.9,649.7 744.2,649.5 741.3,649.4 738.5,649.4 735.9,649.6 733.6,650.1 731.7,650.6 730.1,651.2 728.7,652.0 727.3,653.1 726.0,654.7 724.6,656.8 723.0,659.7 721.5,663.1 719.9,667.1 718.4,671.2 716.9,675.4 715.6,679.3 714.3,683.3 713.0,687.5 711.8,691.6 710.6,695.6 709.7,699.1 708.8,701.8 708.2,703.9 707.9,705.4 707.7,706.4 707.5,707.0 707.1,707.4 706.6,707.5 705.8,707.3 704.8,706.9 703.7,706.1 702.6,705.0 701.2,703.6 699.8,701.8 698.2,699.6 696.5,696.8 694.6,693.6 692.6,690.3 690.6,687.0 688.6,683.8 686.5,680.7 684.3,677.6 682.1,674.4 679.8,671.3 677.5,668.4 675.0,665.8 672.6,663.5 670.2,661.3 667.7,659.3 665.1,657.6 662.3,656.0 659.3,654.6 656.1,653.4 652.7,652.5 649.2,651.7 645.4,651.1 641.3,650.6 636.8,650.1 631.4,649.5 625.1,649.1 618.5,648.6 612.2,648.3 606.8,648.0 603.0,647.8" fill="none" stroke="#ff1a1a" stroke-width="2.2" stroke-linejoin="round" stroke-linecap="round"/>
<line x1="701.70" y1="545.70" x2="701.70" y2="641.00" stroke="#119911" stroke-width="1.6" stroke-dasharray="7 4"/>
<line x1="786.10" y1="545.70" x2="786.10" y2="641.00" stroke="#119911" stroke-width="1.6" stroke-dasharray="7 4"/>
<line x1="701.70" y1="641.00" x2="701.70" y2="660.00" stroke="#111" stroke-width="1.6" stroke-dasharray="7 4"/>
<line x1="786.10" y1="641.00" x2="786.10" y2="660.00" stroke="#111" stroke-width="1.6" stroke-dasharray="7 4"/>
<line x1="703.50" y1="660.00" x2="703.50" y2="700.00" stroke="#1a1aff" stroke-width="1.6" stroke-dasharray="7 4"/>
<line x1="784.00" y1="660.00" x2="784.00" y2="700.00" stroke="#1a1aff" stroke-width="1.6" stroke-dasharray="7 4"/>
<line x1="706.40" y1="700.00" x2="706.40" y2="724.00" stroke="#ff1a1a" stroke-width="1.6" stroke-dasharray="7 4"/>
<line x1="783.00" y1="700.00" x2="783.00" y2="724.00" stroke="#ff1a1a" stroke-width="1.6" stroke-dasharray="7 4"/>
<line x1="707.00" y1="590.40" x2="781.00" y2="590.40" stroke="#119911" stroke-width="1.6"/>
<path d="M703.0,590.4 l7,-3.5 v7 z M785.0,590.4 l-7,-3.5 v7 z" fill="#119911"/>
<line x1="707.00" y1="622.30" x2="781.00" y2="622.30" stroke="#111" stroke-width="1.6"/>
<path d="M703.0,622.3 l7,-3.5 v7 z M785.0,622.3 l-7,-3.5 v7 z" fill="#111"/>
<line x1="708.00" y1="684.00" x2="779.00" y2="684.00" stroke="#1a1aff" stroke-width="1.6"/>
<path d="M704.0,684.0 l7,-3.5 v7 z M783.0,684.0 l-7,-3.5 v7 z" fill="#1a1aff"/>
<line x1="711.00" y1="717.00" x2="778.00" y2="717.00" stroke="#ff1a1a" stroke-width="1.6"/>
<path d="M707.0,717.0 l7,-3.5 v7 z M782.0,717.0 l-7,-3.5 v7 z" fill="#ff1a1a"/>
<rect x="603.10" y="423.90" width="357.90" height="320.80" stroke="#000" stroke-width="2.2" fill="none"/>
<line x1="603.10" y1="744.70" x2="603.10" y2="739.20" stroke="#000" stroke-width="1.6"/>
<line x1="722.40" y1="744.70" x2="722.40" y2="739.20" stroke="#000" stroke-width="1.6"/>
<line x1="841.70" y1="744.70" x2="841.70" y2="739.20" stroke="#000" stroke-width="1.6"/>
<line x1="961.00" y1="744.70" x2="961.00" y2="739.20" stroke="#000" stroke-width="1.6"/>
<line x1="662.75" y1="744.70" x2="662.75" y2="742.10" stroke="#000" stroke-width="1.6"/>
<line x1="782.05" y1="744.70" x2="782.05" y2="742.10" stroke="#000" stroke-width="1.6"/>
<line x1="901.35" y1="744.70" x2="901.35" y2="742.10" stroke="#000" stroke-width="1.6"/>
<line x1="603.10" y1="744.70" x2="608.60" y2="744.70" stroke="#000" stroke-width="1.6"/>
<line x1="603.10" y1="691.23" x2="608.60" y2="691.23" stroke="#000" stroke-width="1.6"/>
<line x1="603.10" y1="637.77" x2="608.60" y2="637.77" stroke="#000" stroke-width="1.6"/>
<line x1="603.10" y1="584.30" x2="608.60" y2="584.30" stroke="#000" stroke-width="1.6"/>
<line x1="603.10" y1="530.83" x2="608.60" y2="530.83" stroke="#000" stroke-width="1.6"/>
<line x1="603.10" y1="477.37" x2="608.60" y2="477.37" stroke="#000" stroke-width="1.6"/>
<line x1="603.10" y1="423.90" x2="608.60" y2="423.90" stroke="#000" stroke-width="1.6"/>
<line x1="603.10" y1="717.97" x2="605.70" y2="717.97" stroke="#000" stroke-width="1.6"/>
<line x1="603.10" y1="664.50" x2="605.70" y2="664.50" stroke="#000" stroke-width="1.6"/>
<line x1="603.10" y1="611.03" x2="605.70" y2="611.03" stroke="#000" stroke-width="1.6"/>
<line x1="603.10" y1="557.57" x2="605.70" y2="557.57" stroke="#000" stroke-width="1.6"/>
<line x1="603.10" y1="504.10" x2="605.70" y2="504.10" stroke="#000" stroke-width="1.6"/>
<line x1="603.10" y1="450.63" x2="605.70" y2="450.63" stroke="#000" stroke-width="1.6"/>
<text x="603.10" y="765.50" font-size="18" text-anchor="middle" fill="#000" font-weight="bold">1.8</text>
<text x="722.40" y="765.50" font-size="18" text-anchor="middle" fill="#000" font-weight="bold">2.1</text>
<text x="841.70" y="765.50" font-size="18" text-anchor="middle" fill="#000" font-weight="bold">2.4</text>
<text x="961.00" y="765.50" font-size="18" text-anchor="middle" fill="#000" font-weight="bold">2.7</text>
<text x="596.80" y="750.30" font-size="18" text-anchor="end" fill="#000" font-weight="bold">-1.0</text>
<text x="596.80" y="696.83" font-size="18" text-anchor="end" fill="#000" font-weight="bold">-0.5</text>
<text x="596.80" y="643.37" font-size="18" text-anchor="end" fill="#000" font-weight="bold">0.0</text>
<text x="596.80" y="589.90" font-size="18" text-anchor="end" fill="#000" font-weight="bold">0.5</text>
<text x="596.80" y="536.43" font-size="18" text-anchor="end" fill="#000" font-weight="bold">1.0</text>
<text x="596.80" y="482.97" font-size="18" text-anchor="end" fill="#000" font-weight="bold">1.5</text>
<text x="596.80" y="429.50" font-size="18" text-anchor="end" fill="#000" font-weight="bold">2.0</text>
<text x="782.00" y="795.00" font-size="17.5" text-anchor="middle" fill="#000" font-weight="bold">Voltage (V)</text>
<text x="565.00" y="584.00" font-size="17.5" text-anchor="middle" fill="#000" font-weight="bold" transform="rotate(-90 565.00 584.00)">Current (mA)</text>
<line x1="612.60" y1="441.60" x2="646.30" y2="441.60" stroke="#1a1aff" stroke-width="2.5"/>
<text x="651.70" y="447.30" font-size="15" text-anchor="start" fill="#000" font-weight="bold">Co@NCNN-900-S</text>
<line x1="612.60" y1="460.40" x2="646.30" y2="460.40" stroke="#ff1a1a" stroke-width="2.5"/>
<text x="651.70" y="466.10" font-size="15" text-anchor="start" fill="#000" font-weight="bold">Co@NCNN-800-S</text>
<line x1="612.60" y1="479.40" x2="646.30" y2="479.40" stroke="#111" stroke-width="2.5"/>
<text x="651.70" y="485.10" font-size="15" text-anchor="start" fill="#000" font-weight="bold">Co@NCNN-700-S</text>
<line x1="612.60" y1="498.20" x2="646.30" y2="498.20" stroke="#119911" stroke-width="2.5"/>
<text x="651.70" y="503.90" font-size="15" text-anchor="start" fill="#000" font-weight="bold">NCNN-S</text>
<text x="804.90" y="476.50" font-size="12.5" text-anchor="start" fill="#ff1a1a" font-weight="bold">2.353 V</text>
<text x="856.50" y="500.30" font-size="15" text-anchor="start" fill="#000" font-weight="bold">Peak C</text>
<text x="838.30" y="549.30" font-size="12.5" text-anchor="start" fill="#1a1aff" font-weight="bold">2.38 V</text>
<text x="845.50" y="574.30" font-size="12.5" text-anchor="start" fill="#111" font-weight="bold">2.381 V</text>
<text x="855.80" y="600.30" font-size="12.5" text-anchor="start" fill="#119911" font-weight="bold">2.381 V</text>
<text x="748.60" y="580.00" font-size="12.5" text-anchor="middle" fill="#119911" font-weight="bold">215.4 mV</text>
<text x="748.60" y="615.30" font-size="12.5" text-anchor="middle" fill="#111" font-weight="bold">208.7 mV</text>
<text x="748.30" y="680.00" font-size="12.5" text-anchor="middle" fill="#1a1aff" font-weight="bold">206.4 mV</text>
<text x="748.30" y="708.80" font-size="12.5" text-anchor="middle" fill="#ff1a1a" font-weight="bold">191.7 mV</text>
<text x="810.50" y="683.00" font-size="15" text-anchor="start" fill="#000" font-weight="bold">Peak A</text>
<text x="641.30" y="718.30" font-size="15" text-anchor="start" fill="#000" font-weight="bold">Peak B</text>
<text x="1024.00" y="433.40" font-size="50" text-anchor="start" fill="#000" font-weight="bold">(h)</text>
<defs>
<clipPath id="hclip"><rect x="1127.4" y="424.2" width="335.5999999999999" height="321.40000000000003"/></clipPath>
<filter id="b3" filterUnits="userSpaceOnUse" x="1000" y="350" width="600" height="500"><feGaussianBlur stdDeviation="3"/></filter>
<filter id="b6" filterUnits="userSpaceOnUse" x="1000" y="350" width="600" height="500"><feGaussianBlur stdDeviation="6"/></filter>
<filter id="b10" filterUnits="userSpaceOnUse" x="1000" y="350" width="600" height="500"><feGaussianBlur stdDeviation="10"/></filter>
<filter id="b16" filterUnits="userSpaceOnUse" x="1000" y="350" width="600" height="500"><feGaussianBlur stdDeviation="16"/></filter>
<linearGradient id="cbar" x1="0" y1="1" x2="0" y2="0"><stop offset="0.0" stop-color="#0d0887"/><stop offset="0.1" stop-color="#41049d"/><stop offset="0.2" stop-color="#6a00a8"/><stop offset="0.3" stop-color="#8f0da4"/><stop offset="0.4" stop-color="#b12a90"/><stop offset="0.5" stop-color="#cc4778"/><stop offset="0.6" stop-color="#e16462"/><stop offset="0.7" stop-color="#f2844b"/><stop offset="0.8" stop-color="#fca636"/><stop offset="0.9" stop-color="#fcce25"/><stop offset="1.0" stop-color="#f0f921"/></linearGradient>
</defs>
<g clip-path="url(#hclip)">
<rect x="1127.4" y="424.2" width="335.5999999999999" height="321.40000000000003" fill="#0f0a8b"/>
<defs><linearGradient id="bandV" x1="0" y1="0" x2="0" y2="1"><stop offset="0" stop-color="#2e0a9a" stop-opacity="0"/><stop offset="0.55" stop-color="#2e0a9a" stop-opacity="1"/><stop offset="1" stop-color="#2e0a9a" stop-opacity="0.6"/></linearGradient><linearGradient id="bandR" x1="0" y1="0" x2="0" y2="1"><stop offset="0" stop-color="#22099a" stop-opacity="0"/><stop offset="0.5" stop-color="#22099a" stop-opacity="0.9"/><stop offset="1" stop-color="#22099a" stop-opacity="0"/></linearGradient></defs>
<rect x="1120" y="545" width="200" height="60" fill="url(#bandV)"/>
<rect x="1345" y="545" width="125" height="70" fill="url(#bandR)"/>
<path d="M1110,600 L1240,570 L1320,575 L1330,760 L1110,760 Z" fill="#3a0a9c" filter="url(#b10)"/>
<path d="M1300,430 L1410,430 L1370,560 L1340,610 L1300,600 Z" fill="#3a0a9c" filter="url(#b10)"/>
<path d="M1120.0,605.0 L1120.7,604.7 L1121.6,604.4 L1122.7,604.0 L1124.2,603.5 L1126.0,602.7 L1128.4,601.6 L1131.4,600.1 L1135.0,598.3 L1139.0,596.2 L1143.3,594.1 L1147.6,592.0 L1151.9,590.2 L1156.3,588.5 L1160.9,586.9 L1165.6,585.3 L1170.2,583.8 L1174.7,582.5 L1178.8,581.4 L1182.6,580.5 L1186.3,579.7 L1189.7,579.1 L1193.0,578.6 L1196.1,578.3 L1199.0,578.1 L1201.6,578.0 L1204.0,578.0 L1206.1,578.2 L1208.2,578.5 L1210.2,579.2 L1212.4,580.1 L1214.6,581.4 L1216.9,583.0 L1219.2,584.8 L1221.4,586.9 L1223.6,589.1 L1225.8,591.5 L1228.1,593.8 L1230.5,596.0 L1232.8,598.4 L1235.0,601.1 L1236.8,604.6 L1238.0,609.0 L1238.6,614.6 L1238.6,621.2 L1238.2,628.4 L1237.6,636.0 L1237.0,643.6 L1236.6,650.7 L1236.3,657.3 L1235.9,663.7 L1235.5,670.1 L1235.1,676.6 L1234.8,683.5 L1234.6,691.0 L1234.6,699.7 L1234.7,709.7 L1234.8,720.1 L1235.0,730.0 L1235.2,738.5 L1235.3,744.8 L1235.7,748.5 L1236.5,750.3 L1237.2,750.8 L1237.6,750.5 L1237.1,750.0 L1235.5,750.0 L1232.1,750.4 L1227.1,750.6 L1221.3,750.6 L1215.5,750.6 L1210.5,750.4 L1207.0,750.0 L1205.4,749.6 L1205.0,749.2 L1205.4,748.7 L1206.0,747.8 L1206.3,746.6 L1205.7,744.8 L1204.2,742.3 L1202.2,739.2 L1199.9,735.6 L1197.3,731.9 L1194.7,728.1 L1192.2,724.6 L1189.7,721.3 L1187.1,718.1 L1184.4,715.0 L1181.7,711.7 L1178.9,708.2 L1176.1,704.5 L1173.2,700.3 L1170.3,695.8 L1167.3,691.1 L1164.4,686.4 L1161.5,681.9 L1158.6,677.6 L1155.8,673.7 L1153.1,669.9 L1150.3,666.3 L1147.7,662.8 L1145.1,659.4 L1142.5,656.0 L1140.0,652.5 L1137.4,649.0 L1135.0,645.5 L1132.6,642.2 L1130.4,639.2 L1128.4,636.6 L1126.6,634.7 L1124.9,633.5 L1123.3,632.5 L1122.0,631.5 L1120.8,630.1 L1120.0,628.0 L1119.4,624.8 L1119.1,620.7 L1119.0,616.2 L1119.1,611.7 L1119.4,607.9 L1120.0,605.0 L1121.0,603.3 L1122.5,602.3 L1124.2,601.9 L1125.9,601.8 L1127.4,601.7 L1128.4,601.6 Z" fill="#6a08a6" filter="url(#b3)"/>
<ellipse cx="1198" cy="618" rx="36" ry="32" fill="#c0428a" filter="url(#b16)"/>
<path d="M1195,665 L1236,655 L1236,760 L1200,760 Z" fill="#8a10a4" filter="url(#b16)"/>
<path d="M1251.4,609.0 L1252.3,608.1 L1253.4,607.0 L1254.8,605.6 L1256.3,604.1 L1257.9,602.5 L1259.5,600.9 L1261.1,599.2 L1262.8,597.4 L1264.6,595.5 L1266.4,593.7 L1268.3,591.9 L1270.2,590.2 L1272.1,588.6 L1274.1,587.0 L1276.2,585.5 L1278.2,584.2 L1280.3,583.0 L1282.3,582.1 L1284.3,581.5 L1286.3,581.0 L1288.3,580.8 L1290.4,580.8 L1292.4,581.0 L1294.4,581.4 L1296.5,582.1 L1298.6,583.0 L1300.8,584.1 L1302.9,585.5 L1304.8,587.0 L1306.5,588.8 L1308.0,590.8 L1309.4,593.0 L1310.6,595.4 L1311.6,598.0 L1312.5,600.7 L1313.2,603.6 L1313.7,606.4 L1314.0,609.2 L1314.1,612.1 L1314.1,615.4 L1314.0,619.2 L1313.9,623.8 L1313.7,629.4 L1313.3,636.0 L1312.9,643.1 L1312.4,650.4 L1311.8,657.5 L1311.2,664.1 L1310.5,670.2 L1309.8,676.0 L1309.0,681.7 L1308.2,687.2 L1307.3,692.6 L1306.5,697.7 L1305.6,702.8 L1304.7,707.9 L1303.8,712.7 L1302.9,717.3 L1302.0,721.3 L1301.1,724.6 L1300.2,727.2 L1299.3,729.1 L1298.4,730.6 L1297.6,731.6 L1296.7,732.3 L1295.8,732.7 L1295.0,733.0 L1294.2,733.0 L1293.4,732.7 L1292.6,732.0 L1291.6,730.7 L1290.4,728.7 L1288.9,726.0 L1287.3,722.7 L1285.5,718.9 L1283.6,714.5 L1281.6,709.7 L1279.6,704.5 L1277.5,698.6 L1275.2,692.0 L1272.8,684.9 L1270.5,677.7 L1268.2,670.6 L1266.2,664.1 L1264.4,658.0 L1262.6,651.9 L1261.0,646.1 L1259.5,640.6 L1258.1,635.3 L1256.8,630.5 L1255.5,626.1 L1254.2,621.9 L1253.0,618.2 L1252.1,614.7 L1251.5,611.7 L1251.4,609.0 L1252.1,606.8 L1253.4,605.0 L1255.1,603.6 L1256.9,602.5 L1258.5,601.6 L1259.5,600.9 Z" fill="#6a04a8" filter="url(#b3)"/>
<ellipse cx="1294" cy="630" rx="12" ry="34" fill="#9c1ea0" filter="url(#b10)"/>
<path d="M1312.0,422.0 L1312.0,422.1 L1311.9,421.9 L1311.8,421.8 L1311.8,422.2 L1311.8,423.4 L1312.0,425.8 L1312.3,429.4 L1312.7,433.9 L1313.2,439.3 L1313.7,445.3 L1314.2,451.9 L1314.6,458.8 L1315.0,466.5 L1315.3,475.2 L1315.7,484.3 L1316.0,493.6 L1316.3,502.5 L1316.5,510.6 L1316.7,517.9 L1316.8,524.8 L1316.9,531.3 L1317.0,537.5 L1317.1,543.5 L1317.2,549.5 L1317.4,555.5 L1317.5,561.6 L1317.7,567.6 L1317.9,573.1 L1318.2,577.9 L1318.5,581.9 L1318.8,584.8 L1319.1,586.8 L1319.4,588.2 L1319.8,589.1 L1320.4,590.0 L1321.1,590.9 L1322.1,591.9 L1323.4,592.7 L1324.8,593.3 L1326.2,593.9 L1327.6,594.4 L1328.8,594.8 L1329.8,595.2 L1330.7,595.6 L1331.5,595.9 L1332.3,596.1 L1333.1,596.2 L1334.0,596.1 L1335.0,595.9 L1336.1,595.6 L1337.2,595.1 L1338.4,594.5 L1339.5,593.5 L1340.5,592.2 L1341.5,590.4 L1342.4,588.3 L1343.3,585.8 L1344.1,583.2 L1344.9,580.6 L1345.7,578.0 L1346.4,575.4 L1347.1,572.6 L1347.7,569.7 L1348.3,567.0 L1348.9,564.5 L1349.6,562.4 L1350.3,560.9 L1351.1,559.8 L1351.9,559.0 L1352.8,558.3 L1353.7,557.3 L1354.7,556.0 L1355.8,554.4 L1357.0,552.8 L1358.3,551.0 L1359.6,548.8 L1361.0,546.2 L1362.5,543.0 L1364.1,539.1 L1365.8,534.5 L1367.5,529.5 L1369.3,524.1 L1371.1,518.7 L1372.9,513.2 L1374.6,507.7 L1376.4,501.9 L1378.1,496.1 L1379.9,490.1 L1381.6,484.2 L1383.2,478.3 L1384.8,472.3 L1386.5,466.0 L1388.1,459.7 L1389.7,453.7 L1391.1,448.1 L1392.3,443.3 L1393.3,439.2 L1394.1,435.7 L1394.8,432.6 L1395.3,430.0 L1395.8,427.7 L1396.2,425.8 L1396.5,424.3 L1396.7,423.4 L1396.8,422.8 L1396.9,422.5 L1396.9,422.3 L1397.0,422.0 Z" fill="#7a08a8" filter="url(#b3)"/>
<path d="M1320,424 L1390,424 L1372,480 L1352,540 L1338,590 L1326,585 L1322,520 Z" fill="#a82592" filter="url(#b6)"/>
<path d="M1330,424 L1380,424 L1362,490 L1346,545 L1336,575 L1330,540 Z" fill="#d85872" filter="url(#b6)"/>
<path d="M1340,424 L1374,424 L1360,470 L1348,510 L1340,500 Z" fill="#f08450" filter="url(#b6)"/>
<path d="M1348,424 L1368,424 L1360,455 L1352,470 Z" fill="#fbb43a" filter="url(#b3)"/>
<ellipse cx="1357" cy="436" rx="8" ry="20" fill="#f4ec26" filter="url(#b6)"/>
<path d="M1312.0,422.0 L1312.0,422.1 L1311.9,421.9 L1311.8,421.8 L1311.8,422.2 L1311.8,423.4 L1312.0,425.8 L1312.3,429.4 L1312.7,433.9 L1313.2,439.3 L1313.7,445.3 L1314.2,451.9 L1314.6,458.8 L1315.0,466.5 L1315.3,475.2 L1315.7,484.3 L1316.0,493.6 L1316.3,502.5 L1316.5,510.6 L1316.7,517.9 L1316.8,524.8 L1316.9,531.3 L1317.0,537.5 L1317.1,543.5 L1317.2,549.5 L1317.4,555.5 L1317.5,561.6 L1317.7,567.6 L1317.9,573.1 L1318.2,577.9 L1318.5,581.9 L1318.8,584.8 L1319.1,586.8 L1319.4,588.2 L1319.8,589.1 L1320.4,590.0 L1321.1,590.9 L1322.1,591.9 L1323.4,592.7 L1324.8,593.3 L1326.2,593.9 L1327.6,594.4 L1328.8,594.8 L1329.8,595.2 L1330.7,595.6 L1331.5,595.9 L1332.3,596.1 L1333.1,596.2 L1334.0,596.1 L1335.0,595.9 L1336.1,595.6 L1337.2,595.1 L1338.4,594.5 L1339.5,593.5 L1340.5,592.2 L1341.5,590.4 L1342.4,588.3 L1343.3,585.8 L1344.1,583.2 L1344.9,580.6 L1345.7,578.0 L1346.4,575.4 L1347.1,572.6 L1347.7,569.7 L1348.3,567.0 L1348.9,564.5 L1349.6,562.4 L1350.3,560.9 L1351.1,559.8 L1351.9,559.0 L1352.8,558.3 L1353.7,557.3 L1354.7,556.0 L1355.8,554.4 L1357.0,552.8 L1358.3,551.0 L1359.6,548.8 L1361.0,546.2 L1362.5,543.0 L1364.1,539.1 L1365.8,534.5 L1367.5,529.5 L1369.3,524.1 L1371.1,518.7 L1372.9,513.2 L1374.6,507.7 L1376.4,501.9 L1378.1,496.1 L1379.9,490.1 L1381.6,484.2 L1383.2,478.3 L1384.8,472.3 L1386.5,466.0 L1388.1,459.7 L1389.7,453.7 L1391.1,448.1 L1392.3,443.3 L1393.3,439.2 L1394.1,435.7 L1394.8,432.6 L1395.3,430.0 L1395.8,427.7 L1396.2,425.8 L1396.5,424.3 L1396.7,423.4 L1396.8,422.8 L1396.9,422.5 L1396.9,422.3 L1397.0,422.0" fill="none" stroke="#f8ea10" stroke-width="2.2"/>
<path d="M1120.0,605.0 L1120.7,604.7 L1121.6,604.4 L1122.7,604.0 L1124.2,603.5 L1126.0,602.7 L1128.4,601.6 L1131.4,600.1 L1135.0,598.3 L1139.0,596.2 L1143.3,594.1 L1147.6,592.0 L1151.9,590.2 L1156.3,588.5 L1160.9,586.9 L1165.6,585.3 L1170.2,583.8 L1174.7,582.5 L1178.8,581.4 L1182.6,580.5 L1186.3,579.7 L1189.7,579.1 L1193.0,578.6 L1196.1,578.3 L1199.0,578.1 L1201.6,578.0 L1204.0,578.0 L1206.1,578.2 L1208.2,578.5 L1210.2,579.2 L1212.4,580.1 L1214.6,581.4 L1216.9,583.0 L1219.2,584.8 L1221.4,586.9 L1223.6,589.1 L1225.8,591.5 L1228.1,593.8 L1230.5,596.0 L1232.8,598.4 L1235.0,601.1 L1236.8,604.6 L1238.0,609.0 L1238.6,614.6 L1238.6,621.2 L1238.2,628.4 L1237.6,636.0 L1237.0,643.6 L1236.6,650.7 L1236.3,657.3 L1235.9,663.7 L1235.5,670.1 L1235.1,676.6 L1234.8,683.5 L1234.6,691.0 L1234.6,699.7 L1234.7,709.7 L1234.8,720.1 L1235.0,730.0 L1235.2,738.5 L1235.3,744.8 L1235.7,748.5 L1236.5,750.3 L1237.2,750.8 L1237.6,750.5 L1237.1,750.0 L1235.5,750.0 L1232.1,750.4 L1227.1,750.6 L1221.3,750.6 L1215.5,750.6 L1210.5,750.4 L1207.0,750.0 L1205.4,749.6 L1205.0,749.2 L1205.4,748.7 L1206.0,747.8 L1206.3,746.6 L1205.7,744.8 L1204.2,742.3 L1202.2,739.2 L1199.9,735.6 L1197.3,731.9 L1194.7,728.1 L1192.2,724.6 L1189.7,721.3 L1187.1,718.1 L1184.4,715.0 L1181.7,711.7 L1178.9,708.2 L1176.1,704.5 L1173.2,700.3 L1170.3,695.8 L1167.3,691.1 L1164.4,686.4 L1161.5,681.9 L1158.6,677.6 L1155.8,673.7 L1153.1,669.9 L1150.3,666.3 L1147.7,662.8 L1145.1,659.4 L1142.5,656.0 L1140.0,652.5 L1137.4,649.0 L1135.0,645.5 L1132.6,642.2 L1130.4,639.2 L1128.4,636.6 L1126.6,634.7 L1124.9,633.5 L1123.3,632.5 L1122.0,631.5 L1120.8,630.1 L1120.0,628.0 L1119.4,624.8 L1119.1,620.7 L1119.0,616.2 L1119.1,611.7 L1119.4,607.9 L1120.0,605.0 L1121.0,603.3 L1122.5,602.3 L1124.2,601.9 L1125.9,601.8 L1127.4,601.7 L1128.4,601.6 Z" fill="none" stroke="#f8ea10" stroke-width="2.2"/>
<path d="M1251.4,609.0 L1252.3,608.1 L1253.4,607.0 L1254.8,605.6 L1256.3,604.1 L1257.9,602.5 L1259.5,600.9 L1261.1,599.2 L1262.8,597.4 L1264.6,595.5 L1266.4,593.7 L1268.3,591.9 L1270.2,590.2 L1272.1,588.6 L1274.1,587.0 L1276.2,585.5 L1278.2,584.2 L1280.3,583.0 L1282.3,582.1 L1284.3,581.5 L1286.3,581.0 L1288.3,580.8 L1290.4,580.8 L1292.4,581.0 L1294.4,581.4 L1296.5,582.1 L1298.6,583.0 L1300.8,584.1 L1302.9,585.5 L1304.8,587.0 L1306.5,588.8 L1308.0,590.8 L1309.4,593.0 L1310.6,595.4 L1311.6,598.0 L1312.5,600.7 L1313.2,603.6 L1313.7,606.4 L1314.0,609.2 L1314.1,612.1 L1314.1,615.4 L1314.0,619.2 L1313.9,623.8 L1313.7,629.4 L1313.3,636.0 L1312.9,643.1 L1312.4,650.4 L1311.8,657.5 L1311.2,664.1 L1310.5,670.2 L1309.8,676.0 L1309.0,681.7 L1308.2,687.2 L1307.3,692.6 L1306.5,697.7 L1305.6,702.8 L1304.7,707.9 L1303.8,712.7 L1302.9,717.3 L1302.0,721.3 L1301.1,724.6 L1300.2,727.2 L1299.3,729.1 L1298.4,730.6 L1297.6,731.6 L1296.7,732.3 L1295.8,732.7 L1295.0,733.0 L1294.2,733.0 L1293.4,732.7 L1292.6,732.0 L1291.6,730.7 L1290.4,728.7 L1288.9,726.0 L1287.3,722.7 L1285.5,718.9 L1283.6,714.5 L1281.6,709.7 L1279.6,704.5 L1277.5,698.6 L1275.2,692.0 L1272.8,684.9 L1270.5,677.7 L1268.2,670.6 L1266.2,664.1 L1264.4,658.0 L1262.6,651.9 L1261.0,646.1 L1259.5,640.6 L1258.1,635.3 L1256.8,630.5 L1255.5,626.1 L1254.2,621.9 L1253.0,618.2 L1252.1,614.7 L1251.5,611.7 L1251.4,609.0 L1252.1,606.8 L1253.4,605.0 L1255.1,603.6 L1256.9,602.5 L1258.5,601.6 L1259.5,600.9 Z" fill="none" stroke="#f8ea10" stroke-width="2.2"/>
</g>
<text x="1335.50" y="483.50" font-size="20" text-anchor="middle" fill="#f5e61a" font-weight="normal" transform="rotate(90 1335.50 483.50)">Peak C</text>
<text x="1287.50" y="646.00" font-size="19.5" text-anchor="middle" fill="#f5e61a" font-weight="bold" transform="rotate(80 1287.50 646.00)">Peak A</text>
<text x="1188.50" y="658.00" font-size="19.5" text-anchor="middle" fill="#f5e61a" font-weight="bold" transform="rotate(71 1188.50 658.00)">Peak B</text>
<text x="1393.00" y="506.00" font-size="19" text-anchor="middle" fill="#fff" font-weight="bold" transform="rotate(108 1393.00 506.00)">Li<tspan font-size="11.8" dy="4.8">2</tspan><tspan dy="-4.7">S→S</tspan><tspan font-size="11.8" dy="4.8">8</tspan></text>
<text x="1246.00" y="688.00" font-size="19" text-anchor="middle" fill="#fff" font-weight="bold" transform="rotate(90 1246.00 688.00)">Li<tspan font-size="11.8" dy="4.8">2</tspan><tspan dy="-4.7">S</tspan><tspan font-size="11.8" dy="4.8">n</tspan><tspan dy="-4.7">→Li</tspan><tspan font-size="11.8" dy="4.8">2</tspan><tspan dy="-4.7">S</tspan></text>
<text x="1334.00" y="657.00" font-size="19" text-anchor="middle" fill="#fff" font-weight="bold" transform="rotate(90 1334.00 657.00)">S<tspan font-size="11.8" dy="4.8">8</tspan><tspan dy="-4.7">→Li</tspan><tspan font-size="11.8" dy="4.8">2</tspan><tspan dy="-4.7">S</tspan><tspan font-size="11.8" dy="4.8">n</tspan></text>
<rect x="1127.40" y="424.20" width="335.60" height="321.40" stroke="#000" stroke-width="2.0" fill="none"/>
<line x1="1127.40" y1="745.60" x2="1127.40" y2="751.10" stroke="#000" stroke-width="1.8"/>
<line x1="1239.27" y1="745.60" x2="1239.27" y2="751.10" stroke="#000" stroke-width="1.8"/>
<line x1="1351.13" y1="745.60" x2="1351.13" y2="751.10" stroke="#000" stroke-width="1.8"/>
<line x1="1463.00" y1="745.60" x2="1463.00" y2="751.10" stroke="#000" stroke-width="1.8"/>
<line x1="1183.33" y1="745.60" x2="1183.33" y2="748.60" stroke="#000" stroke-width="1.8"/>
<line x1="1295.20" y1="745.60" x2="1295.20" y2="748.60" stroke="#000" stroke-width="1.8"/>
<line x1="1407.07" y1="745.60" x2="1407.07" y2="748.60" stroke="#000" stroke-width="1.8"/>
<line x1="1127.40" y1="423.80" x2="1121.90" y2="423.80" stroke="#000" stroke-width="1.8"/>
<text x="1118.00" y="430.60" font-size="19.5" text-anchor="end" fill="#000" font-weight="bold">0.4</text>
<line x1="1127.40" y1="469.90" x2="1121.90" y2="469.90" stroke="#000" stroke-width="1.8"/>
<text x="1118.00" y="476.70" font-size="19.5" text-anchor="end" fill="#000" font-weight="bold">0.3</text>
<line x1="1127.40" y1="515.60" x2="1121.90" y2="515.60" stroke="#000" stroke-width="1.8"/>
<text x="1118.00" y="522.40" font-size="19.5" text-anchor="end" fill="#000" font-weight="bold">0.2</text>
<line x1="1127.40" y1="561.70" x2="1121.90" y2="561.70" stroke="#000" stroke-width="1.8"/>
<text x="1118.00" y="568.50" font-size="19.5" text-anchor="end" fill="#000" font-weight="bold">0.1</text>
<line x1="1127.40" y1="607.80" x2="1121.90" y2="607.80" stroke="#000" stroke-width="1.8"/>
<text x="1118.00" y="614.60" font-size="19.5" text-anchor="end" fill="#000" font-weight="bold">0.4</text>
<line x1="1127.40" y1="653.50" x2="1121.90" y2="653.50" stroke="#000" stroke-width="1.8"/>
<text x="1118.00" y="660.30" font-size="19.5" text-anchor="end" fill="#000" font-weight="bold">0.3</text>
<line x1="1127.40" y1="699.60" x2="1121.90" y2="699.60" stroke="#000" stroke-width="1.8"/>
<text x="1118.00" y="706.40" font-size="19.5" text-anchor="end" fill="#000" font-weight="bold">0.2</text>
<line x1="1127.40" y1="745.30" x2="1121.90" y2="745.30" stroke="#000" stroke-width="1.8"/>
<text x="1118.00" y="752.10" font-size="19.5" text-anchor="end" fill="#000" font-weight="bold">0.1</text>
<line x1="1127.40" y1="446.80" x2="1124.40" y2="446.80" stroke="#000" stroke-width="1.8"/>
<line x1="1127.40" y1="492.70" x2="1124.40" y2="492.70" stroke="#000" stroke-width="1.8"/>
<line x1="1127.40" y1="538.60" x2="1124.40" y2="538.60" stroke="#000" stroke-width="1.8"/>
<line x1="1127.40" y1="584.70" x2="1124.40" y2="584.70" stroke="#000" stroke-width="1.8"/>
<line x1="1127.40" y1="630.60" x2="1124.40" y2="630.60" stroke="#000" stroke-width="1.8"/>
<line x1="1127.40" y1="676.50" x2="1124.40" y2="676.50" stroke="#000" stroke-width="1.8"/>
<line x1="1127.40" y1="722.50" x2="1124.40" y2="722.50" stroke="#000" stroke-width="1.8"/>
<text x="1127.40" y="772.20" font-size="19.5" text-anchor="middle" fill="#000" font-weight="bold">1.8</text>
<text x="1239.27" y="772.20" font-size="19.5" text-anchor="middle" fill="#000" font-weight="bold">2.1</text>
<text x="1351.13" y="772.20" font-size="19.5" text-anchor="middle" fill="#000" font-weight="bold">2.4</text>
<text x="1463.00" y="772.20" font-size="19.5" text-anchor="middle" fill="#000" font-weight="bold">2.7</text>
<text x="1296.00" y="805.00" font-size="19.5" text-anchor="middle" fill="#000" font-weight="bold">Voltage (V)</text>
<text x="1051.00" y="515.00" font-size="19.5" text-anchor="middle" fill="#000" font-weight="bold" transform="rotate(-90 1051.00 515.00)">Anodic scan</text>
<text x="1078.00" y="515.00" font-size="19.5" text-anchor="middle" fill="#000" font-weight="bold" transform="rotate(-90 1078.00 515.00)">(mV s<tspan font-size="12.1" dy="-8.2">-1</tspan><tspan dy="8">)</tspan></text>
<text x="1051.00" y="680.00" font-size="19.5" text-anchor="middle" fill="#000" font-weight="bold" transform="rotate(-90 1051.00 680.00)">Cathodic scan</text>
<text x="1078.00" y="680.00" font-size="19.5" text-anchor="middle" fill="#000" font-weight="bold" transform="rotate(-90 1078.00 680.00)">(mV s<tspan font-size="12.1" dy="-8.2">-1</tspan><tspan dy="8">)</tspan></text>
<rect x="1514.5" y="424" width="13.5" height="321.8" fill="url(#cbar)" stroke="#000" stroke-width="0.8"/>
<line x1="1528.00" y1="427.60" x2="1534.00" y2="427.60" stroke="#000" stroke-width="1.8"/>
<text x="1542.60" y="434.60" font-size="19.5" text-anchor="start" fill="#000" font-weight="bold">3.0</text>
<line x1="1528.00" y1="585.30" x2="1534.00" y2="585.30" stroke="#000" stroke-width="1.8"/>
<text x="1542.60" y="592.30" font-size="19.5" text-anchor="start" fill="#000" font-weight="bold">1.5</text>
<line x1="1528.00" y1="742.50" x2="1534.00" y2="742.50" stroke="#000" stroke-width="1.8"/>
<text x="1542.60" y="749.50" font-size="19.5" text-anchor="start" fill="#000" font-weight="bold">0.0</text>
<text x="1592.00" y="584.00" font-size="19.5" text-anchor="middle" fill="#000" font-weight="bold" transform="rotate(-90 1592.00 584.00)">Curremt (mA)</text>
<text x="490.00" y="860.50" font-size="50" text-anchor="start" fill="#000" font-weight="bold">(g)</text>
<polyline points="643.4,891.5 715.0,986.8" fill="none" stroke="#111" stroke-width="2" stroke-linejoin="round" stroke-linecap="round"/>
<circle cx="643.4" cy="891.5" r="4.2" fill="url(#ballK)" stroke="none" stroke-width="1"/>
<circle cx="653.7" cy="905.1" r="4.2" fill="url(#ballK)" stroke="none" stroke-width="1"/>
<circle cx="663.9" cy="918.7" r="4.2" fill="url(#ballK)" stroke="none" stroke-width="1"/>
<circle cx="674.1" cy="932.4" r="4.2" fill="url(#ballK)" stroke="none" stroke-width="1"/>
<circle cx="684.3" cy="946.0" r="4.2" fill="url(#ballK)" stroke="none" stroke-width="1"/>
<circle cx="694.5" cy="959.6" r="4.2" fill="url(#ballK)" stroke="none" stroke-width="1"/>
<circle cx="704.7" cy="973.2" r="4.2" fill="url(#ballK)" stroke="none" stroke-width="1"/>
<circle cx="715.0" cy="986.8" r="4.2" fill="url(#ballK)" stroke="none" stroke-width="1"/>
<polyline points="659.8,902.5 736.1,997.4" fill="none" stroke="#1a1aff" stroke-width="2" stroke-linejoin="round" stroke-linecap="round"/>
<circle cx="659.8" cy="902.5" r="4.2" fill="url(#ballB)" stroke="none" stroke-width="1"/>
<circle cx="669.3" cy="914.4" r="4.2" fill="url(#ballB)" stroke="none" stroke-width="1"/>
<circle cx="678.9" cy="926.3" r="4.2" fill="url(#ballB)" stroke="none" stroke-width="1"/>
<circle cx="688.4" cy="938.1" r="4.2" fill="url(#ballB)" stroke="none" stroke-width="1"/>
<circle cx="698.0" cy="950.0" r="4.2" fill="url(#ballB)" stroke="none" stroke-width="1"/>
<circle cx="707.5" cy="961.8" r="4.2" fill="url(#ballB)" stroke="none" stroke-width="1"/>
<circle cx="717.1" cy="973.7" r="4.2" fill="url(#ballB)" stroke="none" stroke-width="1"/>
<circle cx="726.6" cy="985.6" r="4.2" fill="url(#ballB)" stroke="none" stroke-width="1"/>
<circle cx="736.1" cy="997.4" r="4.2" fill="url(#ballB)" stroke="none" stroke-width="1"/>
<polyline points="632.4,913.6 688.5,995.2" fill="none" stroke="#119911" stroke-width="2" stroke-linejoin="round" stroke-linecap="round"/>
<circle cx="632.4" cy="913.6" r="4.2" fill="url(#ballG)" stroke="none" stroke-width="1"/>
<circle cx="641.8" cy="927.2" r="4.2" fill="url(#ballG)" stroke="none" stroke-width="1"/>
<circle cx="651.1" cy="940.8" r="4.2" fill="url(#ballG)" stroke="none" stroke-width="1"/>
<circle cx="660.4" cy="954.4" r="4.2" fill="url(#ballG)" stroke="none" stroke-width="1"/>
<circle cx="669.8" cy="968.0" r="4.2" fill="url(#ballG)" stroke="none" stroke-width="1"/>
<circle cx="679.1" cy="981.6" r="4.2" fill="url(#ballG)" stroke="none" stroke-width="1"/>
<circle cx="688.5" cy="995.2" r="4.2" fill="url(#ballG)" stroke="none" stroke-width="1"/>
<polyline points="664.2,884.0 773.7,970.1" fill="none" stroke="#ff1a1a" stroke-width="2" stroke-linejoin="round" stroke-linecap="round"/>
<circle cx="664.2" cy="924.6" r="4.2" fill="url(#ballR)" stroke="none" stroke-width="1"/>
<circle cx="681.0" cy="890.6" r="4.2" fill="url(#ballR)" stroke="none" stroke-width="1"/>
<circle cx="692.9" cy="887.1" r="4.2" fill="url(#ballR)" stroke="none" stroke-width="1"/>
<circle cx="697.3" cy="903.9" r="4.2" fill="url(#ballR)" stroke="none" stroke-width="1"/>
<circle cx="705.2" cy="895.9" r="4.2" fill="url(#ballR)" stroke="none" stroke-width="1"/>
<circle cx="712.7" cy="899.4" r="4.2" fill="url(#ballR)" stroke="none" stroke-width="1"/>
<circle cx="712.7" cy="914.9" r="4.2" fill="url(#ballR)" stroke="none" stroke-width="1"/>
<circle cx="716.3" cy="919.3" r="4.2" fill="url(#ballR)" stroke="none" stroke-width="1"/>
<circle cx="722.9" cy="928.1" r="4.2" fill="url(#ballR)" stroke="none" stroke-width="1"/>
<circle cx="716.3" cy="939.2" r="4.2" fill="url(#ballR)" stroke="none" stroke-width="1"/>
<circle cx="729.5" cy="944.5" r="4.2" fill="url(#ballR)" stroke="none" stroke-width="1"/>
<circle cx="737.0" cy="911.4" r="4.2" fill="url(#ballR)" stroke="none" stroke-width="1"/>
<circle cx="741.9" cy="948.0" r="4.2" fill="url(#ballR)" stroke="none" stroke-width="1"/>
<circle cx="742.8" cy="951.5" r="4.2" fill="url(#ballR)" stroke="none" stroke-width="1"/>
<circle cx="750.3" cy="936.1" r="4.2" fill="url(#ballR)" stroke="none" stroke-width="1"/>
<circle cx="753.8" cy="959.0" r="4.2" fill="url(#ballR)" stroke="none" stroke-width="1"/>
<circle cx="740.6" cy="967.9" r="4.2" fill="url(#ballR)" stroke="none" stroke-width="1"/>
<circle cx="743.6" cy="963.4" r="4.2" fill="url(#ballR)" stroke="none" stroke-width="1"/>
<circle cx="756.9" cy="972.3" r="4.2" fill="url(#ballR)" stroke="none" stroke-width="1"/>
<circle cx="764.8" cy="955.9" r="4.2" fill="url(#ballR)" stroke="none" stroke-width="1"/>
<circle cx="773.7" cy="976.7" r="4.2" fill="url(#ballR)" stroke="none" stroke-width="1"/>
<polyline points="843.4,1092.3 890.6,1129.0" fill="none" stroke="#ff1a1a" stroke-width="2" stroke-linejoin="round" stroke-linecap="round"/>
<circle cx="843.4" cy="1092.3" r="4.2" fill="url(#ballR)" stroke="none" stroke-width="1"/>
<circle cx="847.0" cy="1095.2" r="4.2" fill="url(#ballR)" stroke="none" stroke-width="1"/>
<circle cx="850.7" cy="1098.0" r="4.2" fill="url(#ballR)" stroke="none" stroke-width="1"/>
<circle cx="854.3" cy="1100.8" r="4.2" fill="url(#ballR)" stroke="none" stroke-width="1"/>
<circle cx="857.9" cy="1103.6" r="4.2" fill="url(#ballR)" stroke="none" stroke-width="1"/>
<circle cx="861.6" cy="1106.4" r="4.2" fill="url(#ballR)" stroke="none" stroke-width="1"/>
<circle cx="865.2" cy="1109.2" r="4.2" fill="url(#ballR)" stroke="none" stroke-width="1"/>
<circle cx="868.8" cy="1112.1" r="4.2" fill="url(#ballR)" stroke="none" stroke-width="1"/>
<circle cx="872.5" cy="1114.9" r="4.2" fill="url(#ballR)" stroke="none" stroke-width="1"/>
<circle cx="876.1" cy="1117.7" r="4.2" fill="url(#ballR)" stroke="none" stroke-width="1"/>
<circle cx="879.7" cy="1120.5" r="4.2" fill="url(#ballR)" stroke="none" stroke-width="1"/>
<circle cx="883.4" cy="1123.3" r="4.2" fill="url(#ballR)" stroke="none" stroke-width="1"/>
<circle cx="887.0" cy="1126.2" r="4.2" fill="url(#ballR)" stroke="none" stroke-width="1"/>
<circle cx="890.6" cy="1129.0" r="4.2" fill="url(#ballR)" stroke="none" stroke-width="1"/>
<polyline points="827.5,1123.7 849.6,1146.6" fill="none" stroke="#1a1aff" stroke-width="2" stroke-linejoin="round" stroke-linecap="round"/>
<circle cx="827.5" cy="1123.7" r="4.2" fill="url(#ballB)" stroke="none" stroke-width="1"/>
<circle cx="834.9" cy="1131.3" r="4.2" fill="url(#ballB)" stroke="none" stroke-width="1"/>
<circle cx="842.2" cy="1139.0" r="4.2" fill="url(#ballB)" stroke="none" stroke-width="1"/>
<circle cx="849.6" cy="1146.6" r="4.2" fill="url(#ballB)" stroke="none" stroke-width="1"/>
<polyline points="800.1,1124.6 815.6,1148.8" fill="none" stroke="#111" stroke-width="2" stroke-linejoin="round" stroke-linecap="round"/>
<circle cx="800.1" cy="1124.6" r="4.2" fill="url(#ballK)" stroke="none" stroke-width="1"/>
<circle cx="805.3" cy="1132.6" r="4.2" fill="url(#ballK)" stroke="none" stroke-width="1"/>
<circle cx="810.4" cy="1140.7" r="4.2" fill="url(#ballK)" stroke="none" stroke-width="1"/>
<circle cx="815.6" cy="1148.8" r="4.2" fill="url(#ballK)" stroke="none" stroke-width="1"/>
<polyline points="772.3,1142.2 795.7,1181.1" fill="none" stroke="#119911" stroke-width="2" stroke-linejoin="round" stroke-linecap="round"/>
<circle cx="772.3" cy="1142.2" r="4.2" fill="url(#ballG)" stroke="none" stroke-width="1"/>
<circle cx="777.0" cy="1150.0" r="4.2" fill="url(#ballG)" stroke="none" stroke-width="1"/>
<circle cx="781.7" cy="1157.7" r="4.2" fill="url(#ballG)" stroke="none" stroke-width="1"/>
<circle cx="786.4" cy="1165.5" r="4.2" fill="url(#ballG)" stroke="none" stroke-width="1"/>
<circle cx="791.0" cy="1173.3" r="4.2" fill="url(#ballG)" stroke="none" stroke-width="1"/>
<circle cx="795.7" cy="1181.1" r="4.2" fill="url(#ballG)" stroke="none" stroke-width="1"/>
<polyline points="772.3,1298.9 809.0,1254.8" fill="none" stroke="#119911" stroke-width="2" stroke-linejoin="round" stroke-linecap="round"/>
<circle cx="772.3" cy="1298.9" r="4.2" fill="url(#ballG)" stroke="none" stroke-width="1"/>
<circle cx="779.7" cy="1290.1" r="4.2" fill="url(#ballG)" stroke="none" stroke-width="1"/>
<circle cx="787.0" cy="1281.2" r="4.2" fill="url(#ballG)" stroke="none" stroke-width="1"/>
<circle cx="794.3" cy="1272.4" r="4.2" fill="url(#ballG)" stroke="none" stroke-width="1"/>
<circle cx="801.6" cy="1263.6" r="4.2" fill="url(#ballG)" stroke="none" stroke-width="1"/>
<circle cx="809.0" cy="1254.8" r="4.2" fill="url(#ballG)" stroke="none" stroke-width="1"/>
<polyline points="797.1,1306.8 855.3,1254.8" fill="none" stroke="#111" stroke-width="2" stroke-linejoin="round" stroke-linecap="round"/>
<circle cx="797.1" cy="1306.8" r="4.2" fill="url(#ballK)" stroke="none" stroke-width="1"/>
<circle cx="805.4" cy="1299.4" r="4.2" fill="url(#ballK)" stroke="none" stroke-width="1"/>
<circle cx="813.7" cy="1292.0" r="4.2" fill="url(#ballK)" stroke="none" stroke-width="1"/>
<circle cx="822.0" cy="1284.5" r="4.2" fill="url(#ballK)" stroke="none" stroke-width="1"/>
<circle cx="830.3" cy="1277.1" r="4.2" fill="url(#ballK)" stroke="none" stroke-width="1"/>
<circle cx="838.7" cy="1269.6" r="4.2" fill="url(#ballK)" stroke="none" stroke-width="1"/>
<circle cx="847.0" cy="1262.2" r="4.2" fill="url(#ballK)" stroke="none" stroke-width="1"/>
<circle cx="855.3" cy="1254.8" r="4.2" fill="url(#ballK)" stroke="none" stroke-width="1"/>
<polyline points="799.3,1316.6 853.1,1281.2" fill="none" stroke="#1a1aff" stroke-width="2" stroke-linejoin="round" stroke-linecap="round"/>
<circle cx="799.3" cy="1316.6" r="4.2" fill="url(#ballB)" stroke="none" stroke-width="1"/>
<circle cx="810.0" cy="1309.5" r="4.2" fill="url(#ballB)" stroke="none" stroke-width="1"/>
<circle cx="820.8" cy="1302.4" r="4.2" fill="url(#ballB)" stroke="none" stroke-width="1"/>
<circle cx="831.6" cy="1295.4" r="4.2" fill="url(#ballB)" stroke="none" stroke-width="1"/>
<circle cx="842.3" cy="1288.3" r="4.2" fill="url(#ballB)" stroke="none" stroke-width="1"/>
<circle cx="853.1" cy="1281.2" r="4.2" fill="url(#ballB)" stroke="none" stroke-width="1"/>
<polyline points="817.8,1370.8 903.9,1323.2" fill="none" stroke="#ff1a1a" stroke-width="2" stroke-linejoin="round" stroke-linecap="round"/>
<circle cx="817.8" cy="1370.8" r="4.2" fill="url(#ballR)" stroke="none" stroke-width="1"/>
<circle cx="822.9" cy="1368.0" r="4.2" fill="url(#ballR)" stroke="none" stroke-width="1"/>
<circle cx="827.9" cy="1365.2" r="4.2" fill="url(#ballR)" stroke="none" stroke-width="1"/>
<circle cx="833.0" cy="1362.4" r="4.2" fill="url(#ballR)" stroke="none" stroke-width="1"/>
<circle cx="838.0" cy="1359.6" r="4.2" fill="url(#ballR)" stroke="none" stroke-width="1"/>
<circle cx="843.1" cy="1356.8" r="4.2" fill="url(#ballR)" stroke="none" stroke-width="1"/>
<circle cx="848.2" cy="1354.0" r="4.2" fill="url(#ballR)" stroke="none" stroke-width="1"/>
<circle cx="853.2" cy="1351.2" r="4.2" fill="url(#ballR)" stroke="none" stroke-width="1"/>
<circle cx="858.3" cy="1348.4" r="4.2" fill="url(#ballR)" stroke="none" stroke-width="1"/>
<circle cx="863.4" cy="1345.6" r="4.2" fill="url(#ballR)" stroke="none" stroke-width="1"/>
<circle cx="868.4" cy="1342.8" r="4.2" fill="url(#ballR)" stroke="none" stroke-width="1"/>
<circle cx="873.5" cy="1340.0" r="4.2" fill="url(#ballR)" stroke="none" stroke-width="1"/>
<circle cx="878.6" cy="1337.2" r="4.2" fill="url(#ballR)" stroke="none" stroke-width="1"/>
<circle cx="883.6" cy="1334.4" r="4.2" fill="url(#ballR)" stroke="none" stroke-width="1"/>
<circle cx="888.7" cy="1331.6" r="4.2" fill="url(#ballR)" stroke="none" stroke-width="1"/>
<circle cx="893.7" cy="1328.8" r="4.2" fill="url(#ballR)" stroke="none" stroke-width="1"/>
<circle cx="898.8" cy="1326.0" r="4.2" fill="url(#ballR)" stroke="none" stroke-width="1"/>
<circle cx="903.9" cy="1323.2" r="4.2" fill="url(#ballR)" stroke="none" stroke-width="1"/>
<rect x="602.00" y="851.70" width="359.20" height="548.20" stroke="#000" stroke-width="2.0" fill="none"/>
<line x1="602.00" y1="1034.10" x2="961.20" y2="1034.10" stroke="#000" stroke-width="2.0"/>
<line x1="602.00" y1="1216.40" x2="961.20" y2="1216.40" stroke="#000" stroke-width="2.0"/>
<line x1="602.00" y1="1014.92" x2="607.50" y2="1014.92" stroke="#000" stroke-width="1.6"/>
<line x1="602.00" y1="974.12" x2="607.50" y2="974.12" stroke="#000" stroke-width="1.6"/>
<line x1="602.00" y1="933.31" x2="607.50" y2="933.31" stroke="#000" stroke-width="1.6"/>
<line x1="602.00" y1="892.51" x2="607.50" y2="892.51" stroke="#000" stroke-width="1.6"/>
<line x1="602.00" y1="851.70" x2="607.50" y2="851.70" stroke="#000" stroke-width="1.6"/>
<line x1="602.00" y1="994.52" x2="604.60" y2="994.52" stroke="#000" stroke-width="1.6"/>
<line x1="602.00" y1="953.71" x2="604.60" y2="953.71" stroke="#000" stroke-width="1.6"/>
<line x1="602.00" y1="912.91" x2="604.60" y2="912.91" stroke="#000" stroke-width="1.6"/>
<line x1="602.00" y1="872.10" x2="604.60" y2="872.10" stroke="#000" stroke-width="1.6"/>
<text x="595.00" y="1021.92" font-size="20" text-anchor="end" fill="#000" font-weight="bold">2.31</text>
<text x="595.00" y="981.12" font-size="20" text-anchor="end" fill="#000" font-weight="bold">2.32</text>
<text x="595.00" y="940.31" font-size="20" text-anchor="end" fill="#000" font-weight="bold">2.33</text>
<text x="595.00" y="899.51" font-size="20" text-anchor="end" fill="#000" font-weight="bold">2.34</text>
<text x="595.00" y="858.70" font-size="20" text-anchor="end" fill="#000" font-weight="bold">2.35</text>
<line x1="602.00" y1="1194.48" x2="607.50" y2="1194.48" stroke="#000" stroke-width="1.6"/>
<line x1="602.00" y1="1148.33" x2="607.50" y2="1148.33" stroke="#000" stroke-width="1.6"/>
<line x1="602.00" y1="1102.17" x2="607.50" y2="1102.17" stroke="#000" stroke-width="1.6"/>
<line x1="602.00" y1="1056.02" x2="607.50" y2="1056.02" stroke="#000" stroke-width="1.6"/>
<line x1="602.00" y1="1171.40" x2="604.60" y2="1171.40" stroke="#000" stroke-width="1.6"/>
<line x1="602.00" y1="1125.25" x2="604.60" y2="1125.25" stroke="#000" stroke-width="1.6"/>
<line x1="602.00" y1="1079.10" x2="604.60" y2="1079.10" stroke="#000" stroke-width="1.6"/>
<line x1="602.00" y1="1032.95" x2="604.60" y2="1032.95" stroke="#000" stroke-width="1.6"/>
<text x="595.00" y="1201.48" font-size="20" text-anchor="end" fill="#000" font-weight="bold">2.06</text>
<text x="595.00" y="1155.33" font-size="20" text-anchor="end" fill="#000" font-weight="bold">2.08</text>
<text x="595.00" y="1109.17" font-size="20" text-anchor="end" fill="#000" font-weight="bold">2.10</text>
<text x="595.00" y="1063.02" font-size="20" text-anchor="end" fill="#000" font-weight="bold">2.12</text>
<line x1="602.00" y1="1399.90" x2="607.50" y2="1399.90" stroke="#000" stroke-width="1.6"/>
<line x1="602.00" y1="1347.55" x2="607.50" y2="1347.55" stroke="#000" stroke-width="1.6"/>
<line x1="602.00" y1="1295.19" x2="607.50" y2="1295.19" stroke="#000" stroke-width="1.6"/>
<line x1="602.00" y1="1242.84" x2="607.50" y2="1242.84" stroke="#000" stroke-width="1.6"/>
<line x1="602.00" y1="1373.72" x2="604.60" y2="1373.72" stroke="#000" stroke-width="1.6"/>
<line x1="602.00" y1="1321.37" x2="604.60" y2="1321.37" stroke="#000" stroke-width="1.6"/>
<line x1="602.00" y1="1269.02" x2="604.60" y2="1269.02" stroke="#000" stroke-width="1.6"/>
<line x1="602.00" y1="1216.66" x2="604.60" y2="1216.66" stroke="#000" stroke-width="1.6"/>
<text x="595.00" y="1406.90" font-size="20" text-anchor="end" fill="#000" font-weight="bold">2.28</text>
<text x="595.00" y="1354.55" font-size="20" text-anchor="end" fill="#000" font-weight="bold">2.30</text>
<text x="595.00" y="1302.19" font-size="20" text-anchor="end" fill="#000" font-weight="bold">2.32</text>
<text x="595.00" y="1249.84" font-size="20" text-anchor="end" fill="#000" font-weight="bold">2.34</text>
<line x1="602.00" y1="1399.90" x2="602.00" y2="1394.40" stroke="#000" stroke-width="1.6"/>
<line x1="673.84" y1="1399.90" x2="673.84" y2="1394.40" stroke="#000" stroke-width="1.6"/>
<line x1="745.68" y1="1399.90" x2="745.68" y2="1394.40" stroke="#000" stroke-width="1.6"/>
<line x1="817.52" y1="1399.90" x2="817.52" y2="1394.40" stroke="#000" stroke-width="1.6"/>
<line x1="889.36" y1="1399.90" x2="889.36" y2="1394.40" stroke="#000" stroke-width="1.6"/>
<line x1="961.20" y1="1399.90" x2="961.20" y2="1394.40" stroke="#000" stroke-width="1.6"/>
<line x1="637.92" y1="1399.90" x2="637.92" y2="1397.30" stroke="#000" stroke-width="1.6"/>
<line x1="709.76" y1="1399.90" x2="709.76" y2="1397.30" stroke="#000" stroke-width="1.6"/>
<line x1="781.60" y1="1399.90" x2="781.60" y2="1397.30" stroke="#000" stroke-width="1.6"/>
<line x1="853.44" y1="1399.90" x2="853.44" y2="1397.30" stroke="#000" stroke-width="1.6"/>
<line x1="925.28" y1="1399.90" x2="925.28" y2="1397.30" stroke="#000" stroke-width="1.6"/>
<text x="602.00" y="1423.40" font-size="20" text-anchor="middle" fill="#000" font-weight="bold">-2.1</text>
<text x="673.84" y="1423.40" font-size="20" text-anchor="middle" fill="#000" font-weight="bold">-1.7</text>
<text x="745.68" y="1423.40" font-size="20" text-anchor="middle" fill="#000" font-weight="bold">-1.3</text>
<text x="817.52" y="1423.40" font-size="20" text-anchor="middle" fill="#000" font-weight="bold">-0.9</text>
<text x="889.36" y="1423.40" font-size="20" text-anchor="middle" fill="#000" font-weight="bold">-0.5</text>
<text x="961.20" y="1423.40" font-size="20" text-anchor="middle" fill="#000" font-weight="bold">-0.1</text>
<text x="781.50" y="1459.00" font-size="19.5" text-anchor="middle" fill="#000" font-weight="bold">log|j| (mA cm<tspan font-size="12.1" dy="-8.2">-2</tspan><tspan dy="8">)</tspan></text>
<text x="544.50" y="1114.80" font-size="19.5" text-anchor="middle" fill="#000" font-weight="bold" transform="rotate(-90 544.50 1114.80)">Voltage (V)</text>
<line x1="785.60" y1="869.90" x2="828.80" y2="869.90" stroke="#ff1a1a" stroke-width="2.2"/>
<text x="831.00" y="875.60" font-size="15" text-anchor="start" fill="#000" font-weight="bold">Co@NCNN-800-S</text>
<line x1="785.60" y1="892.80" x2="828.80" y2="892.80" stroke="#1a1aff" stroke-width="2.2"/>
<text x="831.00" y="898.50" font-size="15" text-anchor="start" fill="#000" font-weight="bold">Co@NCNN-900-S</text>
<line x1="785.60" y1="916.20" x2="828.80" y2="916.20" stroke="#111" stroke-width="2.2"/>
<text x="831.00" y="921.90" font-size="15" text-anchor="start" fill="#000" font-weight="bold">Co@NCNN-700-S</text>
<line x1="785.60" y1="939.20" x2="828.80" y2="939.20" stroke="#119911" stroke-width="2.2"/>
<text x="831.00" y="944.90" font-size="15" text-anchor="start" fill="#000" font-weight="bold">NCNN-S</text>
<text x="619.20" y="877.60" font-size="15.3" text-anchor="start" fill="#111" font-weight="bold">59.3 mV dec<tspan font-size="9.5" dy="-6.4">-1</tspan></text>
<text x="786.00" y="977.80" font-size="15.3" text-anchor="start" fill="#ff1a1a" font-weight="bold">35.4 mV dec<tspan font-size="9.5" dy="-6.4">-1</tspan></text>
<text x="748.00" y="1008.70" font-size="15.3" text-anchor="start" fill="#1a1aff" font-weight="bold">54.9 mV dec<tspan font-size="9.5" dy="-6.4">-1</tspan></text>
<text x="636.80" y="1019.70" font-size="15.3" text-anchor="start" fill="#119911" font-weight="bold">65.5 mV dec<tspan font-size="9.5" dy="-6.4">-1</tspan></text>
<text x="840.70" y="1074.90" font-size="15.3" text-anchor="start" fill="#ff1a1a" font-weight="bold">62.7 mV dec<tspan font-size="9.5" dy="-6.4">-1</tspan></text>
<text x="853.10" y="1168.90" font-size="15.3" text-anchor="start" fill="#1a1aff" font-weight="bold">83.8 mV dec<tspan font-size="9.5" dy="-6.4">-1</tspan></text>
<text x="669.00" y="1186.50" font-size="15.3" text-anchor="start" fill="#119911" font-weight="bold">126.6 mV dec<tspan font-size="9.5" dy="-6.4">-1</tspan></text>
<text x="824.40" y="1189.60" font-size="15.3" text-anchor="start" fill="#111" font-weight="bold">117.4 mV dec<tspan font-size="9.5" dy="-6.4">-1</tspan></text>
<text x="693.30" y="1261.60" font-size="15.3" text-anchor="start" fill="#119911" font-weight="bold">82.5 mV dec<tspan font-size="9.5" dy="-6.4">-1</tspan></text>
<text x="844.30" y="1247.00" font-size="15.3" text-anchor="start" fill="#111" font-weight="bold">63.4 mV dec<tspan font-size="9.5" dy="-6.4">-1</tspan></text>
<text x="844.30" y="1310.10" font-size="15.3" text-anchor="start" fill="#1a1aff" font-weight="bold">44.4 mV dec<tspan font-size="9.5" dy="-6.4">-1</tspan></text>
<text x="853.10" y="1377.20" font-size="15.3" text-anchor="start" fill="#ff1a1a" font-weight="bold">37.6 mV dec<tspan font-size="9.5" dy="-6.4">-1</tspan></text>
<text x="883.10" y="1021.00" font-size="19.5" text-anchor="start" fill="#000" font-weight="bold">Peak A</text>
<text x="628.90" y="1071.00" font-size="19.5" text-anchor="start" fill="#000" font-weight="bold">Peak B</text>
<text x="628.90" y="1378.50" font-size="19.5" text-anchor="start" fill="#000" font-weight="bold">Peak C</text>
<text x="1024.00" y="860.30" font-size="50" text-anchor="start" fill="#000" font-weight="bold">(i)</text>
<polyline points="1161.1,1007.7 1460.4,990.8" fill="none" stroke="#119911" stroke-width="2.2" stroke-linejoin="round" stroke-linecap="round"/>
<circle cx="1161.1" cy="1007.6" r="4.2" fill="url(#ballG)" stroke="none" stroke-width="1"/>
<circle cx="1285.0" cy="1001.0" r="4.2" fill="url(#ballG)" stroke="none" stroke-width="1"/>
<circle cx="1380.2" cy="995.2" r="4.2" fill="url(#ballG)" stroke="none" stroke-width="1"/>
<circle cx="1460.4" cy="990.8" r="4.2" fill="url(#ballG)" stroke="none" stroke-width="1"/>
<polyline points="1161.1,999.0 1460.4,960.8" fill="none" stroke="#111" stroke-width="2.2" stroke-linejoin="round" stroke-linecap="round"/>
<circle cx="1161.1" cy="998.8" r="4.2" fill="url(#ballK)" stroke="none" stroke-width="1"/>
<circle cx="1285.0" cy="983.3" r="4.2" fill="url(#ballK)" stroke="none" stroke-width="1"/>
<circle cx="1380.2" cy="971.4" r="4.2" fill="url(#ballK)" stroke="none" stroke-width="1"/>
<circle cx="1460.4" cy="960.4" r="4.2" fill="url(#ballK)" stroke="none" stroke-width="1"/>
<polyline points="1161.1,994.0 1460.4,950.7" fill="none" stroke="#1a1aff" stroke-width="2.2" stroke-linejoin="round" stroke-linecap="round"/>
<circle cx="1161.1" cy="993.5" r="4.2" fill="url(#ballB)" stroke="none" stroke-width="1"/>
<circle cx="1285.0" cy="976.7" r="4.2" fill="url(#ballB)" stroke="none" stroke-width="1"/>
<circle cx="1380.2" cy="962.6" r="4.2" fill="url(#ballB)" stroke="none" stroke-width="1"/>
<circle cx="1460.4" cy="950.2" r="4.2" fill="url(#ballB)" stroke="none" stroke-width="1"/>
<polyline points="1161.1,972.0 1460.4,889.3" fill="none" stroke="#ff1a1a" stroke-width="2.2" stroke-linejoin="round" stroke-linecap="round"/>
<circle cx="1161.1" cy="971.0" r="4.2" fill="url(#ballR)" stroke="none" stroke-width="1"/>
<circle cx="1285.0" cy="939.2" r="4.2" fill="url(#ballR)" stroke="none" stroke-width="1"/>
<circle cx="1380.2" cy="911.8" r="4.2" fill="url(#ballR)" stroke="none" stroke-width="1"/>
<circle cx="1460.4" cy="888.4" r="4.2" fill="url(#ballR)" stroke="none" stroke-width="1"/>
<polyline points="1161.1,1188.8 1460.4,1178.4" fill="none" stroke="#119911" stroke-width="2.2" stroke-linejoin="round" stroke-linecap="round"/>
<circle cx="1161.1" cy="1188.6" r="4.2" fill="url(#ballG)" stroke="none" stroke-width="1"/>
<circle cx="1285.0" cy="1185.0" r="4.2" fill="url(#ballG)" stroke="none" stroke-width="1"/>
<circle cx="1380.2" cy="1181.0" r="4.2" fill="url(#ballG)" stroke="none" stroke-width="1"/>
<circle cx="1460.4" cy="1178.4" r="4.2" fill="url(#ballG)" stroke="none" stroke-width="1"/>
<polyline points="1161.1,1183.4 1460.4,1160.7" fill="none" stroke="#111" stroke-width="2.2" stroke-linejoin="round" stroke-linecap="round"/>
<circle cx="1161.1" cy="1183.3" r="4.2" fill="url(#ballK)" stroke="none" stroke-width="1"/>
<circle cx="1285.0" cy="1174.0" r="4.2" fill="url(#ballK)" stroke="none" stroke-width="1"/>
<circle cx="1380.2" cy="1167.4" r="4.2" fill="url(#ballK)" stroke="none" stroke-width="1"/>
<circle cx="1460.4" cy="1160.3" r="4.2" fill="url(#ballK)" stroke="none" stroke-width="1"/>
<polyline points="1161.1,1170.5 1460.4,1130.1" fill="none" stroke="#1a1aff" stroke-width="2.2" stroke-linejoin="round" stroke-linecap="round"/>
<circle cx="1161.1" cy="1169.6" r="4.2" fill="url(#ballB)" stroke="none" stroke-width="1"/>
<circle cx="1285.0" cy="1154.1" r="4.2" fill="url(#ballB)" stroke="none" stroke-width="1"/>
<circle cx="1380.2" cy="1143.5" r="4.2" fill="url(#ballB)" stroke="none" stroke-width="1"/>
<circle cx="1460.4" cy="1128.1" r="4.2" fill="url(#ballB)" stroke="none" stroke-width="1"/>
<polyline points="1161.1,1143.2 1460.4,1087.9" fill="none" stroke="#ff1a1a" stroke-width="2.2" stroke-linejoin="round" stroke-linecap="round"/>
<circle cx="1161.1" cy="1141.3" r="4.2" fill="url(#ballR)" stroke="none" stroke-width="1"/>
<circle cx="1285.0" cy="1123.7" r="4.2" fill="url(#ballR)" stroke="none" stroke-width="1"/>
<circle cx="1380.2" cy="1102.5" r="4.2" fill="url(#ballR)" stroke="none" stroke-width="1"/>
<circle cx="1460.4" cy="1086.6" r="4.2" fill="url(#ballR)" stroke="none" stroke-width="1"/>
<polyline points="1161.1,1375.0 1460.4,1360.3" fill="none" stroke="#119911" stroke-width="2.2" stroke-linejoin="round" stroke-linecap="round"/>
<circle cx="1161.1" cy="1375.3" r="4.2" fill="url(#ballG)" stroke="none" stroke-width="1"/>
<circle cx="1285.0" cy="1368.6" r="4.2" fill="url(#ballG)" stroke="none" stroke-width="1"/>
<circle cx="1380.2" cy="1363.8" r="4.2" fill="url(#ballG)" stroke="none" stroke-width="1"/>
<circle cx="1460.4" cy="1360.7" r="4.2" fill="url(#ballG)" stroke="none" stroke-width="1"/>
<polyline points="1161.1,1359.6 1460.4,1321.4" fill="none" stroke="#111" stroke-width="2.2" stroke-linejoin="round" stroke-linecap="round"/>
<circle cx="1161.1" cy="1359.4" r="4.2" fill="url(#ballK)" stroke="none" stroke-width="1"/>
<circle cx="1285.0" cy="1343.9" r="4.2" fill="url(#ballK)" stroke="none" stroke-width="1"/>
<circle cx="1380.2" cy="1332.0" r="4.2" fill="url(#ballK)" stroke="none" stroke-width="1"/>
<circle cx="1460.4" cy="1321.0" r="4.2" fill="url(#ballK)" stroke="none" stroke-width="1"/>
<polyline points="1161.1,1353.2 1460.4,1311.3" fill="none" stroke="#1a1aff" stroke-width="2.2" stroke-linejoin="round" stroke-linecap="round"/>
<circle cx="1161.1" cy="1352.8" r="4.2" fill="url(#ballB)" stroke="none" stroke-width="1"/>
<circle cx="1285.0" cy="1335.5" r="4.2" fill="url(#ballB)" stroke="none" stroke-width="1"/>
<circle cx="1380.2" cy="1324.5" r="4.2" fill="url(#ballB)" stroke="none" stroke-width="1"/>
<circle cx="1460.4" cy="1309.9" r="4.2" fill="url(#ballB)" stroke="none" stroke-width="1"/>
<polyline points="1161.1,1319.0 1460.4,1241.9" fill="none" stroke="#ff1a1a" stroke-width="2.2" stroke-linejoin="round" stroke-linecap="round"/>
<circle cx="1161.1" cy="1318.8" r="4.2" fill="url(#ballR)" stroke="none" stroke-width="1"/>
<circle cx="1285.0" cy="1287.9" r="4.2" fill="url(#ballR)" stroke="none" stroke-width="1"/>
<circle cx="1380.2" cy="1261.4" r="4.2" fill="url(#ballR)" stroke="none" stroke-width="1"/>
<circle cx="1460.4" cy="1242.4" r="4.2" fill="url(#ballR)" stroke="none" stroke-width="1"/>
<rect x="1131.20" y="851.50" width="359.20" height="548.20" stroke="#000" stroke-width="2.0" fill="none"/>
<line x1="1131.20" y1="1034.10" x2="1490.40" y2="1034.10" stroke="#000" stroke-width="2.0"/>
<line x1="1131.20" y1="1216.40" x2="1490.40" y2="1216.40" stroke="#000" stroke-width="2.0"/>
<line x1="1131.20" y1="1020.05" x2="1136.70" y2="1020.05" stroke="#000" stroke-width="1.6"/>
<line x1="1131.20" y1="977.92" x2="1136.70" y2="977.92" stroke="#000" stroke-width="1.6"/>
<line x1="1131.20" y1="935.78" x2="1136.70" y2="935.78" stroke="#000" stroke-width="1.6"/>
<line x1="1131.20" y1="893.64" x2="1136.70" y2="893.64" stroke="#000" stroke-width="1.6"/>
<line x1="1131.20" y1="851.50" x2="1136.70" y2="851.50" stroke="#000" stroke-width="1.6"/>
<line x1="1131.20" y1="998.98" x2="1133.80" y2="998.98" stroke="#000" stroke-width="1.6"/>
<line x1="1131.20" y1="956.85" x2="1133.80" y2="956.85" stroke="#000" stroke-width="1.6"/>
<line x1="1131.20" y1="914.71" x2="1133.80" y2="914.71" stroke="#000" stroke-width="1.6"/>
<line x1="1131.20" y1="872.57" x2="1133.80" y2="872.57" stroke="#000" stroke-width="1.6"/>
<text x="1123.50" y="1027.05" font-size="20" text-anchor="end" fill="#000" font-weight="bold">0.0</text>
<text x="1123.50" y="984.92" font-size="20" text-anchor="end" fill="#000" font-weight="bold">0.3</text>
<text x="1123.50" y="942.78" font-size="20" text-anchor="end" fill="#000" font-weight="bold">0.6</text>
<text x="1123.50" y="900.64" font-size="20" text-anchor="end" fill="#000" font-weight="bold">0.9</text>
<text x="1123.50" y="858.50" font-size="20" text-anchor="end" fill="#000" font-weight="bold">1.2</text>
<line x1="1131.20" y1="1202.01" x2="1136.70" y2="1202.01" stroke="#000" stroke-width="1.6"/>
<line x1="1131.20" y1="1163.63" x2="1136.70" y2="1163.63" stroke="#000" stroke-width="1.6"/>
<line x1="1131.20" y1="1125.25" x2="1136.70" y2="1125.25" stroke="#000" stroke-width="1.6"/>
<line x1="1131.20" y1="1086.87" x2="1136.70" y2="1086.87" stroke="#000" stroke-width="1.6"/>
<line x1="1131.20" y1="1048.49" x2="1136.70" y2="1048.49" stroke="#000" stroke-width="1.6"/>
<line x1="1131.20" y1="1182.82" x2="1133.80" y2="1182.82" stroke="#000" stroke-width="1.6"/>
<line x1="1131.20" y1="1144.44" x2="1133.80" y2="1144.44" stroke="#000" stroke-width="1.6"/>
<line x1="1131.20" y1="1106.06" x2="1133.80" y2="1106.06" stroke="#000" stroke-width="1.6"/>
<line x1="1131.20" y1="1067.68" x2="1133.80" y2="1067.68" stroke="#000" stroke-width="1.6"/>
<text x="1123.50" y="1209.01" font-size="20" text-anchor="end" fill="#000" font-weight="bold">0.0</text>
<text x="1123.50" y="1170.63" font-size="20" text-anchor="end" fill="#000" font-weight="bold">0.4</text>
<text x="1123.50" y="1132.25" font-size="20" text-anchor="end" fill="#000" font-weight="bold">0.8</text>
<text x="1123.50" y="1093.87" font-size="20" text-anchor="end" fill="#000" font-weight="bold">1.2</text>
<text x="1123.50" y="1055.49" font-size="20" text-anchor="end" fill="#000" font-weight="bold">1.6</text>
<line x1="1131.20" y1="1389.79" x2="1136.70" y2="1389.79" stroke="#000" stroke-width="1.6"/>
<line x1="1131.20" y1="1350.16" x2="1136.70" y2="1350.16" stroke="#000" stroke-width="1.6"/>
<line x1="1131.20" y1="1310.53" x2="1136.70" y2="1310.53" stroke="#000" stroke-width="1.6"/>
<line x1="1131.20" y1="1270.89" x2="1136.70" y2="1270.89" stroke="#000" stroke-width="1.6"/>
<line x1="1131.20" y1="1231.26" x2="1136.70" y2="1231.26" stroke="#000" stroke-width="1.6"/>
<line x1="1131.20" y1="1369.98" x2="1133.80" y2="1369.98" stroke="#000" stroke-width="1.6"/>
<line x1="1131.20" y1="1330.34" x2="1133.80" y2="1330.34" stroke="#000" stroke-width="1.6"/>
<line x1="1131.20" y1="1290.71" x2="1133.80" y2="1290.71" stroke="#000" stroke-width="1.6"/>
<line x1="1131.20" y1="1251.08" x2="1133.80" y2="1251.08" stroke="#000" stroke-width="1.6"/>
<text x="1123.50" y="1396.79" font-size="20" text-anchor="end" fill="#000" font-weight="bold">0.0</text>
<text x="1123.50" y="1357.16" font-size="20" text-anchor="end" fill="#000" font-weight="bold">0.8</text>
<text x="1123.50" y="1317.53" font-size="20" text-anchor="end" fill="#000" font-weight="bold">1.6</text>
<text x="1123.50" y="1277.89" font-size="20" text-anchor="end" fill="#000" font-weight="bold">2.4</text>
<text x="1123.50" y="1238.26" font-size="20" text-anchor="end" fill="#000" font-weight="bold">3.2</text>
<line x1="1161.13" y1="1399.70" x2="1161.13" y2="1394.20" stroke="#000" stroke-width="1.6"/>
<line x1="1221.00" y1="1399.70" x2="1221.00" y2="1394.20" stroke="#000" stroke-width="1.6"/>
<line x1="1280.87" y1="1399.70" x2="1280.87" y2="1394.20" stroke="#000" stroke-width="1.6"/>
<line x1="1340.73" y1="1399.70" x2="1340.73" y2="1394.20" stroke="#000" stroke-width="1.6"/>
<line x1="1400.60" y1="1399.70" x2="1400.60" y2="1394.20" stroke="#000" stroke-width="1.6"/>
<line x1="1460.47" y1="1399.70" x2="1460.47" y2="1394.20" stroke="#000" stroke-width="1.6"/>
<line x1="1191.07" y1="1399.70" x2="1191.07" y2="1397.10" stroke="#000" stroke-width="1.6"/>
<line x1="1250.93" y1="1399.70" x2="1250.93" y2="1397.10" stroke="#000" stroke-width="1.6"/>
<line x1="1310.80" y1="1399.70" x2="1310.80" y2="1397.10" stroke="#000" stroke-width="1.6"/>
<line x1="1370.67" y1="1399.70" x2="1370.67" y2="1397.10" stroke="#000" stroke-width="1.6"/>
<line x1="1430.53" y1="1399.70" x2="1430.53" y2="1397.10" stroke="#000" stroke-width="1.6"/>
<text x="1161.13" y="1423.40" font-size="20" text-anchor="middle" fill="#000" font-weight="bold">0.010</text>
<text x="1221.00" y="1423.40" font-size="20" text-anchor="middle" fill="#000" font-weight="bold">0.012</text>
<text x="1280.87" y="1423.40" font-size="20" text-anchor="middle" fill="#000" font-weight="bold">0.014</text>
<text x="1340.73" y="1423.40" font-size="20" text-anchor="middle" fill="#000" font-weight="bold">0.016</text>
<text x="1400.60" y="1423.40" font-size="20" text-anchor="middle" fill="#000" font-weight="bold">0.018</text>
<text x="1460.47" y="1423.40" font-size="20" text-anchor="middle" fill="#000" font-weight="bold">0.020</text>
<text x="1084.00" y="1115.70" font-size="19.5" text-anchor="middle" fill="#000" font-weight="bold" transform="rotate(-90 1084.00 1115.70)">Peak&#160; Current (mA)</text>
<text x="1311.00" y="1459.00" font-size="20.2" text-anchor="middle" fill="#000" font-weight="bold">Square root scan rates <tspan font-size="14" dy="2">(</tspan><tspan dy="-2">V s</tspan><tspan font-size="12.5" dy="-8.5">-1</tspan><tspan font-size="14" dy="10">)</tspan><tspan font-size="12.5" dy="-12">0.5</tspan></text>
<line x1="1145.70" y1="869.90" x2="1187.60" y2="869.90" stroke="#1a1aff" stroke-width="2.2"/>
<text x="1192.90" y="876.50" font-size="18.3" text-anchor="start" fill="#000" font-weight="bold">Co@NCNN-900-S</text>
<line x1="1145.70" y1="892.80" x2="1187.60" y2="892.80" stroke="#ff1a1a" stroke-width="2.2"/>
<text x="1192.90" y="899.40" font-size="18.3" text-anchor="start" fill="#000" font-weight="bold">Co@NCNN-800-S</text>
<line x1="1141.20" y1="1234.00" x2="1181.00" y2="1234.00" stroke="#111" stroke-width="2.2"/>
<text x="1187.60" y="1240.60" font-size="18.3" text-anchor="start" fill="#000" font-weight="bold">Co@NCNN-700-S</text>
<line x1="1141.20" y1="1257.00" x2="1181.00" y2="1257.00" stroke="#119911" stroke-width="2.2"/>
<text x="1187.60" y="1263.60" font-size="18.3" text-anchor="start" fill="#000" font-weight="bold">NCNN-S</text>
<text x="1424.30" y="1024.00" font-size="18.3" text-anchor="start" fill="#000" font-weight="bold">Peak A</text>
<text x="1424.30" y="1207.00" font-size="18.3" text-anchor="start" fill="#000" font-weight="bold">Peak B</text>
<text x="1424.30" y="1390.00" font-size="18.3" text-anchor="start" fill="#000" font-weight="bold">Peak C</text></svg></body></html>
